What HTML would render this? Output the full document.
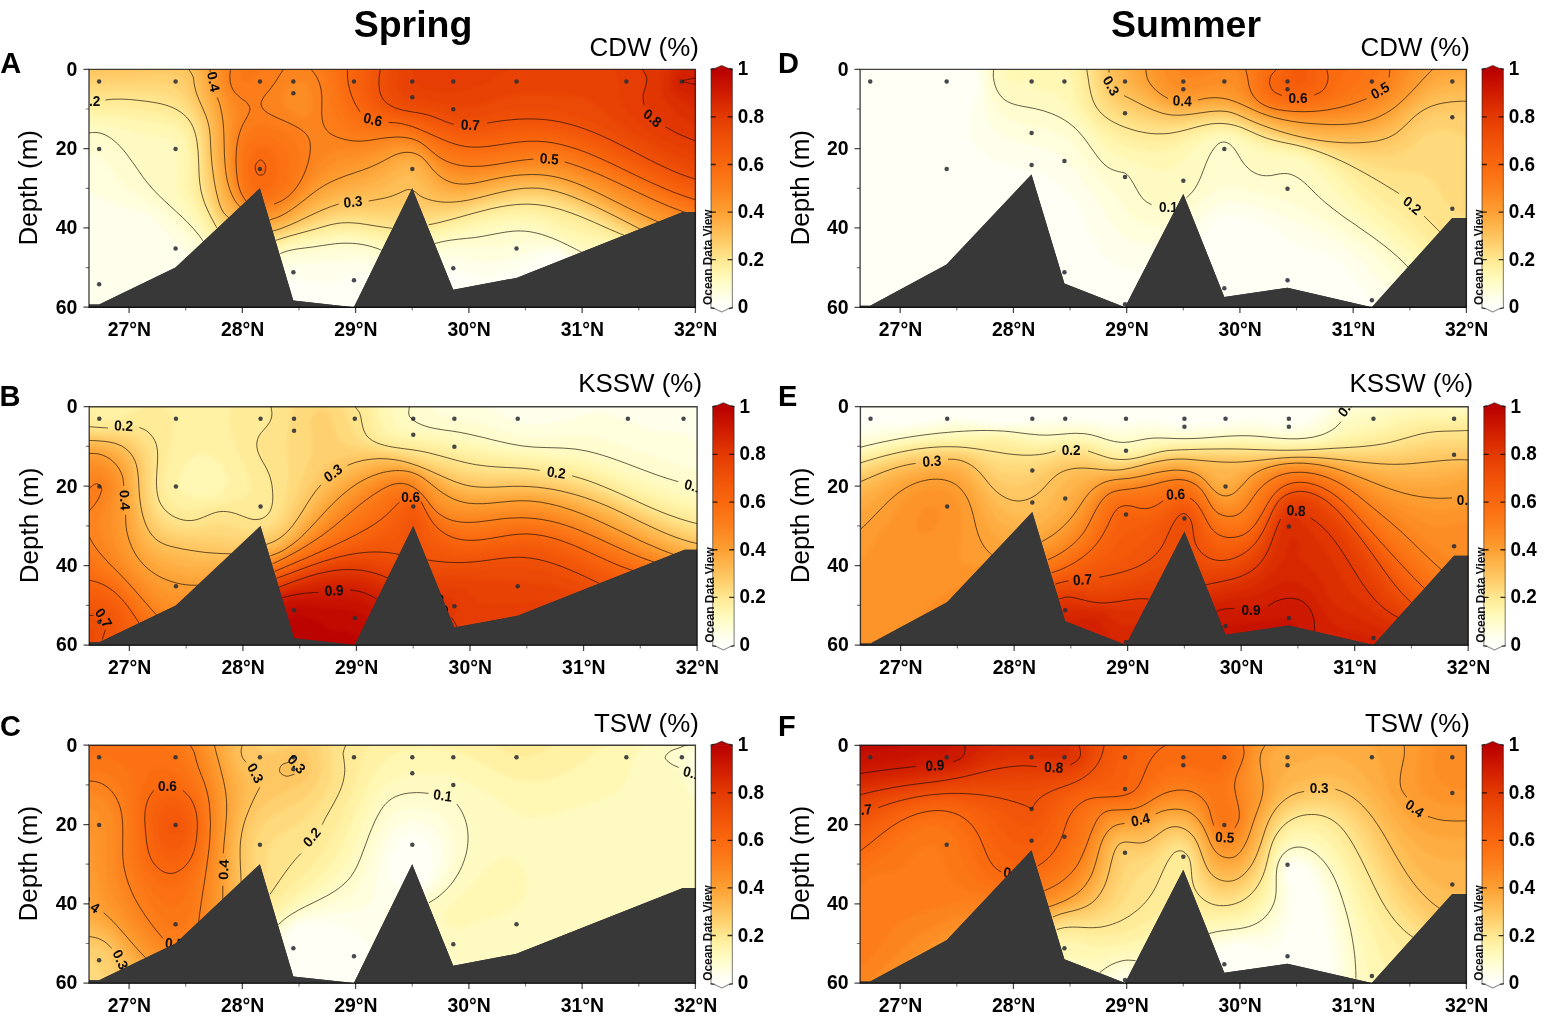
<!DOCTYPE html>
<html lang="en"><head><meta charset="utf-8"><title>Water mass sections</title>
<style>
html,body{margin:0;padding:0;background:#fff;}
body{width:1546px;height:1023px;overflow:hidden;font-family:'Liberation Sans', Arial, Helvetica, sans-serif;}
svg{display:block;font-family:'Liberation Sans', Arial, Helvetica, sans-serif;}
</style></head><body>
<svg width="1546" height="1023" viewBox="0 0 1546 1023">
<defs>
<linearGradient id="cb" x1="0" y1="0" x2="0" y2="1"><stop offset="0%" stop-color="#b80000"/><stop offset="10%" stop-color="#d01c00"/><stop offset="20%" stop-color="#e33a02"/><stop offset="30%" stop-color="#f05208"/><stop offset="40%" stop-color="#fa680e"/><stop offset="50%" stop-color="#fc801b"/><stop offset="60%" stop-color="#fda033"/><stop offset="65%" stop-color="#feb247"/><stop offset="70%" stop-color="#fec35d"/><stop offset="75%" stop-color="#ffd575"/><stop offset="80%" stop-color="#ffe892"/><stop offset="85%" stop-color="#fff5ac"/><stop offset="90%" stop-color="#fffcc8"/><stop offset="94%" stop-color="#fffede"/><stop offset="97%" stop-color="#fffff0"/><stop offset="100%" stop-color="#fffffb"/></linearGradient>
<filter id="bl" x="-5%" y="-5%" width="110%" height="110%" color-interpolation-filters="sRGB"><feGaussianBlur stdDeviation="2"/></filter>
</defs>
<rect width="1546" height="1023" fill="#fff"/>
<text x="413" y="37.3" text-anchor="middle" font-weight="700" font-size="37.5">Spring</text>
<text x="1186" y="37.3" text-anchor="middle" font-weight="700" font-size="37.5">Summer</text>

<g id="panelA">
<clipPath id="clipA"><rect x="89" y="69.4" width="606.4" height="237.8"/></clipPath>
<g clip-path="url(#clipA)"><g filter="url(#bl)"><rect x="60" y="40.4" width="664.4" height="295.8" fill="#fffff6"/><path fill="#ffffec" fill-rule="evenodd" d="M80 60.4L707 60.4L707 318.4L663.7 318.4L660.7 315.4L644 302.7L623 288.4L611 282.4L587 274.1L581 271.6L572 266.1L560 256L557 254.7L554 254.2L545.2 255.4L539 257.7L522.8 267.4L515 271L503 274.5L491 276.9L485 277.5L479 277.3L473 276.2L455 271.3L443 270.3L434 271.1L410 275.4L398 276.7L386 276.8L365 275.6L356 276.1L347 278.1L335 282.8L329 284.4L323 284.1L296 279.3L287 278.7L281 279.4L251 285.1L239 286L230 285.7L218 284.1L209 282L176 270.8L170 270.1L167 270.3L164 271.2L161 273L158 275.9L148.7 288.4L140.2 297.4L132.2 303.4L125 307.3L116 310.9L104 313.7L92 314.2L80 312.6Z"/><path fill="#fffedd" fill-rule="evenodd" d="M80 60.4L707 60.4L707 318.4L675.9 318.4L672.9 315.4L641.4 291.4L623 279L611 273.3L590 267.7L581 264.5L575 261L563 251.5L558.9 249.4L554 248.4L545 248.3L537 249.4L530 251.5L518 257.1L512 259.1L500.5 261.4L491 262.5L482 262.6L458 258.3L446 258L437 259.4L410 266.1L395 267.3L383 266.3L359 261.3L347 260.7L323 262.7L302 263.5L293 264.4L284 266.6L263 273.7L248 276.5L239 276.8L230 276L224 274.9L215 272L205.8 267.4L197 261.1L167 233.3L154.2 219.4L149 215L143 212.3L115.2 204.4L107 200.9L89 191.4L80 189Z"/><path fill="#fffdcf" fill-rule="evenodd" d="M80 60.4L707 60.4L707 318.4L687.7 318.4L684.6 315.4L635 277.8L626 271.7L617 266.9L608 263.8L590 260.7L584 259.2L578 256.6L566 248.6L560 245.5L551 243.1L542 241.7L533 241.3L524 241.8L497 246.4L485 247.7L458 247.5L446 248.3L437 250.2L416 256.7L401 259.2L389 258.9L383 257.8L362 251.8L353 250.7L344 250.6L332 251.4L293 255.8L284 258.3L263 266.3L251 268.9L242 269.4L236 269L227 267.2L221 265.1L212 260.4L205.7 255.4L188 235.8L158 208.6L152 204L133.5 192.4L125.7 186.4L116.9 177.4L104 160.8L98 155L95 153.2L89 151.4L80 151.7Z"/><path fill="#fffac1" fill-rule="evenodd" d="M80 60.4L707 60.4L707 318.4L699.5 318.4L696.3 315.4L671 296.9L635 269.4L626 263.1L620 259.6L614 257L608 255.4L584 252.6L554 238.6L539 233.7L527 231.5L518 231.1L509 231.7L479 237L449 240.6L436 243.4L416 249.7L404 251.9L395 252.3L389 251.8L383 250.5L370.2 246.4L362 244.6L353 243.5L341.4 243.4L332 244.3L293 249.9L283.9 252.4L266 259.4L254 262.4L245 263.1L239 262.8L230 261L224 258.9L217.6 255.4L210 249.4L191 226.1L153.5 189.4L145.8 180.4L126.3 153.4L121.1 147.4L114.8 141.4L105.7 135.4L98 133L92 132.8L80 134.4Z"/><path fill="#fff7b3" fill-rule="evenodd" d="M80 60.4L707 60.4L707 314.2L701 310.6L683 297.9L632 259.3L620 251.6L614 249L605 246.6L587 244.8L581 243.6L566 237.8L545 227.3L536 224.4L527 222.7L512 222.3L497 224.4L443 236L416 243.5L404 245.6L395 245.9L389 245.4L362 238.9L350 237.6L341 237.6L329 239.1L290 246.1L281 248.9L266 254.5L254 257.3L245 257.7L239 257.1L233 255.8L227 253.7L218 248.4L209.7 240.4L186.5 207.4L181 198.4L177.6 189.4L176.9 183.4L178.8 162.4L178.4 153.4L176 145.7L173 141.4L169 138.4L164 136.4L158 135.1L137 132.3L107 124L95 122.7L80 123.6Z"/><path fill="#fff2a5" fill-rule="evenodd" d="M80 60.4L707 60.4L707 306.3L701 302.8L677 286.1L656 270.7L629 250L620 244.4L608 239.9L575 231.6L546.9 219.4L539 217.2L530 215.7L515 215.3L497 217.5L487.8 219.4L422 236.3L404 239.6L392 239.8L359 233.2L350 232.4L341 232.5L329 234.1L293 241.6L284 244L266 250.4L257 252.4L248 253L242 252.5L236 251.3L230 249.2L221 244.2L216.5 240.4L212 235.3L198.8 213.4L192.5 201.4L189.5 192.4L188.4 186.4L187.9 177.4L188.1 156.4L187.1 147.4L185 139.8L180.8 132.4L177.8 129.4L173 126.3L167 124L161 122.7L113 115.6L95 114.6L80 114.9Z"/><path fill="#ffeb98" fill-rule="evenodd" d="M80 60.4L707 60.4L707 298.8L701 295.4L671 275L632 245.9L623 240L609.6 234.4L561.5 216.4L548 212.4L536 210.1L527 209.4L518 209.4L500 211.5L479 216.3L434 228.5L407 233.5L398 234.2L392 234L359 228.3L350 227.5L341 227.7L329 229.5L296 237.5L285.1 240.4L269 245.8L260 248L251 248.7L245 248.4L239 247.3L233 245.3L223.8 240.4L218 235.5L215 232L210.8 225.4L204.5 213.4L199 201.4L196.2 192.4L194.7 183.4L193.9 156.4L192.6 144.4L191 137.2L189.2 132.4L185 125.1L179 119.7L173 116.5L164 113.7L155 111.8L122 107.5L80 106.9Z"/><path fill="#ffe38b" fill-rule="evenodd" d="M80 60.4L707 60.4L707 291.6L701 288.3L671 268.5L631.8 240.4L623 235.1L586.9 219.4L571.7 213.4L552.2 207.4L536 204.7L527 204.2L518 204.6L500 207L484.7 210.4L440 222.3L428 224.8L416 226.4L401 228L392 228.1L359 223.4L350 222.8L341 223L326 226L263 244L254 244.9L248 244.6L242 243.6L236 241.7L227 237.2L221 232.5L218 229.2L210.5 216.4L205 204.4L201.2 192.4L199.7 183.4L197.8 150.4L196.2 138.4L193.7 129.4L191 123.5L188 119.1L182 113.2L176 109.3L167 105.5L155 102.6L140 100.6L125 99.3L101 99.9L80 99Z"/><path fill="#ffda7c" fill-rule="evenodd" d="M80 60.4L707 60.4L707 284.7L701 281.5L671 262.5L638.8 240.4L626 232.5L591.3 216.4L575 209.6L557 203.7L548 201.5L539 200.2L524 199.9L506 202L491 205.1L446 216.2L425 219.7L392 221.7L356 218.1L341 218.4L326 221.8L275 238L266 240.3L257 241.3L251 241.1L245 240.2L239 238.4L230 234.1L224 229.6L221 226.6L215 217.5L210.1 207.4L207 198.4L204.3 186.4L202.9 174.4L200.9 144.4L199 132.4L197.3 126.4L194.6 120.4L188 110.7L182 104.5L176 99.8L170 96.5L161 93.9L152 92.7L134 91.7L119 91.5L101 92.2L80 91.1Z"/><path fill="#ffd06f" fill-rule="evenodd" d="M80 60.4L707 60.4L707 278.1L701 275L671 256.8L636.1 234.4L625.2 228.4L594 213.4L572.4 204.4L554 198.5L539 195.9L527 195.7L512 197.2L497 200.1L458 209.4L446 211.6L434 213L389 214.5L353 212.9L341 213.8L326 217.6L287.5 231.4L269 236.9L260 238L254 237.9L248 237L242 235.3L233 231.1L225.4 225.4L220.2 219.4L215 210.4L210.7 198.4L208 186.4L206.2 171.4L203.7 138.4L201.4 126.4L197.8 117.4L194 110.5L185 97.4L179 90.2L173 86.1L167 84.3L161 83.4L149 83.1L101 84.3L80 82.9Z"/><path fill="#fec763" fill-rule="evenodd" d="M80 60.4L707 60.4L707 271.7L665 248L637.6 231.4L602 213.4L582.2 204.4L566 198.2L551 193.8L539 192L527 191.8L512 193.6L464 204.5L446 207L431 207L407 204.4L380 207.2L353 207.6L344 208.3L329 212.1L288.4 228.4L272 233.6L263 234.9L257 234.9L251 234.1L245 232.4L236 228.1L227 221.5L221 214.7L217.2 207.4L213.5 195.4L210.7 180.4L208.9 165.4L206.8 135.4L205.2 126.4L200.9 114.4L191.7 96.4L185.4 81.4L183.1 78.4L179 75.7L176 74.6L164 72.8L155 72.9L131 75.4L122 75.7L98 75.8L80 74.2Z"/><path fill="#febf57" fill-rule="evenodd" d="M80 60.4L707 60.4L707 265.5L665 243.1L644.7 231.4L593 205.5L578 199L563 193.4L551 190.1L539 188.3L527 188.2L515 189.5L503 191.7L467 200.2L458 201.6L449 202.2L440 201.7L431 200L422 196.7L413 191L410 190.1L407 190.1L393.5 195.4L382.9 198.4L368 201L347 202.5L335 205.2L320 210.9L288.7 225.4L272 231L266 231.9L260 232L254 231.3L248 229.7L239.2 225.4L230 218.7L224 212.5L219.9 204.4L215.9 189.4L213.2 174.4L211.6 159.4L210.1 135.4L208.2 123.4L205.3 114.4L196.5 93.4L192 75.4L188 69.2L185 66.8L179 64L173 62.4L167 61.6L155 62L128 66.2L104 66.7L92 66.1L80 64.4Z"/><path fill="#feb64c" fill-rule="evenodd" d="M189.7 60.4L707 60.4L707 259.6L599 204.7L578 195.3L560 188.9L551 186.6L542 185.1L533 184.6L524 184.9L506 187.5L467 196.4L458 197.4L449 197.3L440 195.7L432.1 192.4L425 186.8L416 177.3L413 175.4L410 174.5L407 174.6L401 176.9L386.7 186.4L377 190.7L365 193.9L344 197.1L329 201.9L317 207.4L290 221.7L278 226.6L272 228.3L266 229.1L257 228.6L251 227.1L242 222.7L234 216.4L227 209.2L223 201.4L219.5 189.4L216.6 174.4L214.9 159.4L213.3 132.4L211.3 120.4L208.5 111.4L201.8 93.4L197 72.7L194 66.4Z"/><path fill="#fead42" fill-rule="evenodd" d="M197.2 60.4L707 60.4L707 253.7L662 232.5L593 198.2L578 191.6L563 186.2L554 183.8L545 182.1L536 181.3L524 181.5L506 183.8L470 192L461 192.9L452 192.7L443 190.5L437 187.5L431 182.6L419 168.2L415.1 165.4L410 164.1L407 164.2L401 166.1L383 177.8L371 183.7L362 186.6L341 191.6L326 197.3L314 203.7L293.2 216.4L281 222.5L272 225.4L266 226.2L257 225.5L251 223.6L243.5 219.4L234.1 210.4L229.2 204.4L225.1 195.4L221.7 183.4L219.5 171.4L218.1 156.4L216.8 132.4L215.1 120.4L212 108.5L205.8 90.4L201.7 72.4Z"/><path fill="#fda438" fill-rule="evenodd" d="M202.9 60.4L707 60.4L707 248.1L683 236.9L659 226.7L587 191.7L575 186.7L563 182.5L554 180.2L545 178.7L536 178L524 178.1L505.2 180.4L470 187.9L461 188.5L455 188.1L446 185.8L440 182.6L433.9 177.4L421.2 162.4L416 158.9L410 157.5L404 158L399.3 159.4L393.3 162.4L380 170.5L371 175L362 178.4L338 186L329 189.6L317 196.2L291.7 213.4L280.4 219.4L272 222.3L266 223.2L260 222.9L254 221.4L249.6 219.4L245 216.3L236.4 207.4L231.8 201.4L228.8 195.4L226.6 189.4L224.3 180.4L222.3 168.4L220.3 132.4L218.4 117.4L215.5 105.4L209.4 87.4Z"/><path fill="#fd9c30" fill-rule="evenodd" d="M208.1 60.4L707 60.4L707 242.5L683 231.7L665 224.8L652.7 219.4L587 187.6L566 179.6L557 177.2L548 175.6L539 174.7L527 174.6L506 176.8L470 183.6L461 184L455 183.3L449 181.5L443 178.5L434 171L422 157.8L416 154.2L410 152.7L401 153.2L395 155.1L371 166.8L344 176.4L332 181.4L326 184.5L317 190.3L290.3 210.4L278 217L272 219.1L266 220.1L260 219.7L254 218.1L248 214.9L245 212.4L237.6 204.4L232 195.4L228.7 186.4L226.6 177.4L225 165.4L223.7 129.4L222.1 114.4L220 105.4L212.9 84.4Z"/><path fill="#fd942a" fill-rule="evenodd" d="M213.3 60.4L707 60.4L707 237.1L683 226.5L665 219.8L650.1 213.4L590 184.6L578 179.6L566 175.5L557 173.2L548 171.8L530 171L509 172.9L473 179.1L464 179.5L458 179L449 176.3L443 173.1L437 168.4L425 156.2L419 151.9L413 149.4L407 148.4L401 148.6L392 150.7L371 159.3L347 167.1L335 171.9L329 175.2L320 181.5L293 204.7L287 208.8L278 213.5L272 215.7L266 216.8L260 216.5L254 214.8L248 211.4L245 208.9L238.4 201.4L233.5 192.4L230.6 183.4L228.8 174.4L227.6 162.4L227.4 126.4L226.5 114.4L224.5 105.4L217 84.4L215.2 75.4Z"/><path fill="#fc8c24" fill-rule="evenodd" d="M218.6 60.4L707 60.4L707 231.8L683 221.4L653 209.5L591.2 180.4L578 175.1L566 171.1L551 168.2L533 167.2L515 168.6L476 174.7L467 175.1L458 174.2L449 171.4L443 168.2L437 163.7L425 152.6L419 148.4L413 145.8L404 144.5L398 144.8L389 146.5L365 154.1L343.1 159.4L335 162.4L329 165.8L323 170.4L299.1 195.4L293 200.7L287 205.1L278 209.9L269 213L266 213.5L260 213.3L254 211.6L248 208.2L241.1 201.4L236 192.4L233.1 183.4L231.1 171.4L230.2 156.4L230.4 144.4L231.7 123.4L231.5 114.4L229.4 105.4L223.1 90.4L221.2 84.4L219.6 75.4Z"/><path fill="#fc841e" fill-rule="evenodd" d="M224.6 60.4L707 60.4L707 226.6L683.2 216.4L656 205.6L595.3 177.4L580.3 171.4L566 166.7L551 164.1L533 163.3L518 164.6L479 170.3L470 170.7L461 170.1L452 167.9L443 163.7L437 159.5L425 149.1L419 145.1L413 142.5L404 140.9L398 140.8L389 141.8L365 147.2L356 148.6L338 150.1L332 151.5L329 152.7L323.8 156.4L320 160.6L306.7 180.4L299.8 189.4L294.1 195.4L287 201.3L278 206.2L269 209.4L263 210.2L260 210L254 208.5L248 205.2L245 202.6L241.7 198.4L237.4 189.4L235 180.4L233.3 165.4L233.2 150.4L234.3 138.4L237.7 117.4L237.5 111.4L235.7 105.4L227.8 90.4L225.7 84.4L224.4 75.4ZM299 81.1L296 81.5L293 82.8L290 85.1L287 88.7L284.4 93.4L283.4 96.4L283 99.4L283.4 102.4L284.7 105.4L287 108.4L290.5 111.4L299 116.2L302 117.2L305 117.4L308 116L310.8 111.4L311.8 105.4L311.7 96.4L310.2 90.4L308 86.3L305 83.2L302 81.6Z"/><path fill="#fc7d19" fill-rule="evenodd" d="M232.1 60.4L707 60.4L707 221.6L659 202.2L593 171.9L575.8 165.4L563 161.6L548 159.6L533 159.2L521 160.3L485 165.7L473 166.3L464 165.8L455 164.1L446 160.8L437 155.3L422 143.5L416 140.4L410 138.5L401 137.2L392 137.3L368 140.5L359 141.1L350 140.4L338 137.4L333.2 135.4L328.6 132.4L325.9 129.4L324.1 126.4L322.1 117.4L321.8 99.4L321 90.4L319.6 84.4L317 77.9L313.4 72.4L308 67.1L302 64.2L296 63.4L290 64.8L287 66.4L283.6 69.4L272 86.5L264.3 96.4L261.3 102.4L261.2 105.4L262.8 108.4L266 111.4L270.6 114.4L295.4 126.4L304.4 132.4L307.3 135.4L309.1 138.4L310 141.4L310.5 147.4L309.5 156.4L307.2 165.4L303.8 174.4L298.9 183.4L292 192.4L285 198.4L278 202.3L269 205.6L263 206.6L260 206.5L254 205.2L248 202L245 198.9L242.7 195.4L239 186.4L237.3 177.4L236.2 159.4L236.5 150.4L237.8 141.4L239 135.7L242 127L248.4 114.4L249.7 111.4L250.2 108.4L249.3 105.4L246.7 102.4L239 96.2L236 93.1L232.4 87.4L231.3 84.4L230.2 78.4L230.4 72.4Z"/><path fill="#fb7716" fill-rule="evenodd" d="M246.6 60.4L263.4 60.4L260 69.4L256.7 75.4L254 78.6L251 80.9L248 82L244.6 81.4L242.2 78.4L241.9 75.4L243.2 69.4ZM318.3 60.4L707 60.4L707 216.7L662 199.2L594.8 168.4L579.3 162.4L566 158.2L551 155.7L536 154.8L524 155.7L485 161.4L473 161.8L464 161.1L455 159.3L446 156.2L440 153L422 140.2L416 137.3L410 135.3L404 134.1L395 133.4L365 134.7L356 133.5L350 131.5L344 128.2L338.5 123.4L336.2 120.4L333.1 114.4L331.4 108.4L328.9 90.4L326.4 78.4L323.1 69.4ZM254.3 126.4L260 124.9L269 126.1L278.4 129.4L287 134.2L291.7 138.4L295.7 144.4L297.9 150.4L298.9 156.4L298.7 165.4L296.8 174.4L294.4 180.4L290 187.7L284 193.9L278 197.8L269.2 201.4L263 202.7L257 202.4L254 201.7L251 200.3L248 198L245 193.7L243.1 189.4L241.4 183.4L240.4 177.4L239.7 159.4L240.5 150.4L242 143.1L245 135.7L248 131.2L251 128.3Z"/><path fill="#fb7113" fill-rule="evenodd" d="M329.2 60.4L707 60.4L707 212L668 197.8L596 164.8L581 158.9L566 154.1L551 151.4L536 150.4L521 151.5L485 156.8L473 157.1L464 156.2L455 154.4L446 151.2L440 148.1L422 136.9L410 132.2L398 130L377 129.8L368 129.1L362 128L357.4 126.4L353 124.1L348.4 120.4L343.6 114.4L340.6 108.4L337.2 96.4L332.7 72.4ZM253.2 138.4L257 136.4L263 135.6L269 136.6L275 139.3L281 143.9L283.9 147.4L287.1 153.4L288.8 159.4L289.5 168.4L288.8 174.4L287 180.4L284 185.7L280.8 189.4L275 193.6L269 196.4L263 198L257 198L254 197.1L251 195.3L248 191.5L245 183L243.8 168.4L244.1 159.4L244.9 153.4L248 144.4L251 140.3Z"/><path fill="#fa6b10" fill-rule="evenodd" d="M338.2 60.4L707 60.4L707 207.4L689 201.7L671 195.1L650.8 186.4L596 160.7L578 153.7L563 149.3L548 146.6L533 145.9L521 146.8L485 151.8L476 152.2L467 151.7L458 150L449 147.2L440 143.1L422 133.6L410 129L398 126.5L383 125.8L374 124.8L365 122.5L359 119.5L353.3 114.4L349.4 108.4L347 103.3L344.5 96.4L342.3 87.4ZM258.9 147.4L263 146.9L266 147.6L270.5 150.4L273.2 153.4L275 156.4L277.1 162.4L278.2 171.4L277.5 177.4L276.5 180.4L274.9 183.4L272.4 186.4L266 190.4L260 191.7L257 191.2L254 189.5L251.9 186.4L250 180.4L249 168.4L249.4 162.4L251 155.8L254 150.6L257 148.1Z"/><path fill="#f9650d" fill-rule="evenodd" d="M346.6 60.4L707 60.4L707 202.7L691.4 198.4L671 191L653.1 183.4L593 155.1L578 149.4L563 144.9L548 142.1L533 141.2L518 142.2L485 146.6L476 147.1L467 146.6L458 144.9L449 142.1L422 130.2L410 125.8L398 123.1L380 121.2L371 118.7L365 115.8L360 111.4L356 105.4L353.1 99.4L350.9 93.4L348.6 84.4ZM258.2 162.4L260 161.1L263 162L265.3 165.4L265.7 168.4L265.1 171.4L263 174.8L260 175.7L257 173.2L255.5 168.4L256 165.4L257 163.4Z"/><path fill="#f6600c" fill-rule="evenodd" d="M354.8 60.4L707 60.4L707 197.9L689 193.2L670.3 186.4L649.8 177.4L596 151.7L581 145.8L563 140.3L545 137L530 136.3L515 137.3L482 141.6L473 141.9L464 141.2L458 140L449 137.3L422 126.6L410 122.5L401 120.4L386 118.1L377 115.5L371 112.4L366.2 108.4L362 102.4L359.2 96.4L357.2 90.4L355.5 81.4Z"/><path fill="#f45a0a" fill-rule="evenodd" d="M363.1 60.4L707 60.4L707 192.9L692 189.4L674.9 183.4L654.1 174.4L614 154.7L596 146.4L578 139.6L563 135.1L545 131.9L530 131.1L512 132.3L479 136.4L464 136.1L458 135.2L449 132.7L428 124.7L416 120.7L389 114.6L383 112.7L377 109.6L372 105.4L369.7 102.4L366.5 96.4L364.6 90.4L363.2 81.4Z"/><path fill="#f15509" fill-rule="evenodd" d="M371.9 60.4L707 60.4L707 187.5L692 184.1L673.5 177.4L653.5 168.4L602 143L584 135.7L566 130.1L548 126.6L530 125.5L509 126.7L476 130.9L461 130.7L452 129L422 118.3L398 112.8L389 110.1L383 107.1L377.6 102.4L375.5 99.4L372.8 93.4L371.5 87.4L371 81.4Z"/><path fill="#ee4f07" fill-rule="evenodd" d="M380.9 60.4L707 60.4L707 181.5L700.6 180.4L692 178L674.2 171.4L654.8 162.4L617 143L599 134.5L581 127.5L563 122.4L545 119.5L524 118.8L506 120.2L476 124.6L461 125.1L452 123.7L428 115L397.6 108.4L390.6 105.4L386.3 102.4L383.6 99.4L380.5 93.4L379.3 87.4L379 81.4Z"/><path fill="#eb4906" fill-rule="evenodd" d="M390.1 60.4L707 60.4L707 174.7L693.2 171.4L677 165.3L652 153.4L599 125L584 118.6L566 113.4L545 110.2L524 109.6L503 111.8L473.4 117.4L461 118.2L452 116.9L431 109.8L407 105.6L401 103.7L398 102.4L393.7 99.4L391 96.4L388.3 90.4L387.6 81.4Z"/><path fill="#e84304" fill-rule="evenodd" d="M400.5 60.4L707 60.4L707 166.6L698 164.5L683 159.2L668 152.6L652 144.4L636.5 135.4L622.6 126.4L610.4 117.4L593 103.1L587 99.6L581 97.6L569 95.8L539 93.3L524 93.1L515 94.8L479 105.7L470 107.6L461 108.5L452 107.5L434 103L410 98.4L405.3 96.4L401.6 93.4L399.6 90.4L398.4 87.4L397.9 84.4L397.9 78.4Z"/><path fill="#e53d03" fill-rule="evenodd" d="M414.7 60.4L536.1 60.4L527 62.5L515 66.5L506 71.1L489.3 81.4L476 87.2L458 91.2L446 92.2L437 91.5L428 90.1L419.8 87.4L416 84.5L414.1 81.4L412.9 75.4ZM605.2 60.4L707 60.4L707 157L698 154.5L686.9 150.4L666.6 141.4L650.8 132.4L642.1 126.4L634.7 120.4L629 114.4L623.4 105.4L621.4 99.4L619 84.4L616.4 75.4L613.2 69.4Z"/><path fill="#e13602" fill-rule="evenodd" d="M638.9 60.4L707 60.4L707 145.2L686 137.1L670.3 129.4L665 126.1L657.6 120.4L648.4 111.4L644.7 105.4L643.4 99.4L643.8 93.4L645.8 84.4L646.3 78.4L645.5 75.4L641 66.4Z"/><path fill="#dc2f01" fill-rule="evenodd" d="M662.4 60.4L707 60.4L707 131.4L695 125.9L683 118.3L674 110.3L664.5 99.4L661.9 93.4L661 87.4L662.4 72.4Z"/><path fill="#d72701" fill-rule="evenodd" d="M676.3 60.4L707 60.4L707 115.9L701 112.9L680 99.8L674 94.8L671 90.6L669.4 84.4L669.9 78.4L672.3 69.4Z"/><path fill="#d22000" fill-rule="evenodd" d="M699.4 60.4L707 60.4L707 100.2L695 95.3L683 92.5L679.7 90.4L677.1 87.4L675.9 84.4L675.7 81.4L676.2 78.4L677.4 75.4L680 72L683 70.1L692 68.7L695 67.1L698.1 63.4Z"/><path fill="#cd1900" fill-rule="evenodd" d="M694.9 81.4L698 80.2L701 80.4L703.6 81.4L698 82.7Z"/></g></g>
<polygon fill="#383838" points="89,304.4 99.1,304.4 175.5,267.6 259.9,188.3 293.3,300.5 353.9,307.2 412.2,188.3 453.2,289.8 516.4,277.9 682.9,212.1 695.4,212.1 695.4,307.7 89,307.7"/>
<g fill="#2b2f36" fill-opacity="0.88"><circle cx="99.13" cy="81.43" r="2.25"/><circle cx="175.58" cy="81.43" r="2.25"/><circle cx="259.96" cy="81.43" r="2.25"/><circle cx="293.37" cy="81.43" r="2.25"/><circle cx="353.97" cy="81.43" r="2.25"/><circle cx="412.3" cy="81.43" r="2.25"/><circle cx="453.3" cy="81.43" r="2.25"/><circle cx="516.5" cy="81.43" r="2.25"/><circle cx="626.36" cy="81.43" r="2.25"/><circle cx="681.86" cy="81.43" r="2.25"/><circle cx="293.37" cy="93.36" r="2.25"/><circle cx="412.3" cy="97.34" r="2.25"/><circle cx="453.3" cy="109.27" r="2.25"/><circle cx="99.13" cy="149.04" r="2.25"/><circle cx="175.58" cy="149.04" r="2.25"/><circle cx="259.96" cy="168.93" r="2.25"/><circle cx="412.3" cy="168.93" r="2.25"/><circle cx="175.58" cy="248.47" r="2.25"/><circle cx="516.5" cy="248.47" r="2.25"/><circle cx="99.13" cy="284.27" r="2.25"/><circle cx="293.37" cy="272.34" r="2.25"/><circle cx="353.97" cy="280.29" r="2.25"/><circle cx="453.3" cy="268.36" r="2.25"/></g>
<g clip-path="url(#clipA)"><path d="M88.7 132.9C90.2 132.8 94.5 132.2 97.2 132.5C99.9 132.8 102.4 133.7 104.8 134.7C107.2 135.8 109.4 137.2 111.6 138.7C113.7 140.3 115.7 142.1 117.7 143.9C119.6 145.8 121.4 147.8 123.2 149.8C124.9 151.8 126.6 154 128.2 156.2C129.9 158.4 131.5 160.6 133.1 162.9C134.6 165.1 136.2 167.4 137.8 169.7C139.4 172 140.9 174.3 142.6 176.5C144.2 178.7 145.8 180.9 147.6 183C149.3 185.1 151.1 187.2 152.9 189.2C154.7 191.2 156.6 193.1 158.6 195.1C160.5 197 162.4 198.8 164.4 200.7C166.4 202.6 168.4 204.4 170.4 206.2C172.4 208 174.4 209.8 176.3 211.7C178.3 213.5 180.3 215.3 182.3 217.2C184.2 219.1 186.2 221 188 222.9C189.9 224.8 191.8 226.8 193.6 228.8C195.4 230.9 197.1 232.9 198.8 235.1C200.5 237.2 202.8 240.7 203.6 241.8M105.5 100C106.8 99.8 111 99.3 113.7 99.2C116.4 99.1 119 99.1 121.7 99.1C124.3 99.2 126.9 99.3 129.6 99.5C132.2 99.7 134.8 100 137.5 100.3C140.2 100.5 142.9 100.9 145.6 101.2C148.3 101.6 151 101.9 153.7 102.4C156.4 102.8 159.2 103.4 161.8 104C164.5 104.7 167.1 105.4 169.6 106.4C172.2 107.3 174.6 108.4 177 109.8C179.3 111.1 181.5 112.6 183.5 114.3C185.6 116 187.4 117.9 189 120C190.6 122.1 191.9 124.4 192.9 126.8C194 129.3 194.8 131.9 195.5 134.5C196.2 137 196.7 139.7 197.1 142.3C197.5 145 197.8 147.7 198 150.4C198.2 153.1 198.3 155.8 198.5 158.5C198.6 161.3 198.6 164 198.8 166.7C198.9 169.5 198.9 172.2 199.1 174.9C199.3 177.6 199.5 180.3 199.8 183C200.1 185.6 200.5 188.3 201 190.9C201.6 193.5 202.3 196.1 203.1 198.6C203.9 201.2 204.8 203.7 205.9 206.2C206.9 208.6 208 211.1 209.2 213.5C210.4 215.9 211.6 218.3 212.9 220.7C214.2 223.1 216.2 226.6 216.8 227.8M188.6 69.2C189.3 70.4 192 73.7 192.9 76.3C193.9 78.8 193.8 81.8 194.3 84.5C194.9 87.3 195.4 90 196.3 92.6C197.1 95.2 198.1 97.7 199.2 100.2C200.2 102.8 201.4 105.2 202.5 107.8C203.6 110.3 204.7 112.8 205.7 115.4C206.6 118 207.6 120.6 208.2 123.2C208.9 125.9 209.4 128.6 209.7 131.3C210.1 134 210.2 136.8 210.4 139.6C210.6 142.4 210.7 145.2 210.8 148C211 150.7 211.1 153.5 211.3 156.3C211.5 159 211.8 161.7 212 164.5C212.3 167.2 212.6 169.9 213 172.7C213.3 175.4 213.7 178.1 214.2 180.8C214.7 183.5 215.2 186.3 215.7 189C216.3 191.7 216.9 194.4 217.6 197.1C218.3 199.8 218.9 202.6 219.9 205.2C220.9 207.7 221.9 210.3 223.5 212.5C225.1 214.7 228.3 217.3 229.3 218.3M217.3 97.5C217.8 98.8 219.3 102.7 220 105.3C220.7 108 221.3 110.6 221.8 113.3C222.3 116 222.7 118.6 223 121.3C223.3 124 223.5 126.7 223.7 129.5C223.8 132.2 223.9 134.9 224 137.6C224.1 140.4 224.1 143.1 224.2 145.9C224.3 148.6 224.3 151.4 224.4 154.2C224.5 156.9 224.7 159.7 224.9 162.5C225.1 165.3 225.3 168 225.7 170.8C226 173.5 226.4 176.3 227 179C227.5 181.7 228.2 184.3 229 186.9C229.8 189.5 230.7 192.1 231.8 194.5C232.9 197 234.2 199.4 235.7 201.6C237.2 203.9 240.2 206.8 241.1 207.8M209.8 69.2L210.3 72M230.6 69.2C230.4 70.6 229.8 74.5 229.9 77.2C229.9 79.8 230.2 82.8 231 85.3C231.8 87.8 233.1 90.1 234.7 92.2C236.3 94.3 238.5 96 240.6 97.8C242.6 99.6 245.5 101 247.1 102.9C248.6 104.8 249.9 106.8 249.9 109C249.9 111.3 248.4 114 247.3 116.5C246.2 119 244.5 121.3 243.3 123.8C242.1 126.3 241 128.8 240.2 131.3C239.3 133.8 238.6 136.4 238 139C237.4 141.6 237 144.3 236.7 146.9C236.4 149.5 236.2 152.2 236.1 154.9C236 157.6 236 160.2 236 162.9C236.1 165.6 236.2 168.3 236.4 171C236.6 173.6 236.9 176.3 237.3 179C237.7 181.6 238.2 184.2 238.9 186.7C239.6 189.3 240.5 191.8 241.7 194.2C242.9 196.5 245.3 199.9 246 201.1M283.5 69.2C282.7 70.4 280.4 74 278.9 76.3C277.4 78.6 276.1 80.8 274.6 83.1C273 85.3 271.3 87.5 269.6 89.8C267.8 92.1 265.3 94.5 263.9 96.8C262.5 99.2 261 101.7 261 103.9C261.1 106.2 262.6 108.5 264.4 110.4C266.2 112.3 269.2 113.8 271.7 115.2C274.3 116.6 276.9 117.6 279.5 118.8C282 119.9 284.5 120.9 287 122.1C289.5 123.2 291.9 124.4 294.4 125.7C296.9 127.1 299.6 128.5 301.8 130.2C304 131.9 306.2 133.8 307.6 136C309 138.2 309.8 140.8 310.2 143.5C310.6 146.1 310.3 149.1 310.1 151.9C309.8 154.7 309.3 157.5 308.7 160.2C308.1 162.9 307.3 165.6 306.3 168.2C305.4 170.9 304.3 173.5 303.1 176C301.9 178.5 300.6 181 299.1 183.4C297.7 185.7 296.1 188 294.3 190.1C292.5 192.2 290.6 194.2 288.6 196C286.5 197.7 284.2 199.3 281.8 200.7C279.4 202 275.3 203.5 274 204.1M260.7 159.9C262.4 159.9 264.9 163.2 265.5 165.6C266 167.9 265.2 172.6 263.9 174.1C262.5 175.5 258.8 175.5 257.4 174.1C256 172.7 254.8 167.9 255.4 165.6C255.9 163.2 259 159.9 260.7 159.9M311 69.2C311.8 70.3 314.6 73.4 315.9 75.6C317.3 77.9 318.4 80.3 319.3 82.8C320.2 85.3 320.8 87.9 321.2 90.6C321.6 93.2 321.8 96 321.9 98.7C322 101.5 321.8 104.3 321.8 107.1C321.8 109.8 321.6 112.6 321.8 115.3C322.1 118 322.3 120.7 323.1 123.2C323.9 125.6 324.9 128.1 326.5 130.1C328.1 132.1 330.2 133.6 332.5 135C334.8 136.3 337.5 137.3 340.1 138.1C342.8 139 345.6 139.7 348.3 140.2C351 140.7 353.7 141 356.4 141.1C359 141.2 361.7 141.1 364.3 140.9C367 140.7 369.6 140.3 372.2 139.9C374.8 139.5 377.4 139 380.1 138.6C382.8 138.2 385.5 137.8 388.2 137.6C390.9 137.3 393.6 137.1 396.4 137C399.1 137 401.8 137.1 404.5 137.4C407.1 137.7 409.7 138.2 412.2 138.9C414.8 139.7 417.2 140.7 419.5 141.9C421.8 143.2 423.9 144.8 426 146.4C428.2 148.1 430.2 150 432.3 151.8C434.5 153.5 436.6 155.4 438.9 156.9C441.1 158.4 443.6 159.8 446.1 161C448.5 162.1 451.1 163 453.7 163.8C456.3 164.6 458.8 165.1 461.5 165.5C464.1 165.9 466.7 166.2 469.3 166.3C472 166.5 474.6 166.4 477.3 166.3C480 166.3 482.6 166 485.3 165.8C488 165.5 490.7 165.1 493.4 164.8C496.1 164.4 498.8 163.9 501.5 163.5C504.2 163.1 506.9 162.6 509.6 162.1C512.2 161.7 514.9 161.2 517.6 160.8C520.3 160.4 522.9 160.1 525.6 159.8C528.2 159.5 532.2 159.2 533.5 159.1M564.7 161.9C566 162.3 569.9 163.4 572.5 164.3C575.1 165.1 577.7 166 580.2 166.9C582.8 167.8 585.3 168.8 587.8 169.8C590.4 170.7 592.9 171.8 595.4 172.8C597.9 173.8 600.4 174.9 602.9 176C605.4 177.1 607.9 178.2 610.3 179.4C612.8 180.5 615.3 181.6 617.7 182.8C620.2 183.9 622.7 185.1 625.1 186.3C627.6 187.4 630 188.6 632.5 189.8C635 191 637.4 192.1 639.9 193.3C642.4 194.5 644.8 195.6 647.3 196.8C649.8 197.9 652.2 199 654.7 200.2C657.2 201.3 659.7 202.4 662.2 203.4C664.7 204.5 667.2 205.6 669.7 206.6C672.3 207.6 674.8 208.6 677.3 209.5C679.9 210.5 683.8 211.8 685 212.3M347.5 69.2C347.5 70.7 347.4 75.2 347.7 78.2C347.9 81.2 348.4 84.2 349.1 87.1C349.7 90 350.6 93 351.6 95.8C352.7 98.6 353.9 101.4 355.3 104C356.7 106.7 359.2 110.4 359.9 111.7M388.7 122.4C390 122.5 394.2 122.6 396.8 122.9C399.5 123.2 402.1 123.7 404.7 124.4C407.3 125 409.9 125.8 412.5 126.6C415 127.5 417.5 128.5 420 129.5C422.5 130.5 425 131.6 427.5 132.7C430 133.8 432.5 135 435 136.1C437.4 137.2 439.9 138.3 442.4 139.4C444.9 140.4 447.4 141.5 449.9 142.4C452.5 143.3 455 144.1 457.5 144.8C460.1 145.5 462.7 146 465.3 146.4C467.8 146.8 470.5 147 473.1 147.1C475.7 147.2 478.4 147.1 481.1 147C483.7 146.8 486.4 146.5 489.1 146.2C491.8 145.9 494.5 145.5 497.2 145.1C499.9 144.7 502.6 144.3 505.3 143.9C508 143.5 510.7 143.1 513.4 142.7C516.1 142.4 518.7 142 521.4 141.8C524.1 141.5 526.8 141.3 529.5 141.2C532.2 141.1 534.8 141.1 537.5 141.2C540.2 141.3 542.9 141.5 545.5 141.8C548.2 142.1 550.8 142.5 553.5 142.9C556.1 143.4 558.8 144 561.4 144.6C564 145.2 566.6 145.9 569.2 146.7C571.8 147.4 574.4 148.2 577 149.1C579.5 150 582.1 150.9 584.6 151.8C587.1 152.8 589.6 153.8 592.1 154.8C594.6 155.9 597.1 156.9 599.5 158C602 159.1 604.4 160.2 606.9 161.4C609.3 162.5 611.8 163.7 614.2 164.8C616.6 166 619 167.2 621.5 168.4C623.9 169.5 626.3 170.7 628.7 171.9C631.2 173.1 633.6 174.3 636 175.4C638.4 176.6 640.9 177.8 643.3 178.9C645.7 180.1 648.2 181.2 650.6 182.3C653.1 183.4 655.5 184.6 658 185.6C660.4 186.7 662.9 187.8 665.4 188.8C667.9 189.9 670.3 190.9 672.8 191.9C675.3 192.9 677.9 193.8 680.4 194.7C682.9 195.7 685.5 196.6 688 197.4C690.6 198.2 694.5 199.4 695.8 199.8M380.4 69.2C380.2 70.6 379.4 74.4 379.2 77.2C379 80 378.8 83 379 85.8C379.2 88.7 379.7 91.6 380.5 94.1C381.4 96.6 382.7 98.9 384.4 100.8C386 102.7 388.2 104.3 390.5 105.6C392.8 107 395.5 108 398.1 108.8C400.7 109.7 403.6 110.3 406.3 110.9C409 111.4 411.8 111.8 414.5 112.3C417.2 112.7 420 113.1 422.6 113.7C425.3 114.3 427.9 114.9 430.5 115.8C433.1 116.6 435.6 117.6 438.2 118.6C440.7 119.6 443.2 120.7 445.8 121.7C448.3 122.7 452.3 124 453.6 124.4M487.3 123.2C488.6 122.9 492.6 122.2 495.3 121.7C498 121.3 500.8 120.9 503.5 120.6C506.2 120.2 508.9 119.9 511.7 119.7C514.4 119.4 517.1 119.2 519.9 119.1C522.6 119 525.4 118.9 528.1 118.9C530.8 118.9 533.6 118.9 536.3 119C539 119.1 541.7 119.3 544.4 119.6C547.1 119.8 549.8 120.1 552.5 120.5C555.2 120.9 557.9 121.4 560.5 122C563.2 122.5 565.8 123.1 568.4 123.8C571.1 124.5 573.7 125.3 576.3 126.1C578.9 126.9 581.4 127.8 584 128.7C586.6 129.6 589.1 130.6 591.6 131.6C594.2 132.6 596.7 133.6 599.2 134.7C601.7 135.8 604.2 136.9 606.7 138.1C609.1 139.2 611.6 140.4 614 141.6C616.5 142.8 618.9 144.1 621.4 145.3C623.8 146.5 626.2 147.8 628.7 149C631.1 150.3 633.5 151.6 636 152.8C638.4 154.1 640.8 155.4 643.2 156.6C645.7 157.9 648.1 159.1 650.5 160.4C653 161.6 655.4 162.8 657.9 164C660.3 165.2 662.8 166.4 665.3 167.5C667.8 168.7 670.2 169.8 672.8 170.9C675.3 171.9 677.8 173 680.3 174C682.8 175 685.4 175.9 688 176.8C690.6 177.7 694.5 178.9 695.8 179.4M642.1 69.2C642.9 70.6 646.2 74.6 646.7 77.5C647.3 80.4 646.2 83.4 645.6 86.5C645 89.5 643.4 92.7 643.2 95.8C642.9 98.8 643.9 103.4 644.1 104.9M665.8 126.9C667.7 128 673.1 131.2 677 133.2C681 135.1 686.4 137.3 689.5 138.7C692.7 140 694.7 140.7 695.8 141.1M695.8 78C694.5 78.2 690.7 78.9 688.4 79.4C686.1 79.9 682 80.6 682 81.2C682 81.8 686.1 82.5 688.4 83C690.7 83.6 694.5 84.2 695.8 84.5M269.8 219.8C271.1 219.4 275 218.3 277.5 217.3C280 216.3 282.4 215.1 284.7 213.8C287.1 212.5 289.3 211 291.6 209.5C293.8 208 296 206.4 298.1 204.8C300.3 203.2 302.4 201.5 304.5 199.8C306.7 198.1 308.8 196.4 310.9 194.7C313.1 193.1 315.2 191.4 317.4 189.9C319.6 188.4 321.9 186.9 324.2 185.5C326.5 184.2 328.8 182.9 331.2 181.8C333.6 180.6 336 179.6 338.5 178.6C341 177.6 343.5 176.7 346 175.7C348.5 174.8 351.1 174 353.6 173.1C356.2 172.2 358.8 171.4 361.3 170.5C363.8 169.6 366.4 168.7 368.9 167.7C371.4 166.7 373.9 165.6 376.3 164.5C378.8 163.3 381.2 162 383.6 160.8C385.9 159.5 388.3 158.1 390.7 156.9C393.1 155.8 395.5 154.6 398.1 153.8C400.6 153 403.3 152.4 406 152.3C408.7 152.2 411.6 152.5 414.1 153.2C416.6 153.9 419.1 155.1 421.2 156.6C423.3 158.1 424.9 160.1 426.7 162.1C428.5 164.1 429.9 166.4 431.8 168.5C433.6 170.5 435.7 172.7 437.8 174.5C439.9 176.4 442.2 178.1 444.5 179.4C446.9 180.8 449.3 181.8 451.8 182.5C454.2 183.3 456.7 183.7 459.3 183.9C461.8 184.2 464.4 184.1 467 184C469.6 183.8 472.3 183.4 475 183C477.6 182.6 480.3 182 483 181.4C485.7 180.9 488.4 180.2 491.1 179.6C493.9 179 496.6 178.4 499.3 177.9C502 177.4 504.7 176.9 507.4 176.5C510.1 176.1 512.7 175.7 515.4 175.4C518.1 175.1 520.8 174.9 523.4 174.8C526.1 174.6 528.7 174.5 531.4 174.5C534 174.5 536.7 174.6 539.3 174.7C541.9 174.9 544.6 175.1 547.2 175.5C549.8 175.8 552.4 176.3 555 176.8C557.6 177.3 560.2 178 562.7 178.7C565.3 179.4 567.8 180.2 570.4 181.1C572.9 181.9 575.5 182.9 578 183.9C580.5 184.9 583 186 585.5 187.1C588 188.2 590.5 189.3 593 190.5C595.5 191.6 598 192.9 600.4 194.1C602.9 195.3 605.3 196.5 607.7 197.7C610.2 198.9 612.6 200.2 615 201.4C617.4 202.6 619.8 203.8 622.2 205C624.5 206.2 626.9 207.3 629.3 208.5C631.7 209.6 634.1 210.8 636.4 211.9C638.8 213.1 641.2 214.2 643.6 215.3C646 216.4 648.4 217.6 650.9 218.7C653.3 219.8 655.8 220.9 658.3 222C660.8 223.1 664.6 224.7 665.8 225.3M272.8 231C274.2 230.6 278.5 229.4 281.3 228.4C284.1 227.4 286.9 226.3 289.6 225.1C292.4 224 295.1 222.7 297.8 221.5C300.5 220.2 303.2 218.9 305.8 217.6C308.5 216.4 311.2 215.1 313.9 213.8C316.6 212.5 319.3 211.3 322 210.1C324.7 209 327.5 207.8 330.3 206.8C333 205.8 337.3 204.5 338.7 204.1M368.7 201.1C370 200.8 374.1 200.1 376.8 199.6C379.4 199.1 382 198.7 384.6 198.1C387.2 197.5 389.8 196.8 392.4 195.9C395 195 397.6 193.7 400.2 192.7C402.7 191.6 405.4 189.8 407.8 189.6C410.1 189.3 412 190.1 414.1 191.2C416.3 192.3 418.2 194.8 420.6 196.2C423 197.6 425.8 198.6 428.4 199.4C431.1 200.3 433.8 200.9 436.5 201.3C439.2 201.8 441.8 202 444.5 202.2C447.1 202.3 449.8 202.3 452.5 202.1C455.1 202 457.8 201.7 460.4 201.4C463.1 201 465.7 200.6 468.4 200.1C471 199.5 473.7 198.9 476.3 198.3C479 197.7 481.6 197 484.3 196.4C486.9 195.7 489.6 195 492.2 194.3C494.9 193.7 497.6 193 500.2 192.4C502.9 191.8 505.6 191.2 508.2 190.6C510.9 190.1 513.6 189.6 516.3 189.3C518.9 188.9 521.6 188.5 524.3 188.3C527 188.1 529.6 188 532.3 188C535 188 537.7 188.1 540.3 188.3C543 188.6 545.7 189 548.3 189.5C551 190 553.6 190.6 556.2 191.3C558.9 192 561.5 192.9 564.1 193.7C566.7 194.6 569.3 195.5 571.8 196.5C574.4 197.5 576.9 198.5 579.4 199.5C581.9 200.5 584.4 201.6 586.9 202.7C589.4 203.8 591.9 204.9 594.3 206C596.8 207.2 599.2 208.3 601.6 209.5C604.1 210.7 606.5 211.9 608.9 213.1C611.3 214.3 613.7 215.5 616.1 216.7C618.5 218 620.9 219.2 623.3 220.4C625.7 221.7 628.1 222.9 630.5 224.1C633 225.4 635.4 226.6 637.8 227.9C640.2 229.1 643.9 230.9 645.1 231.5M276 240.3C277.4 239.8 281.4 238.5 284.1 237.7C286.8 236.8 289.5 236.1 292.2 235.3C294.9 234.5 297.6 233.8 300.4 233.1C303.1 232.3 305.8 231.6 308.5 230.9C311.3 230.1 314 229.3 316.7 228.6C319.5 227.8 322.2 226.9 324.9 226.2C327.7 225.5 330.4 224.7 333.1 224.2C335.9 223.6 338.7 223.2 341.4 222.9C344.2 222.7 347 222.7 349.8 222.7C352.6 222.8 355.4 223 358.2 223.3C361.1 223.6 363.9 224 366.7 224.5C369.5 224.9 372.3 225.4 375.2 225.9C378 226.3 380.8 226.8 383.6 227.2C386.4 227.6 390.5 228.1 391.9 228.3M428.6 224.8C429.9 224.5 433.8 223.8 436.4 223.2C439 222.6 441.6 221.9 444.2 221.3C446.8 220.6 449.4 219.9 452 219.2C454.7 218.5 457.3 217.7 460 217C462.6 216.3 465.3 215.5 467.9 214.8C470.6 214 473.2 213.3 475.9 212.6C478.6 211.8 481.3 211.1 483.9 210.5C486.6 209.8 489.3 209.1 492 208.5C494.6 207.9 497.3 207.4 500 206.9C502.7 206.4 505.4 205.9 508 205.5C510.7 205.2 513.4 204.8 516.1 204.6C518.7 204.4 521.4 204.2 524.1 204.2C526.7 204.1 529.4 204.1 532.1 204.3C534.7 204.4 537.4 204.7 540 205C542.7 205.3 545.3 205.8 547.9 206.3C550.6 206.8 553.2 207.5 555.8 208.2C558.4 208.8 561 209.6 563.6 210.4C566.2 211.3 568.8 212.2 571.4 213.1C574 214 576.6 215 579.1 216C581.7 217 584.2 218.1 586.8 219.2C589.3 220.2 591.9 221.3 594.4 222.4C596.9 223.5 599.4 224.7 601.9 225.8C604.4 226.9 606.9 228 609.4 229.1C611.9 230.1 614.3 231.2 616.8 232.3C619.2 233.3 622.9 234.8 624.1 235.3M280.3 253.5C281.6 253 285.7 251.5 288.5 250.7C291.3 250 294.1 249.5 296.9 249C299.7 248.6 302.6 248.2 305.4 247.9C308.3 247.5 311.1 247.2 314 246.8C316.8 246.4 319.7 245.9 322.5 245.5C325.4 245.1 328.2 244.6 331.1 244.3C333.9 243.9 336.8 243.5 339.7 243.4C342.5 243.2 345.4 243.1 348.3 243.2C351.1 243.2 354 243.4 356.8 243.7C359.7 244.1 362.5 244.5 365.4 245.1C368.2 245.7 371 246.4 373.7 247.3C376.5 248.1 380.6 249.8 381.9 250.3M434.9 243.5C436.2 243.2 440 242.1 442.7 241.6C445.3 241 447.9 240.6 450.5 240.2C453.1 239.8 455.8 239.5 458.4 239.2C461 238.9 463.7 238.7 466.3 238.4C469 238.2 471.6 237.9 474.3 237.6C476.9 237.2 479.6 236.9 482.2 236.4C484.9 236 487.5 235.4 490.2 234.9C492.8 234.4 495.5 233.9 498.1 233.4C500.8 232.9 503.4 232.4 506 232C508.7 231.6 511.3 231.3 514 231.1C516.6 230.9 519.2 230.9 521.8 231C524.5 231.1 527.1 231.3 529.7 231.7C532.3 232.1 534.9 232.7 537.4 233.3C540 233.9 542.6 234.7 545.1 235.5C547.7 236.4 550.2 237.3 552.7 238.3C555.2 239.3 557.7 240.4 560.2 241.5C562.6 242.6 565.1 243.8 567.5 245C569.9 246.1 572.3 247.4 574.7 248.6C577 249.8 580.5 251.6 581.7 252.3" fill="none" stroke="#160c04" stroke-opacity="0.78" stroke-width="0.85" stroke-linejoin="round"/><g font-weight="700" font-size="14.7" text-anchor="middle" fill="#0c0c0c"><text transform="translate(90.8,100.8) scale(0.925,1) rotate(0)" y="5.2">0.2</text><text transform="translate(213.6,81.7) scale(0.925,1) rotate(78)" y="5.2">0.4</text><text transform="translate(372.9,119.4) scale(0.925,1) rotate(12)" y="5.2">0.6</text><text transform="translate(470.3,124.6) scale(0.925,1) rotate(2)" y="5.2">0.7</text><text transform="translate(549.2,158.6) scale(0.925,1) rotate(5)" y="5.2">0.5</text><text transform="translate(353,201.6) scale(0.925,1) rotate(-5)" y="5.2">0.3</text><text transform="translate(652.6,117.9) scale(0.925,1) rotate(38)" y="5.2">0.8</text></g></g>
<polygon fill="#383838" points="89,304.4 99.1,304.4 175.5,267.6 259.9,188.3 293.3,300.5 353.9,307.2 412.2,188.3 453.2,289.8 516.4,277.9 682.9,212.1 695.4,212.1 695.4,307.7 89,307.7"/>
<path d="M89 69.4H695.4V307.2H89Z" fill="none" stroke="#000" stroke-opacity="0.74" stroke-width="1.35"/>
<path d="M83.4 69.4H89M83.4 148.67H89M83.4 227.93H89M83.4 307.2H89M129.09 307.2V313.1M242.36 307.2V313.1M355.62 307.2V313.1M468.88 307.2V313.1M582.14 307.2V313.1M695.4 307.2V313.1" fill="none" stroke="#000" stroke-opacity="0.72" stroke-width="1.25"/>
<path d="M85.7 109.03H89M85.7 188.3H89M85.7 267.57H89M185.72 307.2V310.6M298.99 307.2V310.6M412.25 307.2V310.6M525.51 307.2V310.6M638.77 307.2V310.6" fill="none" stroke="#000" stroke-opacity="0.5" stroke-width="1.15"/>
<g font-weight="700" font-size="21"><text transform="translate(77.4,75.7) scale(0.925,1)" text-anchor="end">0</text><text transform="translate(77.4,155) scale(0.925,1)" text-anchor="end">20</text><text transform="translate(77.4,234.2) scale(0.925,1)" text-anchor="end">40</text><text transform="translate(77.4,313.5) scale(0.925,1)" text-anchor="end">60</text><text transform="translate(129.4,335.8) scale(0.925,1)" text-anchor="middle">27°N</text><text transform="translate(242.7,335.8) scale(0.925,1)" text-anchor="middle">28°N</text><text transform="translate(355.9,335.8) scale(0.925,1)" text-anchor="middle">29°N</text><text transform="translate(469.2,335.8) scale(0.925,1)" text-anchor="middle">30°N</text><text transform="translate(582.4,335.8) scale(0.925,1)" text-anchor="middle">31°N</text><text transform="translate(695.7,335.8) scale(0.925,1)" text-anchor="middle">32°N</text></g>
<text transform="translate(37.4,187.8) rotate(-90)" text-anchor="middle" font-size="26">Depth (m)</text>
<text x="698.9" y="55.9" text-anchor="end" font-size="25.9">CDW (%)</text>
<text x="0.2" y="73.4" font-weight="700" font-size="29">A</text>
<rect x="711" y="69.4" width="21.4" height="237.8" fill="url(#cb)"/>
<path d="M711 70V69.3L714.6 68.5L721.7 65.5L728.8 68.5L732.4 69.3V70Z" fill="#b80000"/>
<path d="M711 306.9V307.8L714.6 308.5L721.7 312L728.8 308.5L732.4 307.8V306.9Z" fill="#fffffc"/>
<path d="M711 307.8V69.3M732.4 69.3V307.8" stroke="#222" stroke-opacity="0.5" stroke-width="1.2" fill="none"/>
<path d="M714.6 68.5L721.7 65.5L728.8 68.5M714.6 308.5L721.7 312L728.8 308.5" stroke="#222" stroke-opacity="0.5" stroke-width="1.1" fill="none" stroke-linejoin="round"/>
<path d="M710.6 69.3L714.6 68.5M732.8 69.3L728.8 68.5M710.6 307.8L714.6 308.5M732.8 307.8L728.8 308.5" stroke="#111" stroke-opacity="0.85" stroke-width="1.4" fill="none"/>
<path d="M711 259.64h4.8M732.4 259.64h-4.8M711 212.08h4.8M732.4 212.08h-4.8M711 164.52h4.8M732.4 164.52h-4.8M711 116.96h4.8M732.4 116.96h-4.8" stroke="#000" stroke-opacity="0.8" stroke-width="1.3" fill="none"/>
<g font-weight="700" font-size="20.2"><text transform="translate(737.8,313.2) scale(0.935,1)">0</text><text transform="translate(737.8,265.6) scale(0.935,1)">0.2</text><text transform="translate(737.8,218.1) scale(0.935,1)">0.4</text><text transform="translate(737.8,170.5) scale(0.935,1)">0.6</text><text transform="translate(737.8,123) scale(0.935,1)">0.8</text><text transform="translate(737.8,75.4) scale(0.935,1)">1</text></g>
<text transform="translate(712.4,304.9) rotate(-90)" font-weight="700" font-size="12.6" fill="#111" textLength="95.5" lengthAdjust="spacingAndGlyphs">Ocean Data View</text>
</g>
<g id="panelB">
<clipPath id="clipB"><rect x="89.2" y="406.7" width="608" height="238.4"/></clipPath>
<g clip-path="url(#clipB)"><g filter="url(#bl)"><rect x="60.2" y="377.7" width="666" height="296.4" fill="#fffff6"/><path fill="#ffffec" fill-rule="evenodd" d="M80.2 397.7L517.2 397.7L524.1 401.3L530.1 402.7L536.1 403.1L542.1 402.7L548.1 401.5L558.6 397.7L707.1 397.7L707.1 655.7L80.2 655.7Z"/><path fill="#fffedd" fill-rule="evenodd" d="M80.2 397.7L471.5 397.7L485.1 403.8L500.1 414L508.2 418.7L518.2 422.7L527.1 424.7L536.1 425.3L548.1 424.1L590.1 413.7L596.1 412.5L602.1 412.4L608.1 413.5L614.1 415.4L641.1 426.8L650.1 429.8L659.1 431L677.1 431.6L683.1 433.3L698.2 442.7L707.1 445.9L707.1 655.7L80.2 655.7Z"/><path fill="#fffdcf" fill-rule="evenodd" d="M80.2 397.7L426.5 397.7L428.4 403.7L431.8 409.7L437.1 414L443.1 416.5L476.1 422.2L506.1 433.1L524.1 437.3L533.1 438.2L542.1 438.3L578.1 436.8L590.1 437.5L599.1 439L614.1 443.2L646 454.7L681.9 466.7L695.1 470.7L707.1 473L707.1 655.7L80.2 655.7Z"/><path fill="#fffac1" fill-rule="evenodd" d="M80.2 397.7L407.4 397.7L409 406.7L409.1 412.7L410.1 416.1L412.1 418.7L416.1 421.7L422.1 424.7L428.1 426.7L437.1 428.7L464.1 433L505.4 442.7L521.1 445.6L536.1 447.1L569.1 448.4L587.1 451.1L608.1 456.9L659.1 475.7L689.1 485.3L698.1 487.8L707.1 489.1L707.1 655.7L80.2 655.7Z"/><path fill="#fff7b3" fill-rule="evenodd" d="M80.2 397.7L389.4 397.7L391.7 415.7L393.7 421.7L395.7 424.7L399.3 427.7L406.5 430.7L503.1 449.6L527.1 452.9L566.1 456.4L581.1 459.2L593.1 462.5L608.1 467.7L650.2 484.7L675.1 493.7L692.1 498.8L707.1 501.1L707.1 655.7L80.2 655.7Z"/><path fill="#fff2a5" fill-rule="evenodd" d="M80.2 397.7L92.9 397.7L104.2 401.8L110.2 402.8L113.2 402.6L119.2 400.8L123.8 397.7L376 397.7L380.8 421.7L383.1 427.7L385.4 430.7L389 433.7L395.1 436.4L404.1 438.3L431.1 442L488.1 453.8L557.1 462L575.1 465.1L587.1 468.4L602.1 473.6L649.5 493.7L673.1 502.7L692.1 508.3L707.1 510.5L707.1 655.7L80.2 655.7ZM194.2 456.6L188.2 460.7L185.2 464.2L182 469.7L180 475.7L179 481.7L179.7 487.7L181 490.7L185.2 494.9L188.5 496.7L194.2 498.1L206.2 498.4L212.2 497.8L215.9 496.7L220.7 493.7L223.8 490.7L226 487.7L227.3 484.7L227.9 478.7L227.2 475.2L224.7 469.7L221.1 464.7L218.2 461.6L215.2 459.2L209.2 456.1L206.2 455.3L200.2 455.1Z"/><path fill="#ffeb98" fill-rule="evenodd" d="M235.2 397.7L363.5 397.7L368.4 409.7L371.6 424.7L373.9 430.7L375.9 433.7L379.1 436.7L386.1 440.3L395.1 442.8L428.1 447.2L467.1 456.4L482.1 459.3L533.1 464.5L560.1 468.1L572.1 470.5L587.1 474.8L602.1 480.3L653.7 502.7L671.1 509.5L692.1 515.9L701.1 517.7L707.1 518.2L707.1 655.7L80.2 655.7L80.2 411.5L96.7 418.7L107.2 420.4L116.2 419L126.8 415.7L134.4 412.7L146.2 406.7L152.2 405.2L155.2 405.1L161.2 406.3L166.8 409.7L169.6 412.7L171.2 415.7L172.7 421.7L172.8 427.7L171 442.7L164.6 475.7L164.1 484.7L164.8 490.7L167.2 497.6L170.2 501.9L173.2 504.8L176.2 506.9L182.2 509.6L185.2 510.4L191.2 510.8L200.2 509.3L239.2 499.7L246.7 496.7L249.4 493.7L250.5 490.7L250.9 487.7L249.5 478.7L246.1 469.7L235.1 445.7L232 436.7L230 427.7L229.4 418.7L230 412.7L231.6 406.7Z"/><path fill="#ffe38b" fill-rule="evenodd" d="M271.7 400.7L272.3 397.7L350.4 397.7L353.3 403.7L359.1 412.8L362.9 427.7L365.5 433.7L367.8 436.7L371.1 439.5L377.1 442.7L389.1 446.2L425.1 452.1L461.1 461.5L476.1 464.7L491.1 466.5L530.1 469.1L557.1 472.8L572.2 475.9L587.1 480.3L602.2 485.9L653.8 508.7L671.1 515.7L692.1 522.3L698.5 523.7L707.1 524.7L707.1 655.7L80.2 655.7L80.2 422.6L89.2 425.9L104.2 427.4L110.2 427.4L125.2 425.8L134.2 426.1L143.2 428.8L149.2 432.8L152.2 436.2L154.4 439.7L155.7 442.7L157.2 448.7L157.7 457.7L156.7 484.7L158.2 496.7L160.4 502.7L164.2 508.7L167.2 511.8L173.2 516.1L182.2 519.6L191.2 520.4L200.2 518.5L215.1 513L224.2 511.7L233.2 513L251.2 518.8L257.1 519.1L263.1 517.4L266.8 514.7L269.2 511.7L270.7 508.7L272.3 502.7L272.5 490.7L270.5 478.7L267.1 469.7L259.3 454.7L257.5 448.7L257.1 445.7L257.8 439.7L258.9 436.7L260.7 433.7L267.7 424.7L270.7 418.7L271.3 415.7L271.1 406.7Z"/><path fill="#ffda7c" fill-rule="evenodd" d="M295.7 400.7L297.3 397.7L336.2 397.7L341.1 404.5L346 412.7L348.7 418.7L352.7 430.7L356.2 436.7L359.1 439.7L363.5 442.7L370.4 445.7L382.5 448.7L416.1 455L458.1 467.1L473.1 470.4L488.1 472.1L530.2 473.8L554.1 477.1L572.1 480.7L587.1 485.2L605.1 492L655.6 514.7L671.1 521L692.1 527.8L707.1 530.5L707.1 655.7L80.2 655.7L80.2 428.5L92.2 431L119.2 431.8L128.2 432.8L134.2 434.8L137.2 436.4L143.2 441.2L146.2 445.1L148.1 448.7L150.5 457.7L151.2 466.7L151.7 490.7L154 502.7L156.3 508.7L161.2 516.2L166 520.7L170.2 523.4L179.2 526.9L185.2 528L191.2 528.3L200.2 527.4L215.2 523.8L221.2 523.6L227.1 525L242 529.7L248.2 530.3L254.2 530.1L263.1 528.1L266.4 526.7L272.1 522.8L275.1 519.9L278.9 514.7L281.9 508.7L284 502.7L287.3 487.7L288.4 475.7L288.2 466.7L286.6 448.7L286.9 439.7L291.2 412.7L292.9 406.7Z"/><path fill="#ffd06f" fill-rule="evenodd" d="M320.7 409.7L323.1 409.6L326.1 410.4L329.5 412.7L332.5 418.7L334.6 430.7L336.8 436.7L339.1 439.7L342.8 442.7L350.1 446.2L362.2 449.3L392.1 453.5L407.1 456.5L425.1 461.9L455.1 472L470.1 475.8L485.1 477.5L515.1 477.7L530.1 478.4L554.1 481.5L572.1 485.3L587.1 489.8L605.1 496.5L656.1 519.8L674.1 527.1L692.1 532.9L707.1 535.8L707.1 655.7L80.2 655.7L80.2 432.8L89.2 434.2L113.2 435.7L122.2 436.9L131.2 440.3L137.9 445.7L142.1 451.7L145.1 460.7L146.2 469.7L147.4 493.7L148.9 502.7L150.6 508.7L153 514.7L156.5 520.7L161.2 525.9L164.2 528.3L173.2 532.6L185.2 535.1L194.1 535.7L212.2 535.6L218.2 536.2L233.2 539L245.2 538.8L260.1 536.1L269.2 532.7L274.1 529.7L278.1 526.3L283.2 520.7L287.2 514.7L290.3 508.7L295.4 496.7L307.2 466.7L311.1 454.7L312.6 445.7L312.3 439.7L310.2 427.7L310.2 421.7L310.8 418.7L312.2 415.7L314.5 412.7L317.1 410.9Z"/><path fill="#fec763" fill-rule="evenodd" d="M80.2 436.7L104.2 438.3L116.1 439.9L125.2 442.9L129.7 445.7L133 448.7L137.4 454.7L140.7 463.7L142 472.7L143.2 492.4L144.4 502.7L147.5 514.7L152.2 524.9L158.2 532.3L161.2 534.6L167.2 537.8L176.2 540.5L191.2 542.9L227.2 547L233.2 547.2L242.2 545.8L259.9 541.7L272.1 537.1L281.1 530.9L285.3 526.7L290.1 520.7L295.8 511.7L309 487.7L317.1 475.9L323.1 468.7L329.1 463.6L335.1 460.2L341.1 458.2L353.1 455.9L362.1 455.2L374.1 455.1L386.1 455.8L395.1 457L404.1 458.8L416.1 462.3L452.1 476L461.1 479L470.1 481.1L485.1 482.6L518.1 482.1L539.1 483.5L554.1 485.7L566.1 488.1L590.1 495.1L611.1 503.4L653.1 523.1L671.1 530.8L689.1 536.9L707.1 540.8L707.1 655.7L80.2 655.7Z"/><path fill="#febf57" fill-rule="evenodd" d="M80.2 442.7L80.2 440.1L98.2 440.9L110.2 442.3L116.1 443.9L120.8 445.7L125.2 448.3L128.2 450.8L133.4 457.7L135.9 463.7L137.8 472.7L139.6 496.7L142 511.7L146.2 525L149.1 530.9L152.2 535.1L158.2 540.7L167.2 545.2L182.2 549L203.1 552.2L221.2 553.5L233.1 553.2L265 544.7L275.1 540.6L284.1 534.4L291.6 526.7L298.2 517.7L314.1 493.1L323.1 482.2L329.1 476.2L338.1 469.7L347.1 465.4L356.1 462.1L368.1 459.5L377.1 458.8L386.1 458.9L395.1 459.8L407.1 462.3L425.1 468.5L455.1 481.6L464.1 484.6L470.1 485.9L485.1 487.2L518.2 486.2L539.1 487.4L551.1 489.1L563.1 491.5L587.1 498.4L611.1 507.9L653.1 527.8L668.1 534.3L686.1 540.7L707.1 545.8L707.1 655.7L80.2 655.7Z"/><path fill="#feb64c" fill-rule="evenodd" d="M80.2 445.7L80.2 443.5L95.2 443.7L107.2 445.2L117.4 448.7L122.2 451.7L125.2 454.4L129.8 460.7L133.2 469.7L134.6 478.7L136.5 502.7L139 517.7L142.7 529.7L147.5 538.7L152.2 544.1L155.2 546.7L164.2 551.8L179.2 556.4L197.2 560L212.2 560.3L233.1 558L267.7 547.7L278.1 543.4L285.2 538.7L293.1 531.2L299.3 523.7L320.1 495.3L329.1 485.6L335.1 480.2L344.1 474L356.1 468L365.1 464.8L374.1 462.9L383.1 462L392.1 462.2L401.1 463.4L410.1 465.5L425.1 471.2L455.2 485.9L464.1 489L470.1 490.3L485.1 491.5L518.1 490L536.1 490.8L557.1 494.1L581.1 500.6L595.2 505.7L608.1 511.1L653.1 532.5L668.1 539L686.2 545.3L707.1 550.8L707.1 655.7L80.2 655.7Z"/><path fill="#fead42" fill-rule="evenodd" d="M80.2 448.7L80.2 447L86.2 446.7L95.2 446.8L104.2 448L110.2 449.8L114.3 451.7L118.8 454.7L122 457.7L126.3 463.7L129.8 472.7L131.1 481.7L132.6 502.7L135.2 520.7L138.4 532.7L143.2 542.6L146.9 547.7L152.2 553L161.2 558.7L176.2 564.3L185.2 566.8L194.2 568.5L200.2 568.8L206.2 568.2L230.2 562.9L269.1 550.6L276.9 547.7L281.1 545.5L290.1 539L296.7 532.7L323.1 500L332 490.7L338.1 485.2L347.1 478.7L358 472.7L368.1 468.6L377.1 466.3L386.1 465.2L395.1 465.2L404.1 466.4L413.1 468.6L423 472.7L452.1 488.7L461.1 492.4L470.1 494.6L485.1 495.5L515.1 493.7L533.1 494.1L554.1 497.2L566.1 500.2L578.1 503.9L605.1 514.5L649.7 535.7L665.1 542.5L683.1 548.9L707.1 555.8L707.1 655.7L80.2 655.7Z"/><path fill="#fda438" fill-rule="evenodd" d="M80.2 451.7L80.2 450.8L89.2 450L101.2 450.9L107.2 452.8L111.1 454.7L115.5 457.7L119.1 461.3L123 466.7L126.4 475.7L127.5 484.7L128.6 502.7L131.5 526.7L134.9 538.7L140.2 549.2L143.4 553.7L149.1 559.7L158.2 566.1L164.2 569L173.1 572.4L182.2 575.1L191.2 576.9L197.2 577.3L206.2 575.4L254.1 558.2L272.1 552.4L282.8 547.7L291.5 541.7L298.2 535.7L329.1 500.7L336.3 493.7L344.1 487L353.1 480.8L362.4 475.7L374.1 471.1L383.1 468.9L392.1 468L398.1 468.1L407.1 469.2L413.1 470.9L423.8 475.7L449.1 491.7L458.1 495.8L467.1 498.4L473.1 499.2L482.1 499.6L515.1 497.3L530.1 497.4L548.1 499.7L560.1 502.5L571 505.7L584.1 510.4L599.1 516.5L662.1 545.8L680.1 552.3L707.1 560.7L707.1 655.7L80.2 655.7Z"/><path fill="#fd9c30" fill-rule="evenodd" d="M82 454.7L92.2 453.7L101.2 454.9L107.2 457.5L110.2 459.4L116.2 464.9L120.9 472.7L122.8 478.7L123.5 484.7L124.1 502.7L126.4 529.7L129.6 541.7L134.2 551.7L137.2 556.7L143.2 564.1L149.1 569.7L155.2 574L161.2 577.4L170.1 581.2L176.2 583L185.2 584.6L197.1 585L203.2 583.3L224.2 573.5L245.2 564.7L275.1 553.9L282.1 550.7L291.6 544.7L302.4 535.7L332.1 504.3L341.1 495.8L350.1 488.5L359.1 482.5L368.1 477.7L377.1 474.2L386.1 471.8L395.1 470.8L401.1 470.8L407.1 471.6L413.1 473.2L418.9 475.7L423.8 478.7L437.1 489.3L446.1 495.4L455.1 499.7L464.1 502.4L473.1 503.6L482.1 503.7L515.1 501L530.1 501.2L548.1 503.6L567.3 508.7L581.1 513.6L596.1 519.8L656.4 547.7L674.1 554.5L707.1 565.8L707.1 655.7L80.2 655.7L80.2 455Z"/><path fill="#fd942a" fill-rule="evenodd" d="M80.2 460.7L80.2 460.2L89.2 458.5L98.2 459L102.8 460.7L107.2 463.2L113.7 469.7L117.1 475.7L118.7 481.7L119.2 487.7L119 502.7L119.8 529.7L121.5 538.7L125.9 550.7L129.2 556.7L134.2 564L140.2 571.2L146.2 577.2L158.2 586.7L164.1 590.1L170.1 592.3L176.2 593.3L185.2 593.3L194.2 592.2L200.2 590.6L206.2 587.9L227.2 576.2L239.2 570.4L254.2 563.9L272.1 557.4L281.1 553.5L291.2 547.7L303.1 538.7L313.1 529.7L341.1 502.1L350.1 494.3L359.2 487.7L371.1 480.9L383.1 476.2L395.1 473.7L404.1 473.8L412.7 475.7L418.7 478.7L426.1 484.7L437.3 496.7L443.1 500.8L452.1 504.8L464.1 507.5L476.1 508.2L488.1 507.6L512.1 505.2L527.1 505L539.1 506.1L554.1 509.1L569.1 513.6L584.1 519.2L646.6 547.7L689.1 564.4L707.1 570.8L707.1 655.7L80.2 655.7Z"/><path fill="#fc8c24" fill-rule="evenodd" d="M82 466.7L92.2 464.5L98.2 465.3L104.2 468.2L107.2 470.6L110.2 474.2L113.2 480.6L114.2 487.7L111.3 514.7L111.2 529.7L113 538.7L116.2 547.7L119.3 553.7L125.1 562.7L132.1 571.7L140.2 580.7L155.2 595.2L161.2 599.6L167.2 602.2L173.2 603L182.2 601.9L191.2 599.6L200.2 596.3L209.2 591.5L230.2 578.5L243 571.7L254.2 566.6L275.1 558.4L284.1 554.1L295 547.7L307.3 538.7L321.4 526.7L347.3 502.7L356.1 495.5L365.1 489.2L377.1 482.5L386.1 478.9L395.1 476.9L404.1 476.7L412 478.7L417.4 481.7L422.1 485.8L431.1 497.1L437.1 503.2L443.1 507.3L449.1 509.8L461.1 512.4L473.1 512.9L485.1 512.2L509.1 509.6L524.1 509.1L539.1 510.4L554.1 513.4L569.1 517.9L584.1 523.6L641.1 549.5L707.1 576L707.1 655.7L80.2 655.7L80.2 467.2Z"/><path fill="#fc841e" fill-rule="evenodd" d="M85.8 475.7L92.2 473.4L95.2 473.1L98.2 473.6L101.2 474.9L104.2 477.4L107.2 482L108.3 487.7L108.2 490.7L106.7 496.7L101.4 511.7L100.1 517.7L99.7 523.7L100.2 529.7L101.6 535.7L105.2 544.7L108.5 550.7L119.5 565.7L146.2 595.6L158.2 607.3L164.2 610.6L170.2 611.5L176.2 610.9L185.2 608.4L194.2 604.8L206.1 598.5L227.8 583.7L243 574.7L254.2 569.2L275.1 560.5L287.1 554.6L303.5 544.7L316 535.7L327.1 526.7L354.6 502.7L371.1 490.7L381.9 484.7L389.1 481.8L398.1 479.9L404.1 480.1L410.1 481.6L416.1 485L422.1 490.5L431.1 501.6L437.1 508L443.1 512.2L449.1 514.8L458.1 517L470.1 517.7L482.1 516.9L509.1 513.9L524.1 513.5L542.1 515.3L557.1 518.5L569.1 522.2L584.1 527.9L634.4 550.7L659.1 560.2L695.1 576.5L707.1 581.3L707.1 655.7L80.2 655.7L80.2 477.9Z"/><path fill="#fc7d19" fill-rule="evenodd" d="M94.8 484.7L98.1 484.9L100.5 487.7L101 490.7L100.6 493.7L98.1 499.7L95.2 504.2L88.9 511.7L86.3 517.7L85.9 520.7L86.3 526.7L87.8 532.7L90.3 538.7L95.8 547.7L103.1 556.7L128.2 582.8L152.2 610L158.2 615.6L164.2 618L170.2 618.5L179.2 617.1L188.2 613.7L197.2 609.1L209.2 601.6L229.1 586.7L243 577.7L257.1 570.3L284.1 558.4L298.3 550.7L312.9 541.7L329.7 529.7L362.5 502.7L379.9 490.7L386.1 487.3L392.1 484.9L401.1 483.6L404.1 483.8L410.1 485.5L416.1 488.9L422.1 494L431.1 505.3L437.1 511.9L443.1 516.3L452.1 520.2L461.1 521.9L470.1 522.3L482.1 521.4L509.1 518.2L524.1 517.8L539.1 519L557.1 522.7L569.1 526.4L581.1 531L631.9 553.7L659.1 564L695.1 581.6L707.1 586.8L707.1 655.7L80.2 655.7L80.2 490.1L88.6 487.7Z"/><path fill="#fb7716" fill-rule="evenodd" d="M398.8 487.7L404.1 487.7L407.1 488.2L416.1 492L422.1 496.7L431.1 508.7L437.2 515.5L443.1 520L452.1 524.3L461.1 526.3L473.2 526.7L509.1 522.4L524.1 521.9L539.1 523.1L557.1 526.8L578.1 534L626.1 555.4L656.1 566.9L695.2 587L707.1 592.5L707.1 655.7L80.2 655.7L80.2 544.8L92.1 556.7L113.2 574.1L122.2 582.6L134.1 595.7L151.5 616.7L155.2 620.2L158.2 622.1L164.2 624.2L170.2 624.8L176.2 624.1L182.2 622.3L188.2 619.8L200.1 612.9L212.2 604.3L234.3 586.7L247.9 577.7L259.3 571.7L275.1 564.9L291.9 556.7L318.9 541.7L336.9 529.7L379.8 496.7L389.5 490.7L395.1 488.4Z"/><path fill="#fb7113" fill-rule="evenodd" d="M394.4 493.7L398.1 492.3L404.1 491.5L410.1 492.3L416.1 494.7L419.1 496.5L422.7 499.7L431.1 512.2L437.1 519.1L446.1 525.6L455.1 529.3L464.1 531L473.1 531.2L482.1 530.5L509.1 526.6L521.1 525.8L533.1 526.3L548.1 528.6L560.1 531.7L575.1 537L623.1 558.3L650.2 568.7L659.1 572.8L692.2 591.1L707.1 598.5L707.1 655.7L80.2 655.7L80.2 558.4L104.2 573.5L116.2 582.5L128.2 594.6L149.2 621.1L155.2 626.5L158.2 628.2L164.1 630.1L170.2 630.6L176.2 630L182.2 628.3L188.2 625.7L200.2 618.5L212.2 609.3L235.1 589.7L243.2 583.7L252.5 577.7L263.1 572.2L284.5 562.7L309.1 550.7L335.9 535.7L353.4 523.7L389.1 496.8Z"/><path fill="#fa6b10" fill-rule="evenodd" d="M399.5 496.7L404.1 495.3L410.1 495.4L416.1 497.1L419.1 498.8L423 502.7L431.1 515.9L437.1 523L440.1 525.7L446.1 529.7L455.1 533.6L464.1 535.4L476.1 535.6L509.1 530.9L524.1 529.8L536.1 530.5L548.1 532.6L560.1 535.9L575.1 541.4L617.1 560.2L641.1 569.3L656.2 576.1L692.2 597L707.1 604.7L707.1 655.7L80.2 655.7L80.2 568.6L104.2 579.4L110.2 583.3L116.2 588L128.2 600.5L146.2 624.9L152.2 630.9L158.2 634.4L164.2 636.1L170.2 636.5L176.2 635.8L182.2 634.1L188.2 631.5L200.2 624.1L212.2 614.4L235.9 592.7L252 580.7L266.1 573L321.8 547.7L344.3 535.7L359 526.7L371.1 518.4L380.1 511.7L394.5 499.7Z"/><path fill="#f9650d" fill-rule="evenodd" d="M403.5 499.7L407.1 498.7L413.1 498.7L416.1 499.5L419.1 501.3L422.1 504.8L431.1 520.4L437.2 527.7L446.1 534.4L455.1 538.2L464.1 540L473.1 540.3L485.1 539.3L518.1 534.3L530.1 534.2L542.5 535.7L554.8 538.7L571.8 544.7L614.1 563.6L638.1 572.6L649.3 577.7L660.2 583.7L695.1 604.9L707.1 611.3L707.1 655.7L80.2 655.7L80.2 577.4L101.1 583.8L107.2 587L114.9 592.7L122.2 599.8L128.2 607.1L144.8 631.7L151.5 637.7L158.2 640.9L164.2 642.2L170.2 642.4L176.2 641.6L182.2 639.9L188.2 637.3L200.2 629.8L212.2 619.7L240.2 592.7L247.5 586.7L256.1 580.7L269.1 573.7L322.5 550.7L359.9 532.7L370.4 526.7L380.1 520L386.1 515.1L398.8 502.7Z"/><path fill="#f6600c" fill-rule="evenodd" d="M407.1 502.7L413.1 501.8L416.1 502.4L419.1 504.6L428.1 521.6L434.1 530.4L437.1 533.6L443.1 538.3L452.1 542.5L461.1 544.6L473.1 545.1L485.1 544L509.1 540.1L521.1 538.8L530.1 538.8L542.1 540.4L554.1 543.4L566.4 547.7L611.1 567.6L635.1 576.4L644.6 580.7L656.1 587.1L695.2 611.6L707.1 618.2L707.1 655.7L80.2 655.7L80.2 585.4L95.2 588.5L101.2 590.4L107.2 593.4L113.2 597.8L119.2 603.6L124.8 610.7L140.2 636.4L144.2 640.7L148.3 643.7L155.2 646.9L161.2 648.3L167.2 648.7L176.1 647.6L182.1 645.8L188.2 643.2L194.2 639.8L203.2 633.3L215.2 622.3L240.9 595.7L251.5 586.7L260.2 580.7L272.1 574.4L359.4 538.7L374.1 532.1L380.1 528.5L386.1 523.8L401.1 507L404.1 504.4Z"/><path fill="#f45a0a" fill-rule="evenodd" d="M406.7 508.7L410.1 506.6L413.1 506L416.1 507L419.1 510.8L426.1 526.7L431.5 535.7L434.1 538.8L440.1 543.7L449.1 547.7L458.1 549.7L470.1 550.3L482.1 549.4L518.1 544.2L530.1 544.2L539.1 545.3L549.5 547.7L563.1 552.3L605.1 571.1L638.5 583.7L653.1 591.7L689.1 615L704.1 624.2L707.1 625.5L707.1 655.7L170.4 655.7L176.2 654.3L188.2 649.3L194.2 645.9L203.2 639.3L215.2 628L236.1 604.7L244.8 595.7L255.3 586.7L264.1 580.7L275.1 575.1L320.1 557.4L344.1 548.7L375.9 538.7L382.7 535.7L387.4 532.7L392.1 528.2L403.8 511.7ZM80.2 595.7L80.2 593.5L95.1 596.1L104.2 599.4L110.2 603.3L114.8 607.7L119.5 613.7L124.4 622.7L129.5 634.7L133 640.7L135.5 643.7L140.2 647.8L146.2 651.4L152.2 654.1L158 655.7L80.2 655.7Z"/><path fill="#f15509" fill-rule="evenodd" d="M409.8 517.7L413.1 516.4L416.1 520.1L421.3 535.7L424.5 541.7L426.9 544.7L430.3 547.7L434.1 550.1L440.1 552.6L452.1 555.3L464.1 556.1L479.1 555.2L515.1 550.4L527.1 550.3L539.1 551.8L551.1 554.9L563.1 559.1L602.1 576.7L635.1 588.8L653.1 598.7L692.1 624.4L707.1 633.2L707.1 655.7L189.4 655.7L200.2 648L209.2 640.2L218.2 630.8L245.6 598.7L255.2 589.7L266.1 581.9L278.1 575.8L314.1 562.1L332.1 555.9L353.1 550L383.1 544.4L392.3 541.7L397.1 538.7L399.8 535.7L407.1 521.4ZM80.2 604.7L80.2 602.6L95.2 605.1L101.2 607.1L107.2 611L112.1 616.7L115.2 622.7L116.8 628.7L118.3 637.7L121 643.7L126.5 649.7L133.6 655.7L80.2 655.7Z"/><path fill="#ee4f07" fill-rule="evenodd" d="M354.7 553.7L371.1 552L386.1 552.4L410.1 555.1L431.1 560.4L452.1 562.5L473.1 562.1L503.1 558.3L518.1 557.4L533.1 558.7L548.1 562.1L566.8 568.7L600.4 583.7L629.1 593.5L645.4 601.7L692.1 632.5L707.1 641.4L707.1 655.7L199.6 655.7L212.2 643.7L218.2 637.1L241.4 607.7L249.3 598.7L258.9 589.7L267.1 583.7L278.1 577.9L317.1 563.5L338.1 557.2ZM80.2 613.7L80.2 613.1L95.2 616.3L98.2 617.7L101.2 620.1L104.2 624.8L105 628.7L103.3 637.7L103.3 640.7L104.1 643.7L107.2 648.5L113.7 655.7L80.2 655.7Z"/><path fill="#eb4906" fill-rule="evenodd" d="M341 559.7L359.1 557.3L374.1 557.5L383.1 558.8L422.1 567.9L437.1 569.5L467.1 569.9L500.1 567.1L512.1 566.7L530.1 568.2L546.7 571.7L566.1 578L599.1 591.6L623.2 599.4L638.1 606.1L653.1 615L695.1 643L707.1 650L707.1 655.7L207.8 655.7L221.1 640.3L242.9 610.7L250.2 601.7L259 592.7L266.5 586.7L276.8 580.7L300.6 571.7L323.1 564.2ZM80.2 625.7L80.2 624.2L85.3 625.7L89.2 627.6L92.2 630.4L94 634.7L95.6 646.7L99.5 655.7L80.2 655.7Z"/><path fill="#e84304" fill-rule="evenodd" d="M343 562.7L359.1 561.5L374.1 562.8L383.1 564.8L413.1 573.8L428.1 576.7L473.1 579.2L503.1 579.7L542.1 583.7L557.1 586.7L617.1 606.2L632.1 612.4L641.1 617.1L653.1 624.4L696 652.7L699.6 655.7L215 655.7L227.1 639.6L249 607.7L256.5 598.7L266.2 589.7L272.1 585.6L278.1 582.5L305.1 572.5L326.1 566ZM80.2 640.7L80.2 640L83.2 643.3L88.1 655.7L80.2 655.7Z"/><path fill="#e53d03" fill-rule="evenodd" d="M349.7 565.7L359.1 565.8L371.1 567.3L380.1 569.5L404.1 578.3L419.1 582.8L428.1 584.5L449.1 586.5L458.1 588.2L462.9 589.7L469.2 592.7L473.6 595.7L482.1 603.8L485.1 604.8L515.1 603.2L536.1 600.7L548.1 600.2L563.1 601.8L587.1 607.5L614.1 615.3L632.1 622.6L653.1 634.5L680.9 652.7L684.4 655.7L221.7 655.7L252.7 607.7L260.1 598.6L270.1 589.7L275.1 586.6L281.1 583.8L314.1 572.1L332.1 567.7Z"/><path fill="#e13602" fill-rule="evenodd" d="M328.1 571.7L338.1 570.2L350.1 569.6L359.1 570.2L368.1 571.6L380.1 575L407.1 586.4L419.1 590.9L431.1 594.1L446.1 596.6L452.1 598.6L455.9 601.7L457.3 604.7L457.5 607.7L456.7 610.7L453.5 616.7L453.4 619.7L454.7 622.7L458.5 628.7L461.6 631.7L467.1 635L473.1 636.9L482.1 637.5L491.1 636.1L500.1 633.1L524.1 623.5L542.1 618.4L554.1 616.8L569.1 617.1L581.1 618.6L596.1 621.6L608.1 624.7L620.3 628.7L632.1 633.8L644.1 640.2L664.6 652.7L668.1 655.7L228 655.7L254.3 610.7L261 601.7L269.1 593.5L278.1 587.8L288.4 583.7L308.1 576.8Z"/><path fill="#dc2f01" fill-rule="evenodd" d="M331.8 574.7L344.1 573.8L353.1 574.1L362.1 575.2L371.1 577.4L380.1 580.7L386.7 583.7L421.6 601.7L431.2 607.7L434.1 610.7L435.9 613.7L439 622.7L441.7 628.7L445.6 634.7L449.1 638.8L458.1 645.9L464.1 648.9L470.1 650.9L476.1 652.1L482.1 652.6L494.1 651.7L509.1 647.9L536.1 638.4L548.1 635L560.2 632.9L575.1 632.3L584.1 632.9L596.1 634.6L614.1 639L626.1 643.4L635.1 647.5L645 652.7L649.1 655.7L234.2 655.7L256.3 613.7L262.3 604.7L270.5 595.7L278.1 590.6L296.1 583.8L316.6 577.7Z"/><path fill="#d72701" fill-rule="evenodd" d="M321.2 580.7L338.1 578.4L347.1 578.3L356.1 579.2L363.9 580.7L371.1 582.9L380.1 586.7L386.1 589.9L404.8 601.7L412.7 607.7L419 613.7L423.6 619.7L436.2 640.7L441.1 646.7L450.5 655.7L240.3 655.7L258.6 616.7L264 607.7L271.3 598.7L278.1 593.5L284.1 590.9L305.1 584.5ZM558 649.7L575.1 647.7L590.1 648L599.1 649.1L608.1 651L614.4 652.7L621.3 655.7L537.8 655.7L545.5 652.7Z"/><path fill="#d22000" fill-rule="evenodd" d="M334.1 583.7L341.1 583.3L350.1 583.7L365.1 586.7L377.1 591.7L388.3 598.7L399.2 607.7L407.9 616.7L414.4 625.7L425.3 643.7L434 655.7L246.6 655.7L257.5 628.7L262.9 616.7L269.1 606.2L275.8 598.7L281.1 595.2L296.1 590.6L308.1 588Z"/><path fill="#cd1900" fill-rule="evenodd" d="M335.5 589.7L347.8 589.7L362.1 592.4L371.1 596L380.3 601.7L390.1 610.7L397.8 619.7L403.9 628.7L420 655.7L253.2 655.7L266.1 619.7L272.1 608.4L278.1 601.2L281.1 598.9L284.1 597.6L293.1 595.3Z"/><path fill="#c71200" fill-rule="evenodd" d="M322.4 598.7L338.1 597.3L350.1 597.9L356.1 599.1L362.1 601L371.1 605.8L380 613.7L387.2 622.7L394.7 634.7L406.3 655.7L260.4 655.7L267.3 631.7L271.5 619.7L276 610.7L280.8 604.7L285.6 601.7L293.1 599.9L302.1 598.9Z"/><path fill="#c10a00" fill-rule="evenodd" d="M287.6 607.7L296.1 605.7L305.1 605.8L323.1 607.7L344.1 608.8L353.1 610.5L359.1 612.9L365.1 616.7L368.1 619.3L374.1 626.1L380.1 635.1L391.4 655.7L268.7 655.7L275 628.7L278 619.7L281.1 613.7L284.1 610.1Z"/><path fill="#bb0300" fill-rule="evenodd" d="M294.6 616.7L299.1 616.1L302.1 616.3L311.1 619L318.2 622.7L329.1 630.3L332.1 631.3L347.1 632.6L353.1 634.5L358 637.7L362.1 641.6L368.1 649.1L372.2 655.7L279.7 655.7L283.4 634.7L286 625.7L287.4 622.7L289.7 619.7Z"/></g></g>
<polygon fill="#383838" points="89.2,642.3 99.3,642.3 175.9,605.4 260.5,525.9 294,638.3 354.7,645.1 413.2,525.9 454.3,627.6 517.7,615.7 684.6,549.7 697.1,549.7 697.1,645.6 89.2,645.6"/>
<g fill="#2b2f36" fill-opacity="0.88"><circle cx="99.31" cy="418.76" r="2.25"/><circle cx="175.95" cy="418.76" r="2.25"/><circle cx="260.55" cy="418.76" r="2.25"/><circle cx="294.05" cy="418.76" r="2.25"/><circle cx="354.79" cy="418.76" r="2.25"/><circle cx="413.27" cy="418.76" r="2.25"/><circle cx="454.38" cy="418.76" r="2.25"/><circle cx="517.74" cy="418.76" r="2.25"/><circle cx="627.88" cy="418.76" r="2.25"/><circle cx="683.52" cy="418.76" r="2.25"/><circle cx="294.05" cy="430.72" r="2.25"/><circle cx="413.27" cy="434.71" r="2.25"/><circle cx="454.38" cy="446.67" r="2.25"/><circle cx="99.31" cy="486.54" r="2.25"/><circle cx="175.95" cy="486.54" r="2.25"/><circle cx="260.55" cy="506.48" r="2.25"/><circle cx="413.27" cy="506.48" r="2.25"/><circle cx="175.95" cy="586.23" r="2.25"/><circle cx="517.74" cy="586.23" r="2.25"/><circle cx="99.31" cy="622.11" r="2.25"/><circle cx="294.05" cy="610.15" r="2.25"/><circle cx="354.79" cy="618.12" r="2.25"/><circle cx="454.38" cy="606.16" r="2.25"/></g>
<g clip-path="url(#clipB)"><path d="M89.2 426.7C91 426.8 96.9 427.3 100 427.5C103.1 427.7 106.6 427.9 108 428M139.4 427.5C140.7 428 144.6 429.4 146.8 431C149 432.6 151.1 434.9 152.7 437.1C154.3 439.3 155.4 441.7 156.2 444.2C157 446.6 157.3 449.1 157.5 451.7C157.7 454.3 157.6 457 157.6 459.8C157.5 462.5 157.3 465.4 157.1 468.2C156.9 471.1 156.7 474 156.6 476.8C156.5 479.7 156.4 482.6 156.5 485.3C156.6 488.1 156.8 490.9 157.3 493.5C157.7 496.1 158.4 498.7 159.3 501.1C160.3 503.5 161.6 505.7 163.2 507.8C164.8 509.9 166.8 511.8 168.9 513.4C171 515.1 173.4 516.5 175.9 517.6C178.4 518.7 181.1 519.6 183.7 520.1C186.4 520.6 189.2 520.7 191.9 520.5C194.6 520.3 197.3 519.5 199.9 518.6C202.5 517.8 205.1 516.4 207.7 515.4C210.3 514.4 212.8 513.2 215.4 512.5C218 511.8 220.7 511.4 223.3 511.4C226 511.4 228.7 511.8 231.3 512.4C234 512.9 236.7 513.9 239.3 514.9C241.9 515.8 244.6 517.1 247.2 517.9C249.8 518.7 252.4 519.6 255 519.6C257.7 519.6 260.5 519.2 262.9 518.1C265.2 517 267.4 515 268.9 512.9C270.5 510.8 271.4 508.1 272 505.4C272.7 502.8 272.8 499.9 272.8 497.1C272.9 494.3 272.6 491.5 272.4 488.8C272.1 486 271.7 483.4 271.1 480.8C270.5 478.2 269.7 475.7 268.7 473.2C267.7 470.7 266.4 468.3 265.1 465.8C263.7 463.4 262.1 461 260.9 458.5C259.7 456.1 258.4 453.5 257.7 451C257 448.4 256.6 445.6 256.8 443.1C257.1 440.5 257.9 438 259.2 435.7C260.4 433.3 262.6 431.3 264.4 429.1C266.1 427 268.2 424.9 269.5 422.5C270.8 420.2 271.7 417.6 271.9 415C272.2 412.4 271.2 408.1 271 406.7M89.2 440.4C90.6 440.5 94.5 440.6 97.2 440.8C99.9 441 102.9 441.2 105.7 441.5C108.5 441.9 111.4 442.4 114.1 443.1C116.8 443.9 119.4 444.8 121.8 446.1C124.1 447.4 126.4 449 128.2 450.8C130.1 452.7 131.8 454.8 133.1 457.1C134.5 459.4 135.5 462 136.3 464.6C137 467.2 137.5 469.9 137.8 472.7C138.2 475.5 138.4 478.4 138.6 481.2C138.8 484 138.8 486.8 139 489.5C139.2 492.3 139.4 495 139.7 497.7C140 500.4 140.3 503 140.7 505.7C141.2 508.4 141.7 511.1 142.4 513.8C143.1 516.5 143.8 519.3 144.8 521.9C145.8 524.5 146.9 527.2 148.2 529.5C149.6 531.9 151.1 534.2 152.8 536.2C154.6 538.1 156.6 539.9 158.8 541.3C161 542.8 163.5 543.9 166.1 544.9C168.7 545.8 171.5 546.6 174.2 547.2C177 547.9 179.8 548.4 182.6 549C185.3 549.5 188 550 190.8 550.4C193.5 550.9 196.2 551.3 198.9 551.6C201.6 552 204.2 552.3 206.9 552.6C209.6 552.8 212.3 553 215 553.2C217.7 553.4 220.5 553.5 223.2 553.6C226 553.7 230.2 553.8 231.6 553.8M89.2 453.4C90.8 453.5 95.4 453.4 98.3 453.9C101.2 454.5 104 455.6 106.6 456.9C109.1 458.3 111.5 460.1 113.6 462C115.7 464 117.6 466.3 119.1 468.8C120.6 471.3 121.9 474.1 122.6 476.9C123.4 479.7 123.5 484.4 123.7 485.9M125.7 514.9C125.7 516.2 125.6 520.4 125.8 523.1C125.9 525.8 126.3 528.6 126.8 531.2C127.3 533.9 128 536.6 128.8 539.2C129.6 541.8 130.6 544.3 131.7 546.8C132.8 549.3 134.1 551.7 135.4 554C136.8 556.3 138.4 558.5 140.1 560.6C141.7 562.7 143.5 564.7 145.5 566.5C147.4 568.4 149.5 570.1 151.6 571.6C153.8 573.2 156.1 574.7 158.4 576C160.8 577.3 163.3 578.5 165.8 579.5C168.3 580.5 170.9 581.5 173.5 582.2C176.1 583 178.8 583.6 181.5 584.1C184.2 584.6 186.9 584.9 189.6 585.1C192.4 585.3 196.5 585.2 197.9 585.3M89.2 510.9C90.2 509.8 93.2 506.7 94.8 504.4C96.5 502.1 98.1 499.9 99.2 497.2C100.3 494.5 102 490.6 101.6 488.3C101.1 486 98.4 483.6 96.4 483.6C94.3 483.6 90.4 487.6 89.2 488.4M89.2 536.6C89.9 537.9 91.9 541.8 93.4 544.2C94.9 546.6 96.6 548.9 98.4 551.2C100.1 553.4 102 555.6 103.9 557.7C105.8 559.8 107.8 561.9 109.8 564C111.8 566 113.9 568.1 115.9 570.1C118 572.2 120 574.2 122 576.3C124 578.4 125.9 580.5 127.9 582.6C129.8 584.8 131.8 586.9 133.7 589.1C135.6 591.2 137.5 593.4 139.4 595.6C141.3 597.7 143.1 599.9 145 602.1C146.9 604.3 148.8 606.4 150.7 608.6C152.6 610.7 155.5 613.9 156.5 615M89.2 580.3C90.6 580.6 94.9 581.4 97.6 582.3C100.3 583.2 102.9 584.4 105.3 585.7C107.8 587.1 110.1 588.7 112.3 590.4C114.6 592.1 116.7 594 118.8 596C120.8 598 122.7 600.2 124.6 602.4C126.5 604.6 128.2 607 129.9 609.3C131.6 611.6 133.3 614 134.8 616.4C136.4 618.8 138.6 622.3 139.3 623.5M89.2 615.3L93.5 615.5M105.4 629.8C105.2 630.5 104.5 632.4 104 634C103.5 635.6 102.6 638.6 102.3 639.5M266.1 544.5C267.4 544 271.7 542.6 274.2 541.4C276.7 540.2 279 538.7 281.1 537.1C283.3 535.5 285.3 533.7 287.2 531.8C289.1 529.9 290.9 527.8 292.6 525.7C294.3 523.5 295.9 521.3 297.4 519C299 516.7 300.5 514.3 302 512C303.5 509.6 304.9 507.2 306.4 504.8C307.9 502.5 309.4 500.1 310.9 497.8C312.5 495.5 314.1 493.2 315.7 491C317.4 488.9 320.1 485.8 321 484.8M347.5 465.4C348.7 464.9 352.5 463.4 355.1 462.5C357.6 461.7 360.3 461 362.9 460.4C365.6 459.9 368.3 459.5 371 459.2C373.7 458.9 376.4 458.7 379.2 458.6C381.9 458.6 384.6 458.7 387.3 458.9C390 459.1 392.7 459.4 395.4 459.8C398 460.2 400.6 460.8 403.3 461.4C405.9 462 408.5 462.8 411 463.6C413.6 464.4 416.2 465.3 418.7 466.2C421.2 467.2 423.8 468.2 426.3 469.2C428.8 470.3 431.3 471.4 433.8 472.5C436.3 473.6 438.8 474.8 441.3 475.9C443.8 477 446.2 478.2 448.8 479.2C451.3 480.2 453.8 481.3 456.3 482.2C458.8 483.1 461.4 483.9 463.9 484.6C466.5 485.3 469.1 485.9 471.7 486.3C474.4 486.7 477 486.9 479.7 487.1C482.4 487.3 485.1 487.3 487.8 487.3C490.5 487.3 493.3 487.2 496 487.1C498.7 487 501.5 486.8 504.2 486.7C507 486.5 509.7 486.4 512.5 486.3C515.2 486.3 517.9 486.2 520.7 486.3C523.4 486.3 526.1 486.4 528.8 486.6C531.5 486.7 534.2 486.9 536.9 487.2C539.6 487.5 542.3 487.8 545 488.2C547.6 488.5 550.3 489 553 489.4C555.6 489.9 558.3 490.4 560.9 491C563.5 491.6 566.1 492.2 568.8 492.9C571.4 493.5 574 494.2 576.6 495C579.1 495.8 581.7 496.6 584.3 497.4C586.9 498.2 589.4 499.1 591.9 500C594.5 501 597 501.9 599.5 502.9C602.1 503.9 604.6 505 607 506C609.5 507.1 612 508.2 614.5 509.3C617 510.4 619.4 511.6 621.9 512.8C624.3 513.9 626.8 515.1 629.2 516.3C631.7 517.5 634.1 518.7 636.6 519.9C639 521.1 641.5 522.3 643.9 523.4C646.4 524.6 648.8 525.8 651.3 526.9C653.7 528.1 656.2 529.2 658.7 530.3C661.2 531.4 663.7 532.5 666.2 533.5C668.7 534.5 671.2 535.5 673.7 536.5C676.2 537.4 678.8 538.3 681.4 539.2C683.9 540 686.5 540.8 689.1 541.6C691.7 542.3 695.7 543.2 697 543.6M270.4 555.8C271.7 555.3 275.7 554 278.2 552.9C280.7 551.8 283.1 550.5 285.4 549.1C287.7 547.7 289.9 546.2 292.1 544.6C294.2 543 296.3 541.3 298.3 539.6C300.4 537.8 302.3 535.9 304.2 534.1C306.2 532.2 308.1 530.2 309.9 528.2C311.8 526.3 313.6 524.2 315.5 522.2C317.3 520.2 319.1 518.2 321 516.2C322.8 514.2 324.7 512.2 326.5 510.2C328.4 508.2 330.3 506.3 332.2 504.4C334.1 502.5 336 500.6 338 498.7C339.9 496.9 341.9 495.1 344 493.4C346 491.7 348.1 490 350.3 488.4C352.5 486.8 354.7 485.3 356.9 483.8C359.2 482.4 361.6 481 364 479.8C366.4 478.5 368.9 477.3 371.5 476.3C374 475.2 376.6 474.3 379.3 473.5C381.9 472.7 384.6 472.1 387.3 471.6C390 471.1 392.8 470.8 395.5 470.6C398.2 470.5 400.9 470.6 403.6 470.8C406.2 471.1 408.9 471.6 411.4 472.3C413.9 473.1 416.4 474.1 418.7 475.3C421.1 476.5 423.2 478 425.4 479.6C427.6 481.2 429.7 483 431.9 484.7C434 486.4 436.2 488.2 438.4 489.9C440.6 491.5 442.9 493.1 445.2 494.5C447.5 495.9 449.9 497.3 452.3 498.4C454.7 499.5 457.2 500.5 459.7 501.3C462.2 502.1 464.8 502.6 467.4 503C470 503.4 472.6 503.6 475.3 503.7C477.9 503.8 480.6 503.8 483.3 503.7C486 503.6 488.7 503.4 491.5 503.1C494.2 502.9 496.9 502.6 499.7 502.3C502.4 502 505.2 501.7 508 501.5C510.7 501.3 513.5 501 516.2 500.9C519 500.8 521.7 500.7 524.4 500.8C527.1 500.8 529.8 501 532.5 501.2C535.2 501.5 537.9 501.8 540.6 502.2C543.2 502.6 545.9 503.1 548.5 503.6C551.2 504.2 553.8 504.8 556.4 505.5C559 506.1 561.6 506.9 564.2 507.7C566.8 508.5 569.4 509.3 571.9 510.2C574.5 511.1 577 512 579.6 513C582.1 513.9 584.6 515 587.1 516C589.6 517 592.1 518.1 594.6 519.2C597.1 520.2 599.5 521.4 602 522.5C604.5 523.6 606.9 524.7 609.4 525.9C611.8 527.1 614.3 528.2 616.7 529.4C619.2 530.6 621.6 531.7 624.1 532.9C626.5 534.1 628.9 535.3 631.4 536.4C633.8 537.6 636.3 538.7 638.7 539.9C641.2 541 643.7 542.2 646.1 543.3C648.6 544.4 651.1 545.5 653.6 546.5C656.1 547.6 658.6 548.7 661.1 549.7C663.6 550.7 666.1 551.7 668.6 552.6C671.2 553.5 675 554.9 676.3 555.3M272.6 563.9C273.8 563.3 277.4 561.6 279.9 560.4C282.3 559.2 284.7 558 287.1 556.7C289.5 555.5 291.9 554.2 294.3 552.9C296.6 551.6 299 550.2 301.4 548.8C303.7 547.4 306.1 546 308.4 544.6C310.7 543.1 313 541.6 315.2 540.1C317.5 538.6 319.8 537 322 535.5C324.2 533.9 326.4 532.3 328.5 530.6C330.7 529 332.8 527.3 334.9 525.6C337 523.9 339 522.2 341.1 520.4C343.2 518.7 345.2 517 347.3 515.2C349.3 513.5 351.4 511.7 353.4 510C355.5 508.3 357.6 506.5 359.7 504.9C361.8 503.2 364 501.5 366.1 499.9C368.3 498.2 370.5 496.6 372.8 495.1C375.1 493.5 377.5 492 379.9 490.6C382.3 489.2 384.7 487.7 387.2 486.6C389.7 485.5 392.3 484.5 394.8 484C397.4 483.4 400 483.2 402.5 483.4C405.1 483.7 407.6 484.5 410.1 485.5C412.5 486.5 414.9 488 417 489.7C419.2 491.3 421.1 493.3 423 495.4C424.9 497.4 426.4 499.8 428.2 501.9C429.9 504.1 431.5 506.5 433.3 508.5C435.2 510.5 437.2 512.4 439.3 514C441.5 515.7 443.9 517 446.3 518.2C448.7 519.3 451.2 520.1 453.7 520.8C456.2 521.4 458.8 521.8 461.4 522.1C464 522.4 466.6 522.4 469.3 522.4C472 522.4 474.7 522.2 477.4 522C480.1 521.7 482.9 521.4 485.6 521C488.4 520.7 491.2 520.3 493.9 519.9C496.7 519.5 499.5 519.1 502.3 518.8C505 518.5 507.8 518.2 510.5 518.1C513.3 517.9 516 517.8 518.8 517.8C521.5 517.7 524.2 517.8 526.9 517.9C529.6 518.1 532.3 518.3 535 518.6C537.6 518.9 540.3 519.2 542.9 519.7C545.6 520.1 548.2 520.6 550.8 521.2C553.4 521.8 556 522.4 558.6 523.1C561.2 523.8 563.8 524.6 566.3 525.5C568.9 526.3 571.4 527.2 573.9 528.1C576.5 529.1 579 530.1 581.5 531.1C584 532.1 586.5 533.2 589 534.3C591.5 535.4 594 536.5 596.5 537.6C599 538.7 601.5 539.9 604 541C606.4 542.2 608.9 543.3 611.4 544.5C613.9 545.6 616.4 546.8 618.9 547.9C621.3 549.1 623.8 550.2 626.3 551.3C628.8 552.4 631.3 553.5 633.8 554.5C636.3 555.6 638.8 556.6 641.3 557.6C643.9 558.5 646.4 559.5 648.9 560.3C651.5 561.2 655.3 562.4 656.6 562.8M274.7 571.4C275.9 570.9 279.6 569.3 282 568.3C284.5 567.2 286.9 566.2 289.4 565.2C291.9 564.1 294.3 563.1 296.8 562C299.2 561 301.7 559.9 304.1 558.9C306.6 557.8 309 556.8 311.5 555.7C313.9 554.6 316.4 553.6 318.8 552.5C321.2 551.4 323.7 550.3 326.1 549.2C328.5 548.1 331 547 333.4 545.8C335.8 544.7 338.2 543.6 340.6 542.4C343 541.3 345.4 540.1 347.8 538.9C350.2 537.7 352.6 536.5 355 535.3C357.3 534.1 359.7 532.8 362 531.5C364.4 530.3 366.7 529 369 527.6C371.2 526.2 373.5 524.8 375.7 523.3C377.8 521.8 380 520.2 382.1 518.6C384.2 516.9 386.2 515.2 388.1 513.4C390.1 511.6 391.9 509.6 393.8 507.7C395.7 505.8 398.6 502.9 399.5 502M421.1 501.6C421.7 502.8 423.5 506.5 424.7 508.9C426 511.4 427.3 513.9 428.7 516.3C430.2 518.7 431.7 521.2 433.4 523.3C435.1 525.5 437 527.6 439.1 529.3C441.1 531.1 443.4 532.7 445.7 534.1C448.1 535.4 450.6 536.6 453.1 537.5C455.6 538.4 458.2 539.1 460.9 539.5C463.5 540 466.2 540.2 468.9 540.3C471.5 540.4 474.3 540.3 477 540.1C479.7 540 482.5 539.6 485.3 539.2C488.1 538.9 490.8 538.4 493.6 537.9C496.4 537.4 499.2 536.9 502 536.4C504.8 536 507.6 535.5 510.4 535.1C513.2 534.7 515.9 534.4 518.7 534.2C521.5 534 524.2 533.9 526.9 533.9C529.6 534 532.3 534.2 535 534.5C537.7 534.8 540.4 535.2 543 535.7C545.7 536.2 548.3 536.8 550.9 537.5C553.6 538.2 556.2 539 558.8 539.8C561.4 540.7 564 541.6 566.5 542.6C569.1 543.5 571.7 544.6 574.2 545.6C576.8 546.7 579.4 547.8 581.9 548.9C584.5 550.1 587 551.2 589.5 552.4C592.1 553.6 594.6 554.8 597.2 555.9C599.7 557.1 602.2 558.3 604.8 559.4C607.3 560.6 609.8 561.7 612.4 562.8C614.9 563.9 617.5 564.9 620 566C622.5 567 625.1 567.9 627.7 568.8C630.2 569.7 634.1 570.9 635.3 571.3M276.3 578.4C277.6 577.9 281.5 576.5 284.2 575.5C286.8 574.5 289.5 573.6 292.1 572.6C294.8 571.6 297.4 570.6 300.1 569.6C302.8 568.6 305.4 567.6 308.1 566.6C310.8 565.7 313.5 564.7 316.2 563.8C318.9 562.9 321.6 562 324.3 561.1C327 560.3 329.8 559.4 332.5 558.7C335.2 557.9 338 557.2 340.7 556.5C343.4 555.8 346.2 555.2 349 554.7C351.7 554.2 354.5 553.7 357.3 553.3C360 552.9 362.8 552.6 365.6 552.4C368.4 552.1 371.2 552 374 552C376.8 551.9 379.6 552 382.5 552.2C385.3 552.3 388.1 552.6 391 553C393.8 553.4 398.1 554.3 399.5 554.6M426.4 559.8C427.7 560 431.7 560.6 434.4 561C437.1 561.3 439.8 561.6 442.5 561.9C445.1 562.1 447.8 562.3 450.5 562.4C453.2 562.5 455.9 562.6 458.5 562.6C461.2 562.6 463.9 562.6 466.6 562.4C469.3 562.3 472 562.1 474.7 561.9C477.4 561.6 480.1 561.3 482.8 560.9C485.5 560.6 488.2 560.2 490.9 559.8C493.6 559.4 496.3 559 499 558.7C501.7 558.3 504.4 558 507.1 557.8C509.8 557.6 512.5 557.4 515.2 557.3C517.9 557.2 520.5 557.3 523.2 557.4C525.8 557.6 528.5 557.9 531.1 558.2C533.7 558.6 536.4 559.1 539 559.6C541.6 560.2 544.2 560.9 546.8 561.6C549.3 562.3 551.9 563.1 554.5 564C557 564.8 559.6 565.8 562.1 566.7C564.6 567.7 567.1 568.7 569.7 569.8C572.2 570.8 574.7 571.9 577.1 573C579.6 574.2 582.1 575.3 584.6 576.4C587 577.6 589.5 578.7 591.9 579.9C594.3 581 597.9 582.7 599.1 583.3M278.5 587.5C279.7 587 283.5 585.5 286 584.5C288.5 583.6 291 582.6 293.6 581.6C296.2 580.7 298.7 579.8 301.3 578.9C303.9 578 306.5 577.1 309.1 576.3C311.7 575.5 314.4 574.7 317 574C319.7 573.4 322.3 572.7 325 572.2C327.6 571.6 330.3 571.1 333 570.7C335.6 570.3 338.3 570 341 569.8C343.7 569.6 346.4 569.5 349.1 569.5C351.7 569.6 354.4 569.7 357.1 569.9C359.8 570.1 362.4 570.5 365.1 570.9C367.7 571.4 370.4 572 373 572.7C375.6 573.4 378.2 574.2 380.8 575.2C383.4 576.2 387.2 577.9 388.5 578.5M451.8 617.7C452.3 618.6 453.9 621.1 454.8 622.7C455.7 624.4 456.9 626.9 457.3 627.7M282.3 597.8C283.9 597.3 288.5 596 292.2 595.3C296 594.5 300.4 593.8 304.7 593.3C309.1 592.8 316.2 592.4 318.5 592.3M350 589.8C352 590.2 358.7 591.1 362.4 592.3C366.2 593.4 369.8 595.3 372.4 596.5C375 597.8 377 599.2 377.9 599.7M355 406.7C355.7 407.8 358.6 410.7 359.7 413.1C360.8 415.5 360.9 418.3 361.5 421C362.1 423.7 362.4 426.5 363.3 429C364.2 431.5 365.3 433.9 366.8 435.9C368.4 437.8 370.5 439.4 372.7 440.8C375 442.2 377.6 443.2 380.3 444.1C382.9 445 385.8 445.7 388.5 446.3C391.2 446.9 394 447.3 396.7 447.7C399.3 448.1 402 448.4 404.7 448.8C407.3 449.1 409.9 449.4 412.6 449.8C415.2 450.2 417.8 450.6 420.4 451.1C423 451.6 425.6 452.1 428.2 452.7C430.8 453.3 433.4 454 436 454.7C438.7 455.4 441.3 456.1 443.9 456.8C446.5 457.5 449.1 458.3 451.7 459C454.3 459.7 456.9 460.4 459.5 461.1C462.2 461.8 464.8 462.4 467.4 463C470.1 463.6 472.7 464.1 475.3 464.6C478 465 480.7 465.4 483.3 465.7C486 466.1 488.7 466.3 491.4 466.5C494 466.7 496.7 466.9 499.4 467.1C502.1 467.2 504.8 467.3 507.5 467.5C510.2 467.6 512.9 467.7 515.6 467.9C518.3 468 521 468.2 523.7 468.4C526.3 468.7 529 468.9 531.7 469.2C534.4 469.6 538.4 470.2 539.7 470.4M572.2 475.9C573.5 476.3 577.6 477.4 580.3 478.2C582.9 479 585.6 479.8 588.2 480.7C590.8 481.6 593.5 482.6 596.1 483.6C598.7 484.6 601.3 485.6 603.8 486.7C606.4 487.7 609 488.8 611.5 489.9C614.1 491 616.7 492.1 619.2 493.3C621.8 494.4 624.3 495.6 626.8 496.7C629.4 497.9 631.9 499 634.5 500.2C637 501.3 639.5 502.5 642.1 503.7C644.6 504.8 647.2 505.9 649.7 507.1C652.3 508.2 654.8 509.3 657.4 510.4C660 511.4 662.6 512.5 665.1 513.5C667.7 514.5 670.3 515.5 673 516.4C675.6 517.4 678.2 518.3 680.9 519.1C683.5 520 686.2 520.8 688.9 521.5C691.6 522.3 695.7 523.3 697 523.6M409.4 406.7C409.3 408.1 408.2 412.7 409 415C409.7 417.3 411.9 418.9 413.9 420.5C415.8 422.1 418.3 423.3 420.6 424.3C423 425.4 425.5 426.2 428 426.9C430.5 427.7 433.2 428.2 435.8 428.7C438.5 429.2 441.2 429.6 443.9 430C446.6 430.4 449.3 430.7 452.1 431.1C454.8 431.5 457.5 431.9 460.2 432.4C462.8 432.9 465.5 433.4 468.1 434C470.8 434.5 473.4 435.1 476 435.8C478.6 436.4 481.2 437 483.8 437.6C486.4 438.3 489 438.9 491.6 439.6C494.2 440.2 496.8 440.8 499.3 441.4C501.9 442 504.5 442.6 507.1 443.2C509.7 443.7 512.3 444.2 514.9 444.7C517.5 445.2 520.1 445.6 522.8 446C525.4 446.3 528 446.6 530.7 446.8C533.4 447.1 536 447.2 538.7 447.3C541.4 447.5 544.1 447.5 546.8 447.6C549.5 447.7 552.3 447.7 555 447.8C557.7 447.9 560.4 447.9 563.1 448.1C565.8 448.2 568.5 448.4 571.1 448.7C573.8 448.9 576.5 449.2 579.1 449.7C581.7 450.1 584.4 450.6 587 451.1C589.6 451.7 592.2 452.3 594.7 453C597.3 453.7 599.9 454.4 602.4 455.2C605 456 607.5 456.8 610.1 457.7C612.6 458.5 615.1 459.4 617.6 460.3C620.2 461.2 622.7 462.1 625.2 463.1C627.7 464 630.2 465 632.7 465.9C635.2 466.9 637.7 467.8 640.2 468.8C642.8 469.7 645.3 470.7 647.8 471.6C650.3 472.6 652.8 473.5 655.3 474.4C657.9 475.3 660.4 476.2 662.9 477C665.5 477.8 668 478.7 670.6 479.4C673.1 480.2 677 481.3 678.3 481.6" fill="none" stroke="#160c04" stroke-opacity="0.78" stroke-width="0.85" stroke-linejoin="round"/><g font-weight="700" font-size="14.7" text-anchor="middle" fill="#0c0c0c"><text transform="translate(123.7,425.5) scale(0.925,1) rotate(3)" y="5.2">0.2</text><text transform="translate(125,500) scale(0.925,1) rotate(86)" y="5.2">0.4</text><text transform="translate(103.8,618) scale(0.925,1) rotate(57)" y="5.2">0.7</text><text transform="translate(333,473) scale(0.925,1) rotate(-35)" y="5.2">0.3</text><text transform="translate(410.6,496.6) scale(0.925,1) rotate(0)" y="5.2">0.6</text><text transform="translate(334.2,590.3) scale(0.925,1) rotate(-3)" y="5.2">0.9</text><text transform="translate(556.4,472.4) scale(0.925,1) rotate(8)" y="5.2">0.2</text><text transform="translate(693.9,486.1) scale(0.925,1) rotate(15)" y="5.2">0.1</text><text transform="translate(441.2,604.2) scale(0.925,1) rotate(66)" y="5.2">0.8</text></g></g>
<polygon fill="#383838" points="89.2,642.3 99.3,642.3 175.9,605.4 260.5,525.9 294,638.3 354.7,645.1 413.2,525.9 454.3,627.6 517.7,615.7 684.6,549.7 697.1,549.7 697.1,645.6 89.2,645.6"/>
<path d="M89.2 406.7H697.1V645.1H89.2Z" fill="none" stroke="#000" stroke-opacity="0.74" stroke-width="1.35"/>
<path d="M83.6 406.7H89.2M83.6 486.17H89.2M83.6 565.63H89.2M83.6 645.1H89.2M129.35 645.1V651M242.9 645.1V651M356.45 645.1V651M470 645.1V651M583.55 645.1V651M697.1 645.1V651" fill="none" stroke="#000" stroke-opacity="0.72" stroke-width="1.25"/>
<path d="M85.9 446.43H89.2M85.9 525.9H89.2M85.9 605.37H89.2M186.12 645.1V648.5M299.67 645.1V648.5M413.22 645.1V648.5M526.77 645.1V648.5M640.32 645.1V648.5" fill="none" stroke="#000" stroke-opacity="0.5" stroke-width="1.15"/>
<g font-weight="700" font-size="21"><text transform="translate(77.6,413) scale(0.925,1)" text-anchor="end">0</text><text transform="translate(77.6,492.5) scale(0.925,1)" text-anchor="end">20</text><text transform="translate(77.6,571.9) scale(0.925,1)" text-anchor="end">40</text><text transform="translate(77.6,651.4) scale(0.925,1)" text-anchor="end">60</text><text transform="translate(129.6,673.7) scale(0.925,1)" text-anchor="middle">27°N</text><text transform="translate(243.2,673.7) scale(0.925,1)" text-anchor="middle">28°N</text><text transform="translate(356.7,673.7) scale(0.925,1)" text-anchor="middle">29°N</text><text transform="translate(470.3,673.7) scale(0.925,1)" text-anchor="middle">30°N</text><text transform="translate(583.8,673.7) scale(0.925,1)" text-anchor="middle">31°N</text><text transform="translate(697.4,673.7) scale(0.925,1)" text-anchor="middle">32°N</text></g>
<text transform="translate(37.6,525.4) rotate(-90)" text-anchor="middle" font-size="26">Depth (m)</text>
<text x="702" y="392.2" text-anchor="end" font-size="25.9">KSSW (%)</text>
<text x="-0.6" y="406" font-weight="700" font-size="29">B</text>
<rect x="712.7" y="406.7" width="21.4" height="238.4" fill="url(#cb)"/>
<path d="M712.7 407.3V406.6L716.3 405.8L723.4 402.8L730.5 405.8L734.1 406.6V407.3Z" fill="#b80000"/>
<path d="M712.7 644.8V645.7L716.3 646.4L723.4 649.9L730.5 646.4L734.1 645.7V644.8Z" fill="#fffffc"/>
<path d="M712.7 645.7V406.6M734.1 406.6V645.7" stroke="#222" stroke-opacity="0.5" stroke-width="1.2" fill="none"/>
<path d="M716.3 405.8L723.4 402.8L730.5 405.8M716.3 646.4L723.4 649.9L730.5 646.4" stroke="#222" stroke-opacity="0.5" stroke-width="1.1" fill="none" stroke-linejoin="round"/>
<path d="M712.3 406.6L716.3 405.8M734.5 406.6L730.5 405.8M712.3 645.7L716.3 646.4M734.5 645.7L730.5 646.4" stroke="#111" stroke-opacity="0.85" stroke-width="1.4" fill="none"/>
<path d="M712.7 597.42h4.8M734.1 597.42h-4.8M712.7 549.74h4.8M734.1 549.74h-4.8M712.7 502.06h4.8M734.1 502.06h-4.8M712.7 454.38h4.8M734.1 454.38h-4.8" stroke="#000" stroke-opacity="0.8" stroke-width="1.3" fill="none"/>
<g font-weight="700" font-size="20.2"><text transform="translate(739.5,651.1) scale(0.935,1)">0</text><text transform="translate(739.5,603.4) scale(0.935,1)">0.2</text><text transform="translate(739.5,555.7) scale(0.935,1)">0.4</text><text transform="translate(739.5,508.1) scale(0.935,1)">0.6</text><text transform="translate(739.5,460.4) scale(0.935,1)">0.8</text><text transform="translate(739.5,412.7) scale(0.935,1)">1</text></g>
<text transform="translate(714.1,642.8) rotate(-90)" font-weight="700" font-size="12.6" fill="#111" textLength="95.5" lengthAdjust="spacingAndGlyphs">Ocean Data View</text>
</g>
<g id="panelC">
<clipPath id="clipC"><rect x="89" y="745.2" width="606.4" height="237.9"/></clipPath>
<g clip-path="url(#clipC)"><g filter="url(#bl)"><rect x="60" y="716.2" width="664.4" height="295.9" fill="#fffff6"/><path fill="#ffffec" fill-rule="evenodd" d="M80 736.2L707 736.2L707 994.2L393.6 994.2L385.2 979.2L371 951.1L365.9 943.2L360.5 937.2L353 932.1L343.1 928.2L323 923.4L311 922.4L302 923.8L296 926.9L293 929.8L290 934.1L287.9 940.2L287.1 946.2L287.5 955.2L292.9 982.2L294.7 994.2L80 994.2ZM410 834.4L404 837L398 842.7L395 847.2L392.2 853.2L389.7 862.2L389.1 871.2L390.2 877.2L391.4 880.2L395 884.3L398 886L401 886.9L407 887.1L413 886.3L419 884.5L425 881.3L428 878.3L430.4 874.2L433 865.2L433.5 859.2L432.9 853.2L431.2 847.2L428 841.5L424.9 838.2L419 834.8L416 834.1Z"/><path fill="#fffedd" fill-rule="evenodd" d="M80 736.2L707 736.2L707 748.5L697 754.2L694.4 757.2L694 760.2L694.9 763.2L698 767.7L704 774.2L707 776.4L707 993.7L706.3 994.2L422.6 994.2L407 976.2L397.4 961.2L392.9 952.2L388 940.2L385.3 931.2L383.7 922.2L383.7 916.2L384.4 913.2L386.3 910.2L389.7 907.2L395 904.2L422 891L429.7 886.2L432.9 883.2L437 877.7L441.2 868.2L443.1 859.2L443.3 850.2L441.5 841.2L439 835.2L434 828.5L428 824L422 821.5L413 820.5L407 821.6L404 822.6L398 826.3L392 832.5L386.6 841.2L382.7 850.2L379.9 859.2L376.8 874.2L374 896.2L372.4 901.2L370 904.2L365 907.3L353 910.8L341 912.7L317 915.4L305 917.8L299 920L293 923.6L288 928.2L285.7 931.2L283.9 934.2L281.7 940.2L280.2 949.2L280.2 961.2L282.2 994.2L80 994.2Z"/><path fill="#fffdcf" fill-rule="evenodd" d="M80 736.2L706.1 736.2L689 751.4L686.6 754.2L685.4 757.2L685.3 760.2L687.3 766.2L692 775.4L701 788.2L707 794.9L707 945L689 961.2L672.1 973.2L653 983.5L627.4 994.2L471.9 994.2L452 985.9L443 981.2L434 975.2L428 970.4L421.6 964.2L416 957.4L410.7 949.2L407 941L405.1 934.2L404.4 928.2L404.8 922.2L405.6 919.2L408.2 913.2L412.6 907.2L415.5 904.2L422.9 898.2L435.9 889.2L440 885.1L443.8 880.2L447.4 874.2L451.1 865.2L453.3 856.2L453.9 850.2L453.6 841.2L451.6 832.2L447.5 823.2L443 817.4L437 812.7L431 809.9L422 807.7L413 807.3L404 808.7L398 811.2L392 815.6L386 822.8L382.1 829.2L377 840L363.8 877.2L359 885.8L353.3 892.2L347 896.8L338.3 901.2L308 911.4L299 915.1L290 920.5L281.9 928.2L279.8 931.2L277 937.2L274.3 949.2L273.5 961.2L272.5 994.2L80 994.2Z"/><path fill="#fffac1" fill-rule="evenodd" d="M80 736.2L693.2 736.2L689 742.1L686 744.5L671.4 751.2L667.7 754.2L666.4 757.2L668 760.9L670.6 763.2L677 767.4L678.4 769.2L680 772.2L684.3 784.2L692.3 799.2L696.2 808.2L700.9 823.2L706.8 847.2L706.9 865.2L703.1 877.2L698 888L689 900.6L680 910L665.4 922.2L650 932.9L635 941.6L618.1 949.2L602 954.6L587 958.2L569 961.2L545 963.6L521 964.6L491 964.2L473 963.2L458 960.7L449 957.7L443 954.9L437 951.1L431 945.9L426.3 940.2L423 934.2L421 928.2L420.5 922.2L421.3 916.2L422.2 913.2L425.4 907.2L428 904.2L443 893L449.6 886.2L456.2 877.2L462.5 865.2L466.4 853.2L468.1 841.2L467.6 829.2L465.5 820.2L461.6 811.2L457.7 805.2L452 800.2L446 797.2L437 794.6L422 792.7L413 792.7L404 793.9L398 795.6L391.2 799.2L386 803.6L380.3 811.2L372.7 826.2L357.4 865.2L352.5 874.2L347 881L341 886.5L332 892.8L322.3 898.2L302 908.1L290 915.1L281 922.2L275.9 928.2L271.8 937.2L269 948.8L264 994.2L80 994.2Z"/><path fill="#fff7b3" fill-rule="evenodd" d="M80 736.2L654.7 736.2L644 744.1L637.9 751.2L633.1 760.2L625.8 781.2L621.9 787.2L617 791.5L608 796.6L593.7 802.2L569 809.4L542 816.3L536 817.1L530 817.2L524 816.2L521 815.1L515 811.7L502.7 802.2L498 799.2L471.2 784.2L461 779.1L449 775.1L434 772.8L425 772.4L416 772.9L404 775.1L398 777.3L392 780.4L386 784.7L380.5 790.2L377 794.7L372.3 802.2L365.2 817.2L350 855.7L344.7 865.2L340.3 871.2L332 879.7L324.1 886.2L284 912.9L276.8 919.2L272 925.2L267.8 934.2L265.1 943.2L256.3 994.2L80 994.2ZM499.2 859.2L503 857.7L506 857.2L512 858.1L515 859.8L518 862.4L522.3 868.2L526.1 877.2L527.1 886.2L526.1 892.2L525 895.2L521.4 901.2L515.3 907.2L510.8 910.2L505 913.2L497 916.2L479 921.4L467 925.9L461 927.3L455 927.3L448.8 925.2L445.4 922.2L443.9 919.2L443.6 916.2L444.4 913.2L446.2 910.2L468 889.2L488 867.6L494 862.4Z"/><path fill="#fff2a5" fill-rule="evenodd" d="M80 736.2L613.1 736.2L610.4 739.2L590 756.1L580.8 763.2L572 769.1L563 774L554 777.7L545 780.2L539 781.2L530 781.6L524 781.1L518 780L509 777.4L496.9 772.2L473 759L464 754.6L455 751.5L443 748.7L428 747.3L413 748.3L401 751.5L395 754.1L389 757.7L380 765.9L375.2 772.2L371 779.1L358.5 805.2L342.5 844.2L338 853.2L332.1 862.2L324.5 871.2L315.1 880.2L278 909.9L272 916.4L268.1 922.2L263.9 931.2L261 940.2L253.5 976.2L248.9 994.2L80 994.2Z"/><path fill="#ffeb98" fill-rule="evenodd" d="M80 736.2L375.5 736.2L368 745.5L362.9 754.2L360.8 760.2L356.6 778.2L352.6 790.2L334.1 832.2L326.2 847.2L320 856.3L309.9 868.2L275 902.4L269 910.3L263.9 919.2L258 934.2L248.4 973.2L241.7 994.2L80 994.2ZM482.3 736.2L566.4 736.2L563.3 739.2L557 743.6L542 752.1L530 756.2L521 757.2L515 756.1L509 753.6L499.7 748.2L486 739.2Z"/><path fill="#ffe38b" fill-rule="evenodd" d="M80 736.2L348.8 736.2L343.9 751.2L343.7 757.2L344.8 769.2L343.9 778.2L342.4 784.2L338.9 793.2L322.8 823.2L317 832.7L305 848.3L287 869.8L272 891.3L266 901.7L260 914.9L256.2 925.2L243.7 970.2L239.4 982.2L234.3 994.2L80 994.2Z"/><path fill="#ffda7c" fill-rule="evenodd" d="M80 736.2L331.4 736.2L331.6 751.2L332.7 769.2L331.7 778.2L329.9 784.2L327.2 790.2L323 797.2L317 805.4L311 812.4L305 818.3L299 823L284 832.2L278 836.5L275 839.4L271.6 844.2L268.4 853.2L265.5 874.2L263.6 883.2L242.1 958.2L235.7 976.2L226.8 994.2L93 994.2L86 986.7L80 981.6Z"/><path fill="#ffd06f" fill-rule="evenodd" d="M80 736.2L314.6 736.2L319.4 748.2L321.3 757.2L321.9 763.2L321.8 769.2L319.7 778.2L315 787.2L308 795L302 799.9L296 803.7L278 813.1L271.3 817.2L266 821.6L263 824.9L258.5 832.2L256.2 838.2L254.5 847.2L254.2 856.2L254.5 877.2L253.8 889.2L252.2 901.2L249 916.2L241 946.2L235 964.2L228.1 979.2L218.6 994.2L113.9 994.2L104.2 979.2L98 965.2L95.4 961.2L90.8 958.2L80 955.8Z"/><path fill="#fec763" fill-rule="evenodd" d="M80 736.2L258 736.2L257.5 742.2L258.6 748.2L260.8 751.2L263 752.7L266 753.8L272 753.9L290 747.8L296 747.3L302 749L305 751.1L308 754.6L310.2 760.2L310.9 766.2L309.8 772.2L306.6 778.2L304 781.2L299 785.1L278 795.1L272 798.7L266 803.4L260 809.6L257 813.6L251 824.7L248 833.9L246.5 844.2L246.1 853.2L247 880.2L247 895.2L245.3 910.2L241.4 928.2L235.4 949.2L228.2 967.2L221 979.8L209.4 994.2L129.2 994.2L122.2 985.2L118.3 979.2L108.8 958.2L104.8 952.2L101 948.9L95 946.2L80 943.5Z"/><path fill="#febf57" fill-rule="evenodd" d="M80 736.2L243.6 736.2L241.8 748.2L242 754.6L245 760.6L257.5 775.2L259.3 778.2L260.3 781.2L260.3 784.2L258.3 790.2L248 812.4L244.3 823.2L241.6 835.2L240.3 853.2L241.5 898.2L239.5 916.2L236.2 931.2L232.8 943.2L228.3 955.2L224 964.3L218 974.1L212 981.6L206 987.5L197.8 994.2L144.3 994.2L134.2 985.2L128 977.6L123.4 970.2L114 952.2L109.4 946.2L106 943.2L101 940L95 937.8L80 933.7ZM285.8 763.2L290 762.1L293 762.1L296 763.4L297.9 766.2L298 769.2L296.5 772.2L293 774.7L290 775.7L287 776L283.7 775.2L281 773.1L280.2 772.2L279.8 769.2L281.3 766.2Z"/><path fill="#feb64c" fill-rule="evenodd" d="M80 736.2L233.9 736.2L233.4 748.2L234 754.2L236 761.4L243.5 778.2L245 784.2L245.4 790.2L243.8 802.2L237.7 829.2L236 842L235.4 859.2L236.6 898.2L235 916.2L231.8 931.2L228.1 943.2L224 953.4L218.1 964.2L212 972.6L206 978.9L200 983.8L191 988.9L179 992.9L170 993.5L161 991.7L155 989.5L149 986.4L140 979.6L134.2 973.2L128 964.5L118.6 949.2L113.9 943.2L110 939.4L101 933.2L80 923.9Z"/><path fill="#fead42" fill-rule="evenodd" d="M80 736.2L226.2 736.2L226.5 745.2L227.7 754.2L230 762.9L235.9 781.2L237.5 793.2L237 805.2L232.9 832.2L231.5 847.2L231.1 865.2L231.9 898.2L230.4 916.2L228.1 928.2L224.5 940.2L220.8 949.2L215.9 958.2L209.2 967.2L203.3 973.2L197 977.9L191 981.2L182 984.2L176 985.1L170 985.1L161 983.3L152 979.3L146 975.1L140 969.5L134 962.3L120 943.2L113 935.6L104 928.5L92 921.2L80 912.8Z"/><path fill="#fda438" fill-rule="evenodd" d="M80 736.2L219.4 736.2L220.3 745.2L222.1 754.2L229.9 784.2L231.7 799.2L231.3 811.2L227.2 853.2L226.9 868.2L227.4 898.2L226.3 913.2L224.3 925.2L221.8 934.2L218.4 943.2L215 949.9L209.5 958.2L204.3 964.2L197 970.3L191 973.8L182 977L176 977.8L170 977.7L161 975.6L152 971L146 966.4L140 960.3L123.5 940.2L116 931.9L110 926.2L93.8 913.2L80 897.7Z"/><path fill="#fd9c30" fill-rule="evenodd" d="M80 736.2L213.1 736.2L215.2 748.2L224.3 784.2L225.8 793.2L226.6 802.2L226.3 817.2L223 859.2L222.8 898.2L222.1 910.2L220.3 922.2L218 931.2L215 939.3L212 945.3L207.4 952.2L203 957.4L197 962.8L191 966.5L182 969.9L176 970.7L170 970.5L161 968.2L152 963.1L146 958L140 951.9L116 924.5L101.5 910.2L94.9 901.2L90 892.2L80 866.6Z"/><path fill="#fd942a" fill-rule="evenodd" d="M80 736.2L207 736.2L218.5 781.2L220.8 793.2L221.8 802.2L221.9 820.2L219 862.2L217.5 907.2L214.8 925.2L212 934.1L209 940.4L205.3 946.2L200 952.4L194 957.4L188 960.8L179 963.5L170 963.5L161 960.9L152 955.4L143 946.9L131.8 934.2L109.6 907.2L104 898.2L100.2 889.2L96.8 877.2L94.6 865.2L92 844.6L90.6 838.2L89 833.7L86.6 829.2L83 825L80 823.1Z"/><path fill="#fc8c24" fill-rule="evenodd" d="M80 736.2L200.7 736.2L212.8 778.2L216.2 793.2L217.8 811.2L217.3 832.2L212.7 904.2L211.4 916.2L209.7 925.2L206 934.9L200.5 943.2L194 949.6L188 953.4L179 956.4L170 956.5L161 953.7L155 949.9L146 941.3L135 928.2L121.7 910.2L114.6 898.2L109.9 886.2L107.1 874.2L105.8 862.2L104.7 832.2L103.8 826.2L101.9 820.2L98 813.7L92 808.4L86 805.4L80 803.8Z"/><path fill="#fc841e" fill-rule="evenodd" d="M80 736.2L193.7 736.2L199.7 751.2L211.1 790.2L213.6 808.2L213.8 829.2L211.8 856.2L206.8 907.2L204.9 922.2L203 928.3L200 933.9L197.6 937.2L191 943.5L185 947L177.7 949.2L170 949.3L164 947.5L158 943.8L151.5 937.2L139.6 922.2L131.5 910.2L124.8 898.2L119.9 886.2L116.3 871.2L114.9 856.2L114.8 826.2L113.5 817.2L111.6 811.2L107 803.1L104 799.7L99.6 796.2L92 792.7L80 790.6Z"/><path fill="#fc7d19" fill-rule="evenodd" d="M80 736.2L185.1 736.2L191.8 748.2L194.5 754.2L197.9 766.2L204.8 784.2L207.4 793.2L210 811.2L210.3 829.2L209.4 844.2L207.7 859.2L198.2 922.2L197 925.6L194 930.4L190.4 934.2L185 938L179 940.4L173 941.1L167.7 940.2L164 938.4L158 932.3L149 920.8L141.7 910.2L134.8 898.2L128.2 883.2L124.2 868.2L122.7 853.2L122.2 820.2L120.9 811.2L119.3 805.2L116 797.7L113 793.1L110 789.6L104 785L101 783.4L95 781.7L80 779.8Z"/><path fill="#fb7716" fill-rule="evenodd" d="M80 736.2L173.1 736.2L186 754.2L200 785L203.8 796.2L206.5 811.2L207.1 829.2L205.7 847.2L203.4 862.2L191 913.3L188 921.2L185 924.8L182 926.9L179 928.2L173 928.6L170 927.6L164 923.1L158 916.4L152 908.6L146 899.7L140 889.3L134 875.5L130.5 862.2L129.3 850.2L128 814.2L125.6 799.2L122.7 790.2L119.4 784.2L117.1 781.2L113 777.4L110 775.5L104 773.3L89 771.2L80 768.8Z"/><path fill="#fb7113" fill-rule="evenodd" d="M80 736.2L150 736.2L152.5 739.2L170 752.4L176 757.9L182 765.4L194 784.6L197 790.2L200 797.7L203.1 811.2L203.8 820.2L203.9 829.2L202.3 847.2L200.7 856.2L198.2 865.2L191 884.3L185 896.7L182 901.6L179 905L176 906.8L173 907.4L170 906.9L167 905.5L164 903.5L158 898.1L152 891.1L146 882.3L143 876.8L139.3 868.2L136.8 859.2L135.5 850.2L132.1 787.2L130.3 778.2L126.6 769.2L122 763.6L116 760L110 758.1L92 755.7L80 751.4Z"/><path fill="#fa6b10" fill-rule="evenodd" d="M153.7 769.2L158 767.8L161 767.6L167 768.7L173 771.7L179 776.3L188 786.1L194 795L197.2 802.2L199.5 811.2L200.7 823.2L200.3 835.2L198.7 847.2L195.5 859.2L191 869.1L185 878.1L179 884.2L176 886.1L173 887.2L170 887.4L164 885.8L158 881.7L153.7 877.2L149 870.9L145.9 865.2L143 856.9L141.6 850.2L139.3 817.2L139.4 808.2L140.3 799.2L143 786.4L146 777.9L149 773Z"/><path fill="#f9650d" fill-rule="evenodd" d="M161.9 784.2L167 783.3L173 784.4L179 787.6L185 792.5L188.4 796.2L192.3 802.2L194.7 808.2L196.7 817.2L197.2 826.2L196.3 838.2L194 849.8L191.6 856.2L188 862.4L182 868.7L176 872.2L173 873.1L170 873.3L164 871.9L158.4 868.2L155 864.7L151.4 859.2L149 853.3L146.6 841.2L144.9 820.2L145.3 811.2L146.4 805.2L149 797.8L152 792.7L156.9 787.2Z"/><path fill="#f6600c" fill-rule="evenodd" d="M163.5 796.2L167 794.9L173 794.8L179 797.1L182 799L185.5 802.2L189.4 808.2L191.7 814.2L192.8 820.2L193.1 826.2L192.4 835.2L191 842.7L188.2 850.2L185 855.2L182 858.1L179 860.1L173 861.9L167 861.1L164 859.7L161 857.4L158 853.8L154.8 847.2L152 835.2L151.1 820.2L152.3 811.2L154.7 805.2L156.6 802.2L161 797.7Z"/><path fill="#f45a0a" fill-rule="evenodd" d="M170.2 805.2L173 805L176 805.6L179 806.9L182 809.3L185.4 814.2L187.8 823.2L187.5 832.2L184.9 841.2L182 845.9L179 848.5L176 850L173 850.4L170 849.9L167 848.4L163.1 844.2L161 840.4L159.3 835.2L158.1 826.2L158.4 820.2L161 812.3L164.3 808.2L167 806.3Z"/><path fill="#f15509" fill-rule="evenodd" d="M172 820.2L173 819.6L176 820.1L178.2 823.2L179 825.7L178.8 829.2L176 833.5L173 834L170.5 832.2L169.1 829.2L168.8 826.2L169.4 823.2Z"/></g></g>
<polygon fill="#383838" points="89,980.3 99.1,980.3 175.5,943.5 259.9,864.2 293.3,976.4 353.9,983.1 412.2,864.2 453.2,965.7 516.4,953.8 682.9,887.9 695.4,887.9 695.4,983.6 89,983.6"/>
<g fill="#2b2f36" fill-opacity="0.88"><circle cx="99.13" cy="757.24" r="2.25"/><circle cx="175.58" cy="757.24" r="2.25"/><circle cx="259.96" cy="757.24" r="2.25"/><circle cx="293.37" cy="757.24" r="2.25"/><circle cx="353.97" cy="757.24" r="2.25"/><circle cx="412.3" cy="757.24" r="2.25"/><circle cx="453.3" cy="757.24" r="2.25"/><circle cx="516.5" cy="757.24" r="2.25"/><circle cx="626.36" cy="757.24" r="2.25"/><circle cx="681.86" cy="757.24" r="2.25"/><circle cx="293.37" cy="769.17" r="2.25"/><circle cx="412.3" cy="773.15" r="2.25"/><circle cx="453.3" cy="785.09" r="2.25"/><circle cx="99.13" cy="824.88" r="2.25"/><circle cx="175.58" cy="824.88" r="2.25"/><circle cx="259.96" cy="844.77" r="2.25"/><circle cx="412.3" cy="844.77" r="2.25"/><circle cx="175.58" cy="924.35" r="2.25"/><circle cx="516.5" cy="924.35" r="2.25"/><circle cx="99.13" cy="960.16" r="2.25"/><circle cx="293.37" cy="948.22" r="2.25"/><circle cx="353.97" cy="956.18" r="2.25"/><circle cx="453.3" cy="944.24" r="2.25"/></g>
<g clip-path="url(#clipC)"><path d="M182.9 790.4C183.9 791.4 187.1 794.2 188.8 796.3C190.5 798.4 191.9 800.7 193 803.1C194.1 805.5 195 808 195.7 810.6C196.3 813.2 196.8 815.9 197 818.6C197.3 821.3 197.4 824 197.4 826.8C197.3 829.6 197.1 832.4 196.8 835.2C196.6 837.9 196.2 840.7 195.7 843.4C195.2 846.1 194.6 848.7 193.8 851.3C192.9 853.8 191.9 856.3 190.6 858.7C189.3 861 187.7 863.4 185.8 865.4C183.9 867.4 181.6 869.4 179.2 870.7C176.9 872.1 174.3 873.2 171.8 873.4C169.3 873.6 166.6 873.1 164.2 872.1C161.8 871.1 159.4 869.3 157.4 867.4C155.3 865.6 153.6 863.2 152.2 860.9C150.8 858.6 149.8 856.1 149 853.5C148.1 851 147.6 848.3 147.2 845.6C146.7 842.9 146.4 840.2 146.1 837.4C145.8 834.6 145.5 831.8 145.3 829.1C145.1 826.3 144.9 823.5 144.8 820.8C144.8 818 144.8 815.3 145 812.7C145.3 810 145.7 807.4 146.3 804.8C147 802.3 147.8 799.8 149.1 797.4C150.3 795 152.9 791.6 153.7 790.4M89.2 780.9C90.7 781.1 95.1 781.3 97.7 782.1C100.4 782.8 102.8 784 105 785.4C107.2 786.8 109.2 788.6 111 790.5C112.7 792.4 114.3 794.6 115.7 796.9C117 799.2 118.1 801.6 119.1 804.1C120 806.6 120.7 809.1 121.2 811.7C121.7 814.3 122.1 816.9 122.3 819.6C122.6 822.3 122.7 825 122.8 827.7C122.9 830.4 122.8 833.2 122.8 836C122.8 838.7 122.7 841.5 122.7 844.2C122.7 847 122.6 849.8 122.7 852.5C122.8 855.2 122.9 858 123.2 860.6C123.4 863.3 123.8 866 124.3 868.6C124.8 871.2 125.4 873.8 126.1 876.4C126.8 878.9 127.6 881.5 128.5 884C129.4 886.5 130.4 888.9 131.5 891.4C132.5 893.8 133.7 896.2 134.9 898.6C136.2 901 137.5 903.3 138.9 905.6C140.2 907.9 141.7 910.2 143.2 912.5C144.6 914.8 146.2 917 147.8 919.2C149.3 921.4 151 923.6 152.6 925.7C154.3 927.8 156 930 157.7 932.1C159.4 934.1 162 937.2 162.9 938.2M189.9 744.7C190.5 745.9 192.9 749.4 194 751.9C195 754.5 195.4 757.2 196.1 759.9C196.9 762.5 197.6 765.2 198.5 767.8C199.4 770.4 200.5 772.9 201.5 775.5C202.5 778.1 203.6 780.6 204.5 783.2C205.4 785.8 206.2 788.5 206.9 791.1C207.6 793.8 208.1 796.5 208.6 799.2C209 801.9 209.4 804.6 209.6 807.4C209.9 810.1 210.1 812.9 210.2 815.6C210.3 818.4 210.4 821.1 210.4 823.9C210.3 826.6 210.3 829.4 210.2 832.2C210.1 834.9 209.9 837.7 209.7 840.4C209.5 843.2 209.2 845.9 209 848.6C208.7 851.4 208.4 854.1 208 856.9C207.7 859.6 207.3 862.4 206.9 865.1C206.5 867.8 206.1 870.6 205.7 873.3C205.3 876.1 204.9 878.8 204.5 881.5C204 884.3 203.6 887 203.2 889.7C202.7 892.5 202.3 895.2 201.9 897.9C201.5 900.7 201.1 903.4 200.7 906.1C200.3 908.9 199.9 911.6 199.6 914.3C199.2 917.1 198.8 921.2 198.6 922.5M214.3 744.7C214.7 746.1 215.6 750.2 216.3 753C217 755.7 217.8 758.4 218.5 761.2C219.2 763.9 220 766.7 220.7 769.4C221.4 772.1 222.2 774.9 222.8 777.6C223.5 780.4 224.1 783.1 224.6 785.9C225.1 788.7 225.6 791.4 225.9 794.2C226.2 797 226.5 799.8 226.6 802.6C226.7 805.4 226.7 808.2 226.6 811C226.6 813.8 226.4 816.7 226.2 819.5C226 822.3 225.7 825.1 225.5 828C225.2 830.8 224.9 833.6 224.7 836.4C224.4 839.3 224.1 842.1 223.9 844.9C223.7 847.7 223.4 851.9 223.3 853.4M222.8 885.8L222.8 899.5M103.7 912.8C104.8 913.8 108.2 916.7 110.4 918.8C112.5 920.9 114.6 923.1 116.6 925.3C118.7 927.5 120.6 929.7 122.6 932C124.6 934.2 126.5 936.5 128.5 938.8C130.4 941.1 132.4 943.4 134.3 945.6C136.3 947.9 138.3 950.1 140.4 952.3C142.4 954.5 145.6 957.7 146.7 958.7M242.3 744.7C242.1 745.8 241.1 748.9 241.1 751C241.1 753.1 241.5 755.4 242.3 757.2C243.1 759.1 245.4 761.4 246 762.2M259.8 787.2C259.2 788.4 257.2 792.1 256 794.5C254.8 797 253.6 799.4 252.4 801.9C251.2 804.4 250.1 806.9 249.1 809.5C248 812 247 814.6 246.1 817.1C245.2 819.7 244.3 822.3 243.6 824.9C242.9 827.5 242.3 830.2 241.8 832.8C241.3 835.5 240.9 838.2 240.6 840.9C240.3 843.6 240.2 846.4 240.1 849.1C240.1 851.8 240.1 854.6 240.1 857.4C240.2 860.1 240.3 862.9 240.4 865.6C240.5 868.4 240.7 871.2 240.8 873.9C240.9 876.6 241 880.7 241.1 882.1M294.5 774.1C293.2 774.4 288.9 776.5 286.4 776.2C284 775.8 280.6 773.8 279.8 771.9C279 770.1 280 766.7 281.6 765.1C283.2 763.4 288.2 762.6 289.5 762.1M89.2 936.5C90.6 936.8 94.9 937.3 97.5 938.2C100.1 939.2 102.6 940.3 105 942C107.3 943.7 110.6 947.2 111.7 948.2M345.9 744.7C345.5 746.1 343.5 750.1 343.2 752.8C342.9 755.6 343.9 758.4 344.1 761.2C344.4 764.1 344.8 766.9 344.8 769.7C344.8 772.6 344.5 775.4 343.9 778.2C343.4 780.9 342.6 783.7 341.7 786.4C340.8 789 339.6 791.7 338.4 794.3C337.2 796.9 335.8 799.4 334.5 802C333.1 804.5 331.6 807 330.2 809.6C328.8 812.1 327.3 814.6 326 817.1C324.6 819.6 322.8 823.4 322.2 824.6M301 853.4C300 854.4 297 857.5 295.1 859.7C293.3 861.9 291.5 864.1 289.7 866.4C287.9 868.7 286.3 871 284.6 873.3C282.9 875.7 281.3 878 279.6 880.4C278 882.7 276.4 885.1 274.7 887.5C273.1 889.9 270.6 893.4 269.8 894.6M278.5 924.5C279.5 923.6 282.6 920.7 284.7 919C286.9 917.3 289.1 915.8 291.4 914.3C293.7 912.8 296.1 911.4 298.5 910.1C300.9 908.8 303.4 907.6 305.8 906.3C308.3 905.1 310.8 903.9 313.3 902.7C315.7 901.5 318.2 900.3 320.7 899C323.2 897.8 325.6 896.5 328 895.2C330.4 893.8 332.8 892.4 335.1 890.9C337.4 889.3 339.6 887.7 341.7 885.9C343.9 884.2 345.9 882.3 347.7 880.3C349.6 878.3 351.2 876.2 352.7 873.9C354.2 871.7 355.5 869.2 356.7 866.8C357.9 864.3 359 861.8 360.1 859.3C361.1 856.7 362.1 854.1 363 851.5C364 849 364.9 846.3 365.9 843.8C366.8 841.2 367.7 838.6 368.7 836C369.7 833.4 370.7 830.9 371.8 828.3C372.8 825.8 373.9 823.2 375.1 820.8C376.3 818.3 377.5 815.8 378.9 813.4C380.3 811 381.8 808.6 383.4 806.5C385.1 804.4 386.9 802.3 389 800.7C391 799 393.4 797.6 395.8 796.5C398.3 795.4 401 794.6 403.7 793.9C406.4 793.3 409.3 793 412.1 792.8C414.9 792.5 417.9 792.6 420.6 792.7C423.3 792.8 427.3 793.3 428.6 793.4M456.8 803.9C457.6 805.1 460.1 808.6 461.5 811.1C462.8 813.5 463.9 816 464.8 818.6C465.8 821.2 466.5 823.8 467 826.5C467.5 829.1 467.8 831.8 468 834.5C468.1 837.2 468.1 839.9 467.9 842.6C467.7 845.4 467.3 848.1 466.8 850.8C466.3 853.5 465.6 856.1 464.7 858.8C463.9 861.4 462.9 864 461.8 866.6C460.7 869.1 459.4 871.6 458 874C456.6 876.4 455.1 878.8 453.5 881.1C451.8 883.3 450.1 885.5 448.2 887.5C446.3 889.6 444.4 891.6 442.3 893.4C440.2 895.2 438.1 897 435.8 898.5C433.6 900.1 430 902.1 428.9 902.8M687 744.7C685.7 745.3 681.7 746.8 679 747.9C676.2 749 672.7 749.7 670.4 751.3C668.1 752.9 665.1 755.5 665.1 757.6C665.2 759.6 668.4 761.9 670.6 763.5C672.9 765.2 677.4 766.8 678.8 767.5" fill="none" stroke="#160c04" stroke-opacity="0.78" stroke-width="0.85" stroke-linejoin="round"/><g font-weight="700" font-size="14.7" text-anchor="middle" fill="#0c0c0c"><text transform="translate(167.4,785.9) scale(0.925,1) rotate(0)" y="5.2">0.6</text><text transform="translate(255.5,773) scale(0.925,1) rotate(62)" y="5.2">0.3</text><text transform="translate(296.7,764) scale(0.925,1) rotate(48)" y="5.2">0.3</text><text transform="translate(223.6,869.6) scale(0.925,1) rotate(-88)" y="5.2">0.4</text><text transform="translate(311.7,837.1) scale(0.925,1) rotate(-48)" y="5.2">0.2</text><text transform="translate(442.8,795.2) scale(0.925,1) rotate(8)" y="5.2">0.1</text><text transform="translate(692.5,773) scale(0.925,1) rotate(15)" y="5.2">0.1</text><text transform="translate(90.5,904) scale(0.925,1) rotate(35)" y="5.2">0.4</text><text transform="translate(120.5,959.5) scale(0.925,1) rotate(65)" y="5.2">0.3</text><text transform="translate(174.5,943.5) scale(0.925,1) rotate(5)" y="5.2">0.5</text></g></g>
<polygon fill="#383838" points="89,980.3 99.1,980.3 175.5,943.5 259.9,864.2 293.3,976.4 353.9,983.1 412.2,864.2 453.2,965.7 516.4,953.8 682.9,887.9 695.4,887.9 695.4,983.6 89,983.6"/>
<path d="M89 745.2H695.4V983.1H89Z" fill="none" stroke="#000" stroke-opacity="0.74" stroke-width="1.35"/>
<path d="M83.4 745.2H89M83.4 824.5H89M83.4 903.8H89M83.4 983.1H89M129.09 983.1V989M242.36 983.1V989M355.62 983.1V989M468.88 983.1V989M582.14 983.1V989M695.4 983.1V989" fill="none" stroke="#000" stroke-opacity="0.72" stroke-width="1.25"/>
<path d="M85.7 784.85H89M85.7 864.15H89M85.7 943.45H89M185.72 983.1V986.5M298.99 983.1V986.5M412.25 983.1V986.5M525.51 983.1V986.5M638.77 983.1V986.5" fill="none" stroke="#000" stroke-opacity="0.5" stroke-width="1.15"/>
<g font-weight="700" font-size="21"><text transform="translate(77.4,751.5) scale(0.925,1)" text-anchor="end">0</text><text transform="translate(77.4,830.8) scale(0.925,1)" text-anchor="end">20</text><text transform="translate(77.4,910.1) scale(0.925,1)" text-anchor="end">40</text><text transform="translate(77.4,989.4) scale(0.925,1)" text-anchor="end">60</text><text transform="translate(129.4,1011.7) scale(0.925,1)" text-anchor="middle">27°N</text><text transform="translate(242.7,1011.7) scale(0.925,1)" text-anchor="middle">28°N</text><text transform="translate(355.9,1011.7) scale(0.925,1)" text-anchor="middle">29°N</text><text transform="translate(469.2,1011.7) scale(0.925,1)" text-anchor="middle">30°N</text><text transform="translate(582.4,1011.7) scale(0.925,1)" text-anchor="middle">31°N</text><text transform="translate(695.7,1011.7) scale(0.925,1)" text-anchor="middle">32°N</text></g>
<text transform="translate(37.4,863.7) rotate(-90)" text-anchor="middle" font-size="26">Depth (m)</text>
<text x="698.9" y="731.7" text-anchor="end" font-size="25.9">TSW (%)</text>
<text x="-0.1" y="735.8" font-weight="700" font-size="29">C</text>
<rect x="711" y="745.2" width="21.4" height="237.9" fill="url(#cb)"/>
<path d="M711 745.8V745.1L714.6 744.3L721.7 741.3L728.8 744.3L732.4 745.1V745.8Z" fill="#b80000"/>
<path d="M711 982.8V983.7L714.6 984.4L721.7 987.9L728.8 984.4L732.4 983.7V982.8Z" fill="#fffffc"/>
<path d="M711 983.7V745.1M732.4 745.1V983.7" stroke="#222" stroke-opacity="0.5" stroke-width="1.2" fill="none"/>
<path d="M714.6 744.3L721.7 741.3L728.8 744.3M714.6 984.4L721.7 987.9L728.8 984.4" stroke="#222" stroke-opacity="0.5" stroke-width="1.1" fill="none" stroke-linejoin="round"/>
<path d="M710.6 745.1L714.6 744.3M732.8 745.1L728.8 744.3M710.6 983.7L714.6 984.4M732.8 983.7L728.8 984.4" stroke="#111" stroke-opacity="0.85" stroke-width="1.4" fill="none"/>
<path d="M711 935.52h4.8M732.4 935.52h-4.8M711 887.94h4.8M732.4 887.94h-4.8M711 840.36h4.8M732.4 840.36h-4.8M711 792.78h4.8M732.4 792.78h-4.8" stroke="#000" stroke-opacity="0.8" stroke-width="1.3" fill="none"/>
<g font-weight="700" font-size="20.2"><text transform="translate(737.8,989.1) scale(0.935,1)">0</text><text transform="translate(737.8,941.5) scale(0.935,1)">0.2</text><text transform="translate(737.8,893.9) scale(0.935,1)">0.4</text><text transform="translate(737.8,846.4) scale(0.935,1)">0.6</text><text transform="translate(737.8,798.8) scale(0.935,1)">0.8</text><text transform="translate(737.8,751.2) scale(0.935,1)">1</text></g>
<text transform="translate(712.4,980.8) rotate(-90)" font-weight="700" font-size="12.6" fill="#111" textLength="95.5" lengthAdjust="spacingAndGlyphs">Ocean Data View</text>
</g>
<g id="panelD">
<clipPath id="clipD"><rect x="860.1" y="69.3" width="606.3" height="237.9"/></clipPath>
<g clip-path="url(#clipD)"><g filter="url(#bl)"><rect x="831.1" y="40.3" width="664.3" height="295.9" fill="#fffff6"/><path fill="#ffffec" fill-rule="evenodd" d="M970.2 60.3L1478.1 60.3L1478.1 318.4L1381.7 318.4L1379.1 313.4L1370.6 300.4L1357.5 282.4L1344.7 267.4L1334.6 258.4L1328.1 255L1310.1 250.3L1301.1 247L1292.1 242.2L1270.5 228.3L1259.1 222.7L1247.1 218.3L1235.1 215.6L1226.1 215.6L1222.5 216.3L1217.1 218.8L1211.1 223.8L1193.1 243.4L1184.1 251.7L1172.1 260.3L1163.1 264.9L1151.1 269L1139.1 270.6L1127.1 269.8L1121.1 268.2L1115.1 265.6L1106.1 259.3L1102.2 255.4L1097.5 249.3L1090.9 237.3L1081.3 213.4L1076.9 204.3L1070.1 195.7L1061.1 187.3L1051.9 180.3L1040.1 174.2L1031.1 171.2L1004.1 164.4L992.1 159.8L981.7 153.3L977.1 149.1L974.1 145.5L971.5 141.3L969.2 135.3L968.3 126.4L969.5 117.3L977.1 89.2L978.1 81.3L976.9 75.3Z"/><path fill="#fffedd" fill-rule="evenodd" d="M979.3 60.3L1478.1 60.3L1478.1 318.4L1407.4 318.4L1405.9 315.4L1393.8 297.4L1380.1 279.4L1365.9 264.4L1355.8 255.3L1348.1 249.3L1334.1 240.7L1282.8 216.3L1265.1 209.3L1244.1 203L1235.1 201.5L1229.1 201.5L1223.1 202.6L1217.1 204.9L1208.1 210.8L1190.1 226.6L1181.1 233.5L1172.1 238.9L1163.1 242.6L1154.1 244.7L1145.1 245.1L1136.1 243.5L1130.1 241.1L1121.1 235L1115.1 228.7L1110.5 222.3L1098.1 201.3L1091.8 192.3L1070.1 166.3L1061.1 157.3L1055.1 153.1L1046.1 149L1037.1 146.4L1019.1 142.3L1007.1 138.2L998.1 132.9L992.1 127.1L987.9 120.3L985 111.3L983.9 102.3L983.6 78.3Z"/><path fill="#fffdcf" fill-rule="evenodd" d="M986.7 60.3L1478.1 60.3L1478.1 318.4L1430.1 318.4L1428.3 315.4L1398.3 276.4L1386.9 264.4L1373.1 252.3L1361.3 243.3L1349.1 235L1310.1 211.8L1295.1 203.7L1280.1 198.1L1259.1 192.9L1235.1 185.9L1229.1 185.2L1226.1 185.5L1220.1 187.3L1214.1 190.9L1190.1 211.3L1181.1 217.2L1172.1 221.7L1163.1 224.5L1154.1 225.4L1145.1 224.1L1139.1 221.6L1133.1 217.5L1127.1 211.5L1113.6 192.3L1094.1 172.7L1088.3 165.3L1076.1 147.7L1070.4 141.3L1067.1 138.5L1061.1 134.6L1052.1 130.8L1040.1 127.4L1022.1 123.4L1013.1 120.7L1004.1 116L999 111.3L994.8 105.3L991.2 96.3L989.1 84.2Z"/><path fill="#fffac1" fill-rule="evenodd" d="M994.8 60.3L1478.1 60.3L1478.1 318.4L1453.5 318.4L1430.1 292.7L1409.1 268.4L1397.1 256.4L1377.3 240.3L1331.2 207.4L1320.6 198.3L1307.1 185.1L1301.1 179.9L1295.1 176L1289.1 173.9L1283.1 173.5L1271.1 175.1L1265.1 175.2L1259.4 174.3L1256.1 173.1L1252.7 171.3L1247.1 166.9L1243.2 162.3L1235.2 150.3L1232.6 147.3L1229.1 144.5L1226.1 143.4L1223.1 143.1L1218.8 144.3L1215.2 147.3L1212.9 150.3L1207.9 159.3L1197.7 183.3L1193.1 190.5L1187.1 196.7L1179.6 201.3L1169.1 204.9L1160.1 205.9L1154.1 205.2L1151.1 204.2L1146.3 201.4L1142.1 197.4L1131.5 180.3L1127.1 175.3L1124.1 173.4L1112.1 169.4L1106.1 165.7L1103.1 163.1L1097.1 156.1L1086.4 141.3L1079.1 132.4L1073.1 126.5L1067.1 121.9L1058.1 116.5L1049.1 112.7L1037.1 109.1L1016.1 104.8L1010.1 102.8L1004.1 99.1L1001.1 96.2L998.1 91.8L995.1 84.3L993.8 75.3Z"/><path fill="#fff7b3" fill-rule="evenodd" d="M1009.6 63.3L1010.5 60.3L1478.1 60.3L1478.1 314.9L1475.1 313.1L1466.1 305.8L1448.1 290.3L1412.4 255.3L1400.1 244.1L1385.1 232L1360.4 213.4L1349.6 204.3L1337.6 192.3L1319.7 171.3L1312.5 165.4L1307.7 162.3L1301.1 159.3L1292.1 156.7L1271.1 154L1262.1 152L1253.1 148.2L1235.1 138.4L1229.1 136.5L1223.1 135.7L1214.1 137.4L1205.6 141.3L1196.9 147.3L1178.1 163.7L1172.1 167.7L1166.1 169.9L1163.1 170.2L1157.1 169.8L1151.1 168L1136.9 162.3L1118.1 155.9L1112.1 152.9L1106.1 148.5L1097.1 139.7L1074.5 114.3L1061.1 97.3L1058.1 94.1L1055.1 92.1L1046.1 91.2L1040.1 89.6L1036.3 87.3L1033.1 84.3L1031.1 81.2L1028.1 78.1L1019.1 82.1L1013.1 82.5L1010.1 81.5L1007.1 78.4L1006.4 75.3L1007.1 69.3Z"/><path fill="#fff2a5" fill-rule="evenodd" d="M1062.3 60.3L1478.1 60.3L1478.1 292.7L1475.1 291.2L1460.1 280.8L1439.1 264.5L1400.1 229.6L1361.7 198.4L1339.8 177.3L1329.5 168.3L1320.9 162.3L1309.4 156.3L1301.2 153.3L1295.1 151.8L1274.1 148.2L1265.1 146L1256.1 142.5L1241.1 135.2L1232.6 132.3L1226.1 131.3L1217.1 131.3L1208.1 133.3L1195.3 138.3L1175.1 147.9L1166.1 150.8L1160.1 151.8L1151.1 152L1139.1 150.1L1124.1 146L1115.1 142L1106.1 136.1L1097.1 128.3L1089.6 120.3L1082.7 111.3L1079.2 105.3L1076.7 99.4L1074.9 93.3L1071.9 78.3L1070.1 73L1067.1 67.4Z"/><path fill="#ffeb98" fill-rule="evenodd" d="M1075.4 60.4L1478.1 60.3L1478.1 272.2L1472.1 269.4L1457.1 260.7L1439.1 248.7L1430.1 241.2L1409.1 221.5L1397.1 211L1346 171.3L1332 162.3L1320.2 156.3L1313 153.3L1298.1 148.8L1268.1 142.4L1259.1 139.1L1238.1 130L1226.1 127.4L1217.1 127.2L1208.1 128.5L1172.1 139.7L1166.1 140.9L1157.1 141.7L1148.1 141.4L1136.1 139.5L1124.1 135.9L1115.1 131.8L1106.1 126.2L1100.1 121.4L1094.1 115.2L1089.3 108.3L1086.4 102.3L1084.4 96.3L1079.9 72.3Z"/><path fill="#ffe38b" fill-rule="evenodd" d="M1083.9 60.3L1478.1 60.3L1478.1 251.3L1457.1 242.3L1443.3 234.3L1436.5 228.3L1412.1 203.5L1406 198.3L1397.3 192.3L1377.5 180.3L1356 168.3L1337.5 159.3L1322.9 153.3L1304.3 147.3L1271.1 139.8L1262.1 136.7L1238.1 126.6L1226.1 123.9L1220.1 123.5L1211.1 124.1L1199.7 126.3L1175.1 132.5L1160.1 134L1151.1 133.5L1139.1 131.5L1127.1 128.1L1118.1 124.4L1109.1 119.4L1103.1 114.8L1099.7 111.3L1095.4 105.3L1092.7 99.3L1090.8 93.3L1086.5 69.3Z"/><path fill="#ffda7c" fill-rule="evenodd" d="M1090.6 60.3L1478.1 60.3L1478.1 224.2L1472.7 222.3L1466.1 219.1L1460.1 215.4L1454.1 210.6L1446.1 201.4L1436.1 186.1L1431.6 180.3L1427.1 176.5L1421.1 173.8L1415.1 172.6L1391.1 170.1L1376.1 166.7L1314.1 147.3L1271.1 136.8L1262.1 133.6L1241.1 124.6L1229.1 121.1L1220.1 120.2L1211.1 120.7L1178.1 127L1163.1 127.8L1154.1 127L1142.1 124.6L1130.1 121L1121.1 117.5L1115.1 114.6L1109.1 110.6L1103.8 105.3L1100.1 99.6L1097.5 93.4L1095.8 87.3Z"/><path fill="#ffd06f" fill-rule="evenodd" d="M1096.4 60.3L1478.1 60.3L1478.1 149.3L1470 141.4L1462.3 135.3L1454.1 131.3L1445.1 129.2L1436.1 129.8L1430.1 131.9L1424.1 135.7L1409.1 148.1L1400.1 153.1L1391.1 155.7L1379.1 156.6L1364.1 155.3L1346.1 152.1L1283.1 137.4L1265.1 131.9L1235.1 119.6L1226.1 117.5L1220.1 117.1L1211.1 117.5L1184.1 122.1L1175.1 123L1166.1 122.9L1154.1 121L1139.1 116.6L1124.1 110.9L1115.1 106.1L1110.6 102.3L1106 96.3L1101.9 87.3L1098.8 75.3Z"/><path fill="#fec763" fill-rule="evenodd" d="M1102.1 60.3L1478.1 60.3L1478.1 118.1L1469.1 115.2L1460.1 113.5L1448.1 113.1L1439.1 113.9L1430.1 116.4L1424.1 119.4L1418.1 123.9L1402.7 138.3L1397.1 142.1L1388.1 146L1379.1 147.9L1367.1 148.6L1352.1 147.9L1334.1 145.8L1310.1 141.3L1280.1 134L1262.1 127.9L1235.1 116.7L1226.1 114.5L1220.1 114L1212.8 114.3L1187.1 118.1L1175.1 119L1163.1 117.8L1148.1 113.4L1124.1 103.2L1118.1 99.7L1114.4 96.3L1110 90.3L1105.9 81.3L1103.6 72.3Z"/><path fill="#febf57" fill-rule="evenodd" d="M1108.2 60.3L1478.1 60.3L1478.1 102.8L1466.1 101.4L1454.1 101.7L1442.1 103.3L1433.1 105.8L1427 108.4L1418.1 113.9L1400.1 130.3L1394.1 134.6L1388.1 137.6L1379.1 140.5L1367.1 142.3L1355.1 142.9L1343.1 142.6L1328.1 141.4L1308.9 138.3L1283.9 132.3L1262.1 125.1L1235.1 113.8L1226.1 111.6L1214.1 111.2L1187.1 114.7L1178.1 115.2L1169.1 114.6L1157.1 111.6L1145.1 106.4L1125.7 96.3L1121.3 93.3L1118.4 90.3L1114.2 84.3L1110.3 75.3L1108.9 69.3Z"/><path fill="#feb64c" fill-rule="evenodd" d="M1115.1 60.3L1478.1 60.3L1478.1 91.6L1463.1 91.6L1451.1 92.7L1442.1 94.6L1433.1 97.8L1424.1 102.6L1418.1 106.7L1394.1 126.8L1388.1 130.3L1379.1 134L1367.1 136.6L1355.1 137.8L1340.1 138.2L1325.1 137.3L1307.1 134.9L1284 129.3L1262.1 122.1L1235.1 110.9L1226.1 108.7L1214.1 108.2L1190.1 111.1L1178.1 111.7L1169.1 110.8L1160.4 108.3L1153.6 105.3L1142.8 99.3L1130.1 91L1125.8 87.3L1121.1 81.5L1117.9 75.3L1116.1 69.3Z"/><path fill="#fead42" fill-rule="evenodd" d="M1123.5 60.3L1478.1 60.3L1478.1 81.3L1451.1 83.7L1442.1 85.8L1436.1 88.3L1430.1 91.6L1421.1 97.7L1400.1 115.3L1391.1 122L1385.1 125.4L1376.1 129L1367.1 131.3L1355.1 132.9L1340.1 133.6L1325.1 133.2L1304.1 130.7L1283.1 125.8L1262.1 119.1L1235.1 108L1226.1 105.7L1214.1 105L1193.1 107.5L1181.1 108.1L1172.1 107.6L1163.5 105.3L1157 102.3L1147.3 96.3L1139.6 90.3L1133.4 84.3L1129 78.3L1126.2 72.3L1124.4 66.3Z"/><path fill="#fda438" fill-rule="evenodd" d="M1133.4 60.3L1478.1 60.3L1478.1 70L1463.1 72.6L1448.1 74.3L1439.1 77.2L1433.1 80.7L1427.1 85.2L1403.1 106.5L1394.1 113.7L1388.1 117.7L1379.1 122.2L1370.1 125.3L1358.1 127.8L1346.1 128.9L1331.1 129L1307.1 127.2L1295.1 125.3L1280.1 121.9L1262.1 116.3L1238.1 106.1L1226.1 102.5L1214.1 101.6L1193.1 104L1181.1 104.4L1172.1 103.7L1166.7 102.3L1160.5 99.3L1151.6 93.3L1142.6 84.3L1137.5 75.3L1134.6 66.3Z"/><path fill="#fd9c30" fill-rule="evenodd" d="M1143.6 60.3L1455.3 60.3L1442.1 64.4L1436.1 67.2L1433.1 69.3L1400.6 102.3L1391.1 109.8L1382.1 115.2L1373.1 119.1L1361.1 122.4L1349.1 124.1L1334.1 124.7L1319.1 124.3L1304.1 123.1L1292.1 121.5L1280.1 119.1L1262.1 113.7L1235.1 101.4L1223.1 98.1L1211.1 97.7L1196.1 99.9L1187.1 100.4L1175.1 99.9L1169.1 98.6L1160 93.3L1156.4 90.3L1150.9 84.3L1148.9 81.3L1146.6 75.3Z"/><path fill="#fd942a" fill-rule="evenodd" d="M1153 60.3L1427.7 60.3L1409.9 84.3L1402.5 93.3L1394.1 101.3L1384 108.3L1371.5 114.3L1358.1 118.1L1343.1 120.1L1325.1 120.7L1298.1 119.4L1286.1 117.8L1274.1 115.2L1259.1 109.9L1232.1 95.3L1223.1 92.8L1217.1 92.4L1211.1 92.7L1196.1 95.1L1190.1 95.5L1178.1 95.1L1172.1 93.8L1166.1 90.5L1163.1 88L1157.8 81.3L1155.3 75.3Z"/><path fill="#fc8c24" fill-rule="evenodd" d="M1162.8 60.3L1415.2 60.3L1405.6 78.3L1399.9 87.3L1391.1 96.7L1385.1 101.4L1379.1 105.2L1367.1 110.5L1352.5 114.3L1337.1 116.4L1316.1 117.3L1301.1 116.9L1286.1 115.4L1274.1 113L1265.1 110.1L1259.1 107.4L1250.8 102.3L1243.2 96.3L1232.1 85.5L1229.1 84L1226.1 83.5L1220.1 83.8L1193.1 88.9L1184.1 88.9L1176.8 87.3L1171.5 84.3L1168.5 81.3L1166.5 78.3L1164.3 72.3Z"/><path fill="#fc841e" fill-rule="evenodd" d="M1175.9 60.3L1403.7 60.3L1397.3 78.3L1394.1 84.3L1391.1 88.2L1385.9 93.3L1379.1 98.5L1373.1 102.1L1361.1 106.9L1343.2 111.3L1325.1 113.7L1307.1 114.4L1292.1 113.7L1280.1 112.1L1268.1 109L1260.1 105.3L1255.5 102.3L1249.1 96.3L1244.9 90.3L1240.2 78.3L1238.1 74.4L1235.1 71.2L1232.1 69.3L1229.1 68.3L1223.1 68.1L1217.1 69.7L1205.1 75L1199.1 76.9L1193.1 78L1187.1 77.6L1182.1 75.3L1179.2 72.3L1176.7 66.3Z"/><path fill="#fc7d19" fill-rule="evenodd" d="M1241.6 60.3L1392 60.3L1389.1 75.3L1386.8 81.3L1384.7 84.3L1379.1 90L1370.1 96.6L1356.9 102.3L1337.1 108L1319.1 110.8L1304.1 111.6L1289.1 110.9L1274.1 108.5L1265.3 105.4L1259.1 101.5L1253.9 96.3L1250.5 90.3L1248.6 84.3L1245.4 69.3Z"/><path fill="#fb7716" fill-rule="evenodd" d="M1252 60.3L1380.2 60.3L1378.4 72.3L1376.3 78.3L1372 84.3L1364.1 91L1354 96.3L1347.1 99.3L1331.1 104.8L1316.1 107.7L1301.1 108.7L1286.1 108L1274.1 105.8L1265.4 102.3L1261.3 99.3L1256.6 93.4L1254.4 87.3L1253.4 81.3Z"/><path fill="#fb7113" fill-rule="evenodd" d="M1260.7 60.3L1366.2 60.3L1364.1 71.1L1360.6 78.3L1355.4 84.3L1347.8 90.3L1338 96.3L1331.8 99.3L1325.1 101.8L1313.1 104.4L1298.1 105.6L1286.1 104.9L1274.1 102.6L1268.1 99.9L1263.7 96.3L1260.1 90.3L1258.6 84.3L1258.6 75.3Z"/><path fill="#fa6b10" fill-rule="evenodd" d="M1270.1 60.3L1346.5 60.3L1345.1 69.3L1342.2 78.3L1338.8 84.3L1333.6 90.3L1330 93.3L1325.1 96.3L1319.1 98.7L1310.1 100.8L1298.1 102L1289.1 101.6L1277.3 99.3L1271.1 96.6L1267.4 93.3L1265.5 90.3L1264.4 87.3L1263.9 84.3L1263.9 78.3L1265.1 73Z"/><path fill="#f9650d" fill-rule="evenodd" d="M1279.5 60.3L1327.1 60.3L1327 66.3L1328 78.3L1326.6 84.3L1324.9 87.4L1322.3 90.3L1317.6 93.3L1310.1 96L1304.1 97.2L1295.1 97.7L1289.1 97.1L1283.1 95.7L1277.1 93.2L1273.3 90.3L1271.2 87.3L1270.1 81.3L1270.5 78.3L1271.7 75.3L1277.1 67.5Z"/><path fill="#f6600c" fill-rule="evenodd" d="M1288.3 60.3L1314.7 60.3L1317.1 69.3L1317.9 78.3L1317.3 81.3L1315.9 84.3L1313.2 87.3L1307.1 90.7L1298.1 92.3L1289.1 91.1L1286.1 89.8L1282.4 87.3L1280.1 84.3L1279.4 81.3L1279.8 78.3Z"/><path fill="#f45a0a" fill-rule="evenodd" d="M1297 66.3L1301.1 65.9L1304.1 67.6L1307 72.3L1307.4 75.3L1306.8 78.3L1304.8 81.3L1301.1 83.6L1298.1 84.1L1295.1 83.7L1292.1 82.1L1290.1 78.3L1290.1 75.3L1292.1 70.3L1295.1 67.2Z"/></g></g>
<polygon fill="#383838" points="860.1,305.7 870.2,305.7 946.6,264.4 1031.5,174.4 1064.4,283.5 1125,307.2 1183.3,193.9 1224.3,296.9 1287.5,287.8 1371.8,307.2 1452.2,218 1466.4,218 1466.4,307.8 860.1,307.8"/>
<g fill="#2b2f36" fill-opacity="0.88"><circle cx="870.23" cy="81.39" r="2.25"/><circle cx="946.67" cy="81.39" r="2.25"/><circle cx="1031.6" cy="81.39" r="2.25"/><circle cx="1064.44" cy="81.39" r="2.25"/><circle cx="1125.02" cy="81.39" r="2.25"/><circle cx="1183.34" cy="81.39" r="2.25"/><circle cx="1224.34" cy="81.39" r="2.25"/><circle cx="1287.53" cy="81.39" r="2.25"/><circle cx="1371.89" cy="81.39" r="2.25"/><circle cx="1452.29" cy="81.39" r="2.25"/><circle cx="1183.34" cy="89.34" r="2.25"/><circle cx="1287.53" cy="89.34" r="2.25"/><circle cx="1125.02" cy="113.22" r="2.25"/><circle cx="1452.29" cy="117.2" r="2.25"/><circle cx="1031.6" cy="133.11" r="2.25"/><circle cx="1224.34" cy="149.03" r="2.25"/><circle cx="1064.44" cy="160.96" r="2.25"/><circle cx="1031.6" cy="164.94" r="2.25"/><circle cx="946.67" cy="168.92" r="2.25"/><circle cx="1125.02" cy="176.88" r="2.25"/><circle cx="1183.34" cy="180.86" r="2.25"/><circle cx="1287.53" cy="188.82" r="2.25"/><circle cx="1452.29" cy="208.71" r="2.25"/><circle cx="1064.44" cy="272.37" r="2.25"/><circle cx="1125.02" cy="304.2" r="2.25"/><circle cx="1224.34" cy="288.29" r="2.25"/><circle cx="1287.53" cy="280.33" r="2.25"/><circle cx="1371.89" cy="300.22" r="2.25"/></g>
<g clip-path="url(#clipD)"><path d="M993.6 69.2C993.6 70.6 993.1 74.5 993.4 77.3C993.7 80 994.3 83 995.2 85.7C996.1 88.4 997.3 91.2 998.8 93.4C1000.3 95.7 1002.1 97.8 1004.1 99.4C1006.1 101 1008.4 102.2 1010.9 103.2C1013.3 104.2 1016 104.9 1018.7 105.5C1021.3 106.1 1024.2 106.5 1027 107.1C1029.8 107.6 1032.6 108.1 1035.3 108.7C1038.1 109.3 1040.8 110 1043.5 110.8C1046.2 111.6 1048.8 112.5 1051.3 113.5C1053.9 114.5 1056.4 115.6 1058.8 116.9C1061.2 118.1 1063.6 119.4 1065.8 120.9C1068.1 122.4 1070.3 123.9 1072.3 125.7C1074.4 127.4 1076.4 129.2 1078.2 131.2C1080.1 133.2 1081.9 135.3 1083.6 137.5C1085.4 139.7 1087 142 1088.6 144.3C1090.3 146.5 1091.9 148.9 1093.5 151.2C1095.1 153.4 1096.7 155.7 1098.4 157.9C1100.2 160 1101.9 162.1 1103.8 163.9C1105.8 165.7 1107.8 167.4 1110.1 168.6C1112.4 169.9 1115.1 170.5 1117.7 171.4C1120.4 172.2 1123.6 172.2 1125.8 173.6C1128 175 1129.5 177.4 1131.1 179.7C1132.7 181.9 1133.9 184.5 1135.3 186.9C1136.7 189.3 1138 191.9 1139.5 194.1C1141 196.4 1142.6 198.7 1144.6 200.4C1146.6 202.2 1150.5 204.1 1151.6 204.8M1186.4 197.8C1187.4 196.8 1190.7 194 1192.4 191.8C1194.2 189.7 1195.6 187.5 1196.9 185.1C1198.2 182.8 1199.3 180.4 1200.4 177.9C1201.5 175.4 1202.4 172.9 1203.3 170.4C1204.3 167.8 1205.2 165.2 1206.3 162.7C1207.4 160.2 1208.5 157.6 1209.8 155.1C1211.2 152.7 1212.6 150 1214.4 147.9C1216.1 145.8 1218.1 143.5 1220.3 142.7C1222.4 141.8 1225.1 141.8 1227.4 142.8C1229.7 143.7 1232 146.1 1233.8 148.2C1235.7 150.3 1237 153 1238.5 155.3C1240 157.6 1241.2 160 1242.8 162.2C1244.5 164.3 1246.3 166.6 1248.3 168.4C1250.4 170.3 1252.6 171.9 1255 173.1C1257.3 174.3 1259.9 175.1 1262.5 175.5C1265.1 175.9 1267.9 175.8 1270.7 175.6C1273.5 175.3 1276.5 174.2 1279.3 173.9C1282.1 173.6 1284.8 173.3 1287.4 173.6C1289.9 173.9 1292.3 174.8 1294.6 175.9C1297 177 1299.1 178.5 1301.3 180.1C1303.4 181.7 1305.4 183.6 1307.5 185.5C1309.5 187.4 1311.5 189.5 1313.5 191.5C1315.5 193.5 1317.5 195.5 1319.5 197.4C1321.6 199.3 1323.6 201.1 1325.7 202.9C1327.8 204.7 1329.9 206.4 1332 208C1334.2 209.7 1336.3 211.3 1338.5 212.9C1340.7 214.5 1342.8 216.1 1345 217.7C1347.2 219.2 1349.4 220.7 1351.7 222.3C1353.9 223.8 1356.1 225.4 1358.4 226.9C1360.6 228.5 1362.9 230 1365.1 231.6C1367.3 233.2 1369.6 234.7 1371.8 236.3C1374 237.9 1376.2 239.6 1378.4 241.2C1380.6 242.8 1382.8 244.5 1385 246.2C1387.1 247.9 1389.3 249.6 1391.4 251.4C1393.4 253.1 1395.5 254.9 1397.5 256.7C1399.5 258.6 1401.5 260.4 1403.5 262.4C1405.4 264.3 1408.2 267.3 1409.1 268.2M1086.7 69.2C1086.9 70.5 1087.6 74.4 1088 77.1C1088.4 79.7 1088.8 82.6 1089.2 85.3C1089.7 88 1090.2 90.8 1090.9 93.5C1091.6 96.1 1092.3 98.8 1093.3 101.2C1094.4 103.7 1095.6 106 1097.1 108.2C1098.5 110.3 1100.3 112.3 1102.2 114.1C1104.1 115.9 1106.2 117.6 1108.4 119.1C1110.7 120.6 1113.1 122 1115.5 123.2C1118 124.5 1120.6 125.6 1123.2 126.6C1125.8 127.6 1128.4 128.5 1131 129.3C1133.7 130.2 1136.3 130.9 1139 131.5C1141.6 132.1 1144.3 132.6 1147 133C1149.6 133.4 1152.3 133.6 1155 133.8C1157.7 133.9 1160.4 133.9 1163 133.8C1165.7 133.7 1168.4 133.5 1171.1 133.1C1173.8 132.7 1176.4 132.2 1179.1 131.6C1181.8 131 1184.5 130.3 1187.1 129.6C1189.8 128.9 1192.5 128.1 1195.1 127.4C1197.8 126.7 1200.4 126 1203.1 125.4C1205.8 124.8 1208.4 124.3 1211.1 123.9C1213.7 123.6 1216.4 123.4 1219 123.4C1221.7 123.4 1224.4 123.5 1227 123.9C1229.6 124.2 1232.2 124.7 1234.8 125.4C1237.4 126.1 1240 127 1242.5 127.9C1245.1 128.9 1247.5 130.1 1250 131.2C1252.5 132.3 1255 133.5 1257.5 134.6C1260 135.7 1262.5 136.7 1265 137.6C1267.6 138.5 1270.2 139.3 1272.8 140C1275.4 140.7 1278 141.3 1280.6 141.9C1283.3 142.5 1286 143 1288.6 143.5C1291.3 144.1 1293.9 144.6 1296.6 145.2C1299.2 145.8 1301.9 146.5 1304.5 147.2C1307.1 147.9 1309.7 148.7 1312.3 149.5C1314.9 150.3 1317.5 151.2 1320 152.1C1322.5 153 1325.1 154 1327.6 155C1330.1 156 1332.6 157.1 1335.1 158.2C1337.6 159.2 1340 160.4 1342.5 161.5C1344.9 162.7 1347.4 163.9 1349.8 165.1C1352.2 166.3 1354.6 167.6 1357 168.9C1359.4 170.1 1361.8 171.4 1364.2 172.8C1366.5 174.1 1368.9 175.4 1371.3 176.8C1373.6 178.1 1376 179.5 1378.3 180.9C1380.6 182.3 1383 183.7 1385.3 185.1C1387.6 186.5 1389.9 187.9 1392.2 189.3C1394.5 190.7 1398 192.9 1399.1 193.6M1424.1 216.1C1425.5 217.5 1430 222 1432.8 224.8C1435.6 227.6 1439.5 231.5 1440.8 232.8M1108.7 69.2L1109.2 72.5M1124.2 95.7C1125.3 96.3 1128.9 98 1131.2 99.2C1133.6 100.4 1136 101.7 1138.4 102.9C1140.9 104.2 1143.3 105.5 1145.8 106.7C1148.3 107.9 1150.8 109 1153.3 110.1C1155.9 111.1 1158.4 112 1161 112.8C1163.6 113.6 1166.2 114.2 1168.8 114.6C1171.4 115 1174 115.2 1176.7 115.2C1179.3 115.3 1182 115.1 1184.7 114.9C1187.4 114.7 1190.1 114.3 1192.8 114C1195.5 113.6 1198.2 113.2 1200.9 112.8C1203.6 112.4 1206.3 112 1209 111.7C1211.7 111.4 1214.4 111.1 1217 111.1C1219.7 111 1222.4 111 1225 111.3C1227.6 111.6 1230.1 112.1 1232.7 112.9C1235.2 113.7 1237.7 114.8 1240.2 115.9C1242.7 116.9 1245.2 118.1 1247.7 119.2C1250.1 120.3 1252.6 121.4 1255.1 122.4C1257.6 123.4 1260.1 124.4 1262.7 125.4C1265.2 126.3 1267.7 127.2 1270.2 128.1C1272.8 129 1275.3 129.9 1277.9 130.7C1280.4 131.5 1283 132.2 1285.6 133C1288.1 133.7 1290.7 134.4 1293.3 135.1C1295.9 135.8 1298.6 136.4 1301.2 137C1303.8 137.6 1306.5 138.1 1309.1 138.6C1311.8 139.1 1314.4 139.6 1317.1 140C1319.8 140.4 1322.5 140.8 1325.1 141.2C1327.8 141.5 1330.5 141.8 1333.2 142C1335.9 142.3 1338.6 142.5 1341.3 142.6C1344 142.7 1346.7 142.8 1349.4 142.9C1352.2 142.9 1354.9 142.9 1357.6 142.8C1360.3 142.7 1363 142.6 1365.7 142.4C1368.4 142.2 1371.1 141.9 1373.7 141.5C1376.3 141.1 1378.9 140.6 1381.5 139.8C1384 139.1 1386.5 138.3 1388.9 137.3C1391.2 136.2 1393.6 135 1395.8 133.5C1398 132 1400 130.2 1402.1 128.4C1404.2 126.6 1406.1 124.6 1408.1 122.7C1410.1 120.7 1412.1 118.7 1414.1 116.9C1416.2 115.1 1418.3 113.4 1420.6 111.9C1422.8 110.4 1425.1 109.1 1427.5 107.9C1429.9 106.8 1432.4 105.8 1435 105C1437.5 104.2 1440.2 103.6 1442.8 103.1C1445.5 102.6 1448.2 102.2 1450.9 101.9C1453.6 101.6 1456.3 101.5 1459 101.3C1461.7 101.2 1465.7 101.2 1467 101.2M1145.7 69.2C1146 70.8 1146.3 75.8 1147.5 78.8C1148.6 81.7 1150.6 84.4 1152.7 86.9C1154.7 89.3 1157.4 91.5 1160 93.5C1162.6 95.5 1166.8 97.8 1168.1 98.7M1198.1 100C1199.5 99.7 1203.5 98.7 1206.1 98.3C1208.8 98 1211.5 97.7 1214.2 97.7C1216.9 97.7 1219.6 97.9 1222.2 98.2C1224.8 98.6 1227.4 99.2 1230 99.9C1232.6 100.6 1235.1 101.6 1237.6 102.6C1240.1 103.6 1242.6 104.8 1245.1 105.9C1247.5 107 1250 108.3 1252.5 109.4C1255 110.5 1257.4 111.7 1260 112.7C1262.5 113.7 1265 114.6 1267.5 115.4C1270.1 116.3 1272.6 117 1275.2 117.7C1277.8 118.4 1280.4 119 1283 119.6C1285.6 120.2 1288.2 120.7 1290.8 121.1C1293.4 121.5 1296.1 121.9 1298.7 122.3C1301.4 122.6 1304.1 122.9 1306.7 123.2C1309.4 123.4 1312.1 123.6 1314.8 123.8C1317.5 124 1320.2 124.2 1323 124.3C1325.7 124.4 1328.4 124.5 1331.2 124.6C1333.9 124.6 1336.6 124.6 1339.4 124.6C1342.1 124.5 1344.8 124.4 1347.5 124.2C1350.2 124 1352.9 123.7 1355.6 123.4C1358.2 123 1360.9 122.5 1363.5 121.9C1366.1 121.3 1368.6 120.6 1371.1 119.8C1373.7 119 1376.2 118 1378.6 116.9C1381 115.8 1383.4 114.6 1385.7 113.3C1388 111.9 1390.3 110.5 1392.5 108.9C1394.7 107.4 1396.8 105.7 1398.8 104C1400.9 102.2 1402.9 100.4 1404.8 98.5C1406.8 96.7 1408.7 94.7 1410.5 92.7C1412.4 90.8 1414.3 88.8 1416.1 86.8C1418 84.8 1419.8 82.7 1421.6 80.7C1423.5 78.8 1425.3 76.8 1427.2 74.9C1429 72.9 1431.9 70.2 1432.8 69.2M1245.6 69.2C1245.9 70.5 1247 74.3 1247.5 77C1248.1 79.6 1248.2 82.6 1248.9 85.3C1249.6 88 1250.5 90.8 1251.7 93.2C1253 95.6 1254.6 97.8 1256.5 99.6C1258.3 101.5 1260.4 103 1262.7 104.3C1264.9 105.6 1267.4 106.6 1269.9 107.5C1272.5 108.4 1275.2 109 1278 109.6C1280.7 110.1 1283.6 110.5 1286.4 110.8C1289.2 111.1 1292 111.3 1294.8 111.5C1297.6 111.6 1300.3 111.7 1303.1 111.7C1305.8 111.7 1308.6 111.6 1311.3 111.5C1314 111.4 1316.7 111.2 1319.4 110.9C1322.1 110.6 1324.8 110.3 1327.4 109.9C1330.1 109.5 1332.8 109 1335.4 108.4C1338.1 107.9 1340.7 107.3 1343.3 106.6C1345.9 105.9 1348.5 105.2 1351.1 104.4C1353.7 103.5 1356.3 102.7 1358.9 101.7C1361.5 100.8 1365.4 99.2 1366.7 98.7M1389.1 77.5L1389.9 69.2M1276.8 69.2C1275.8 70.4 1272 73.4 1270.9 75.9C1269.7 78.4 1269.3 81.6 1269.8 84.2C1270.3 86.8 1271.8 89.6 1273.8 91.5C1275.8 93.3 1280.4 94.8 1281.8 95.5M1314.2 95C1315.5 94.4 1319.6 93.1 1321.6 91.4C1323.7 89.8 1325.3 87.5 1326.4 85.1C1327.4 82.7 1328.1 79.9 1328.1 77.3C1328.2 74.6 1326.9 70.6 1326.7 69.2" fill="none" stroke="#160c04" stroke-opacity="0.78" stroke-width="0.85" stroke-linejoin="round"/><g font-weight="700" font-size="14.7" text-anchor="middle" fill="#0c0c0c"><text transform="translate(1111.2,85.7) scale(0.925,1) rotate(60)" y="5.2">0.3</text><text transform="translate(1182.3,100.7) scale(0.925,1) rotate(3)" y="5.2">0.4</text><text transform="translate(1168.4,207) scale(0.925,1) rotate(0)" y="5.2">0.1</text><text transform="translate(1298,98) scale(0.925,1) rotate(0)" y="5.2">0.6</text><text transform="translate(1379.9,90.5) scale(0.925,1) rotate(-30)" y="5.2">0.5</text><text transform="translate(1412.3,205.3) scale(0.925,1) rotate(38)" y="5.2">0.2</text></g></g>
<polygon fill="#383838" points="860.1,305.7 870.2,305.7 946.6,264.4 1031.5,174.4 1064.4,283.5 1125,307.2 1183.3,193.9 1224.3,296.9 1287.5,287.8 1371.8,307.2 1452.2,218 1466.4,218 1466.4,307.8 860.1,307.8"/>
<path d="M860.1 69.3H1466.4V307.2H860.1Z" fill="none" stroke="#000" stroke-opacity="0.74" stroke-width="1.35"/>
<path d="M854.5 69.35H860.1M854.5 148.65H860.1M854.5 227.95H860.1M854.5 307.25H860.1M900.19 307.2V313.1M1013.43 307.2V313.1M1126.67 307.2V313.1M1239.92 307.2V313.1M1353.16 307.2V313.1M1466.4 307.2V313.1" fill="none" stroke="#000" stroke-opacity="0.72" stroke-width="1.25"/>
<path d="M856.8 109H860.1M856.8 188.3H860.1M856.8 267.6H860.1M956.81 307.2V310.6M1070.05 307.2V310.6M1183.29 307.2V310.6M1296.54 307.2V310.6M1409.78 307.2V310.6" fill="none" stroke="#000" stroke-opacity="0.5" stroke-width="1.15"/>
<g font-weight="700" font-size="21"><text transform="translate(848.5,75.6) scale(0.925,1)" text-anchor="end">0</text><text transform="translate(848.5,155) scale(0.925,1)" text-anchor="end">20</text><text transform="translate(848.5,234.3) scale(0.925,1)" text-anchor="end">40</text><text transform="translate(848.5,313.6) scale(0.925,1)" text-anchor="end">60</text><text transform="translate(900.5,335.9) scale(0.925,1)" text-anchor="middle">27°N</text><text transform="translate(1013.7,335.9) scale(0.925,1)" text-anchor="middle">28°N</text><text transform="translate(1127,335.9) scale(0.925,1)" text-anchor="middle">29°N</text><text transform="translate(1240.2,335.9) scale(0.925,1)" text-anchor="middle">30°N</text><text transform="translate(1353.5,335.9) scale(0.925,1)" text-anchor="middle">31°N</text><text transform="translate(1466.7,335.9) scale(0.925,1)" text-anchor="middle">32°N</text></g>
<text transform="translate(808.5,187.8) rotate(-90)" text-anchor="middle" font-size="26">Depth (m)</text>
<text x="1469.9" y="55.8" text-anchor="end" font-size="25.9">CDW (%)</text>
<text x="777.9" y="73.4" font-weight="700" font-size="29">D</text>
<rect x="1482" y="69.3" width="21.4" height="237.9" fill="url(#cb)"/>
<path d="M1482 69.9V69.2L1485.6 68.4L1492.7 65.4L1499.8 68.4L1503.4 69.2V69.9Z" fill="#b80000"/>
<path d="M1482 306.9V307.9L1485.6 308.6L1492.7 312.1L1499.8 308.6L1503.4 307.9V306.9Z" fill="#fffffc"/>
<path d="M1482 307.9V69.2M1503.4 69.2V307.9" stroke="#222" stroke-opacity="0.5" stroke-width="1.2" fill="none"/>
<path d="M1485.6 68.4L1492.7 65.4L1499.8 68.4M1485.6 308.6L1492.7 312.1L1499.8 308.6" stroke="#222" stroke-opacity="0.5" stroke-width="1.1" fill="none" stroke-linejoin="round"/>
<path d="M1481.6 69.2L1485.6 68.4M1503.8 69.2L1499.8 68.4M1481.6 307.9L1485.6 308.6M1503.8 307.9L1499.8 308.6" stroke="#111" stroke-opacity="0.85" stroke-width="1.4" fill="none"/>
<path d="M1482 259.67h4.8M1503.4 259.67h-4.8M1482 212.09h4.8M1503.4 212.09h-4.8M1482 164.51h4.8M1503.4 164.51h-4.8M1482 116.93h4.8M1503.4 116.93h-4.8" stroke="#000" stroke-opacity="0.8" stroke-width="1.3" fill="none"/>
<g font-weight="700" font-size="20.2"><text transform="translate(1508.8,313.2) scale(0.935,1)">0</text><text transform="translate(1508.8,265.7) scale(0.935,1)">0.2</text><text transform="translate(1508.8,218.1) scale(0.935,1)">0.4</text><text transform="translate(1508.8,170.5) scale(0.935,1)">0.6</text><text transform="translate(1508.8,122.9) scale(0.935,1)">0.8</text><text transform="translate(1508.8,75.3) scale(0.935,1)">1</text></g>
<text transform="translate(1483.4,304.9) rotate(-90)" font-weight="700" font-size="12.6" fill="#111" textLength="95.5" lengthAdjust="spacingAndGlyphs">Ocean Data View</text>
</g>
<g id="panelE">
<clipPath id="clipE"><rect x="860.4" y="406.7" width="607.8" height="238.4"/></clipPath>
<g clip-path="url(#clipE)"><g filter="url(#bl)"><rect x="831.4" y="377.7" width="665.8" height="296.4" fill="#fffff6"/><path fill="#ffffec" fill-rule="evenodd" d="M1332.8 400.7L1336.9 397.7L1478.4 397.7L1478.4 655.7L851.4 655.7L851.4 427.9L872.4 424.5L893.4 424.4L908.4 423.4L950.4 417.3L962.4 417.9L974.4 419.5L1001.4 424.6L1049.4 418.2L1058.4 417.7L1082.4 418.4L1115.4 421.8L1124.4 421.4L1139.4 419.6L1148.4 419.2L1157.4 420.3L1175.4 423.9L1187.4 424.7L1217.4 422.8L1226.4 421.6L1244.4 417.9L1250.4 417.3L1256.4 418.1L1277.4 422.4L1286.4 423.3L1292.4 423.2L1301.4 421.8L1308.7 418.7L1313.4 415.5L1324.1 406.7Z"/><path fill="#fffedd" fill-rule="evenodd" d="M1351.2 400.7L1359.1 397.7L1478.4 397.7L1478.4 655.7L851.4 655.7L851.4 436L875.4 432.3L915 427.7L944.4 423.2L956.4 422.3L974.4 423.2L1001.4 427L1052.4 424.1L1073.4 423.5L1088.4 424.4L1109.4 428.1L1118.4 428.9L1148.4 426.1L1157.4 426.8L1178.4 429.9L1190.4 430.1L1217.4 428.3L1247.4 425.1L1256.4 425.6L1280.4 429L1295.4 429.4L1304.4 428.2L1313.4 425L1319.4 421.1L1334.4 408.5L1340.4 405Z"/><path fill="#fffdcf" fill-rule="evenodd" d="M1384.5 400.7L1394.4 397.7L1478.4 397.7L1478.4 655.7L851.4 655.7L851.4 442.6L860.4 441.7L881.4 437.4L917.4 431.8L947.4 427.8L962.4 426.9L980.4 427.2L1001.4 429.1L1037.4 430L1049.4 429.9L1073.4 428.7L1082.4 428.9L1091.4 430L1112.4 434.9L1121.4 435.8L1127.4 435.4L1148.4 432.5L1157.4 432.7L1175.4 434.3L1187.4 434.7L1244.4 431L1256.4 431.4L1286.4 434.4L1301.4 434.2L1313.4 431.8L1322.4 427.9L1327 424.7L1337.4 415.3L1346.4 410.6Z"/><path fill="#fffac1" fill-rule="evenodd" d="M1417.8 403.7L1433.4 403.7L1460.4 405L1478.4 403.9L1478.4 655.7L851.4 655.7L851.4 448L860.4 447L887.4 440.8L920.4 435.3L950.4 432L975.7 430.7L989.4 430.7L1007.4 431.7L1034.4 434.5L1043.4 435L1073.4 433.3L1082.4 433.5L1091.4 434.9L1112.4 440.9L1121.4 442.2L1130.4 441.8L1145.4 439L1154.4 438L1190.4 438.4L1238.4 435.6L1253.4 435.9L1286.4 438.5L1301.4 438.4L1314.1 436.7L1324.2 433.7L1331.4 430.1L1343.4 420.8L1349.4 418.5L1370.4 413.7L1397.4 406L1406.4 404.5Z"/><path fill="#fff7b3" fill-rule="evenodd" d="M1405.8 412.7L1415.4 411.5L1427.4 410.8L1460.4 411.9L1478.4 410.8L1478.4 655.7L851.4 655.7L851.4 452.7L860.4 451.3L893.4 443.5L920.4 438.9L944.4 436.5L992.4 433.8L1004.4 434.4L1028.4 438.5L1040.4 439.7L1049.4 439.5L1070.4 437.7L1082.4 437.9L1091.4 439.5L1112.4 446.2L1124.4 447.9L1133.4 447.3L1151.4 443.4L1160.4 442.2L1193.4 441.4L1229.4 439.6L1250.4 439.6L1289.4 442.1L1304.4 441.7L1319.4 439.7L1328.4 437.4L1338.5 433.7L1349.4 428.7L1373.4 422.7L1397.4 414.6Z"/><path fill="#fff2a5" fill-rule="evenodd" d="M1421 418.7L1433.4 417.8L1460.4 418.2L1478.4 417.4L1478.4 655.7L851.4 655.7L851.4 457L860.4 455.3L893.4 447L920.4 442.2L938.4 440.4L974.4 439.3L995.4 437.6L1004.4 438.3L1025.4 443L1037.4 444.3L1046.4 444.1L1067.4 441.9L1082.4 442L1091.4 443.8L1112.4 450.8L1118.4 452L1124.4 452.5L1135.3 451.7L1157.4 446.4L1169.4 445L1235.4 442.8L1250.4 443.1L1286.4 445.1L1304.4 444.7L1325.4 442.3L1367.4 433.2L1379.4 430.2L1403.4 422.1L1412.4 420Z"/><path fill="#ffeb98" fill-rule="evenodd" d="M1435.1 424.7L1478.4 423.9L1478.4 655.7L851.4 655.7L851.4 461.3L884.4 452.5L905.4 447.9L926.4 444.7L944.4 443.5L980.4 444L998.4 443.4L1004.4 444.2L1022.4 448.2L1034.4 449.4L1043.4 449L1064.4 446L1079.4 445.7L1088.4 447.1L1112.4 454.9L1124.4 456.2L1136.4 455L1157.4 449.6L1172.4 447.6L1229.4 445.9L1286.4 447.7L1310.4 447L1328.4 445.4L1371.3 439.7L1384.8 436.7L1415.4 427.5L1424.4 425.8Z"/><path fill="#ffe38b" fill-rule="evenodd" d="M1464.5 430.7L1478.4 430.7L1478.4 655.7L851.4 655.7L851.4 465.6L878.4 457.6L899.4 452.3L920.4 448.7L938.4 446.9L953.4 446.7L965.4 447.4L1010.4 454.1L1025.4 455.3L1040.4 454.5L1061.4 450.2L1070.4 449.6L1079.4 449.7L1088.4 451.2L1109.4 457.9L1118.4 459.2L1124.4 459.2L1136.4 457.8L1163.4 451.2L1175.4 450L1226.4 448.9L1274.4 450L1295.4 450L1325.7 448.7L1364.4 446.2L1376.4 444.8L1388.3 442.7L1415.4 435.3L1427.4 432.7L1439.4 431.4Z"/><path fill="#ffda7c" fill-rule="evenodd" d="M1430.4 439.7L1445.4 438.4L1478.4 438L1478.4 655.7L851.4 655.7L851.4 470.1L880.2 460.7L899.4 455.7L922.1 451.7L941.4 449.9L956.4 450L968.4 451.5L980.6 454.7L1001.4 462L1010.4 463.6L1019.4 463.6L1028.4 462.7L1040.4 460.3L1058.4 455.1L1073.4 453.7L1085.4 454.6L1109.4 461.2L1121.4 462.1L1133.8 460.7L1163.4 453.6L1175.4 452.3L1217.4 451.8L1274.4 452.4L1355.4 451L1373.4 450.2L1394.4 447.5Z"/><path fill="#ffd06f" fill-rule="evenodd" d="M1475 445.7L1478.4 445.6L1478.4 655.7L851.4 655.7L851.4 474.9L873.7 466.7L893.2 460.7L908.4 457.3L932.4 453.8L944.4 452.9L953.4 452.9L962.4 453.9L971.4 456.2L981.8 460.7L1001.4 471.7L1007.4 473.6L1016.4 474.2L1028.4 471.7L1058.4 460.3L1070.4 458.3L1082.4 458.5L1106.4 463.8L1118.4 464.9L1130.4 463.6L1160.4 456.5L1175.4 454.6L1253.4 455.2L1313.4 453.6L1358.4 454.7L1376.4 454.6L1397.4 452.8L1424.4 448L1436.4 446.5L1448.4 445.9Z"/><path fill="#fec763" fill-rule="evenodd" d="M1428.4 454.7L1445.4 453.3L1478.4 452.9L1478.4 655.7L851.4 655.7L851.4 480.3L881.4 468.3L902.4 462.1L923.4 458.4L944.4 456.1L956.4 456.3L965.4 458.2L971.7 460.7L977.2 463.7L985.1 469.7L995.4 478.9L1001.4 483L1007.4 485.5L1010.4 486.2L1016.4 486.6L1022.4 485.6L1028.4 483.5L1034.4 480.3L1051.1 469.7L1057.2 466.7L1064.4 464.3L1073.4 463L1082.4 463.1L1106.4 466.9L1118.4 467.4L1130.4 465.9L1160.4 458.8L1175.4 456.9L1187.4 456.8L1241.4 458.4L1289.4 455.8L1310.4 455.5L1328.4 456.2L1364.4 458.6L1382.4 459.1L1400.4 458.3Z"/><path fill="#febf57" fill-rule="evenodd" d="M1284.8 457.7L1301.4 457.1L1316.4 457.5L1331.4 458.6L1373.4 463.3L1394.4 464.3L1412.4 463.5L1451.4 459.9L1478.4 459.5L1478.4 655.7L851.4 655.7L851.4 486.7L863.4 480.6L887.4 470.7L905.4 465.3L935.4 460.4L947.4 459.4L956.4 459.8L965.4 462.4L974.4 467.7L979.9 472.7L992.4 487.4L1001.4 495.2L1010.4 499.6L1013.4 500.4L1019.4 500.9L1028.4 499L1034.4 496L1040.4 491.3L1052.6 478.7L1056.1 475.7L1060.8 472.7L1064.4 471.2L1073.4 468.9L1082.4 468.3L1109.4 470L1121.4 469.6L1133.4 467.6L1160.4 461.2L1175.4 459.4L1187.4 459.4L1217.4 462.1L1232.4 462.5L1247.4 461.5Z"/><path fill="#feb64c" fill-rule="evenodd" d="M1272.1 460.7L1295.4 458.7L1316.4 459.3L1334.4 461.3L1379.4 468.6L1403.4 470.6L1427.4 469.6L1460.4 465.1L1466.4 464.9L1478.4 465.6L1478.4 655.7L851.4 655.7L851.4 494.7L863.4 487.3L880.6 478.7L895.3 472.7L911.4 468.3L926.4 465.5L939.7 463.7L950.4 463.3L956.4 464L964 466.7L968.8 469.7L972.2 472.7L977.5 478.7L992.4 498.9L1001.4 508L1010.4 514L1016.4 516L1022.4 516.5L1031.4 514.8L1040.4 510.1L1045.9 505.7L1049.4 502L1059.9 487.7L1065.4 481.7L1070.4 478.3L1079.4 475.1L1091.4 473.4L1115.4 472.5L1124.4 471.6L1157.4 464.2L1172.4 462.1L1181.4 461.9L1190.4 462.5L1199.4 463.9L1217.4 468.2L1223.4 468.8L1232.4 468Z"/><path fill="#fead42" fill-rule="evenodd" d="M1286.6 460.7L1304.4 460.2L1325.4 462.1L1343.4 465.4L1385.4 474.9L1397.4 476.8L1409.4 477.9L1424.4 478L1436.4 476.9L1463.4 470.6L1469.4 470.8L1478.4 472.2L1478.4 655.7L851.4 655.7L851.4 505.1L871.6 490.7L882 484.7L894.3 478.7L901.8 475.7L911.4 472.8L929.4 469.2L938.4 468.2L947.4 467.8L953.4 468.5L957.7 469.7L962.4 472L965.4 474.2L971.4 480.4L976.6 487.7L992.4 512.9L998.4 520.6L1001.4 523.6L1005.6 526.7L1010.4 528.9L1013.5 529.7L1019.4 530.1L1025.4 529.5L1034.4 527L1040.4 524.2L1046 520.7L1052.4 515.5L1058.4 509.5L1072.7 490.7L1076.4 486.8L1083.7 481.7L1094.4 477.8L1103.4 476.1L1130.4 473.1L1163.4 465.9L1178.4 464.6L1190.4 465.6L1199.4 467.9L1203.8 469.7L1209.1 472.7L1217.4 478.8L1220.4 480L1223.4 480.4L1226.4 479.8L1229.4 478.5L1239.2 472.7L1245.7 469.7L1254.3 466.7L1268.4 463.3Z"/><path fill="#fda438" fill-rule="evenodd" d="M1276.1 463.7L1286.4 462.3L1298.4 461.8L1310.4 462.2L1323 463.7L1343.4 468.2L1391.4 482.4L1403.4 484.9L1415.4 486.5L1427.4 487L1439.4 486.3L1448.4 484.4L1460.4 480.2L1466.4 479L1478.4 480.6L1478.4 655.7L851.4 655.7L851.4 519L878 496.7L891.2 487.7L902.5 481.7L910 478.7L917.4 476.5L932.4 473.6L941.4 473.1L947.4 473.5L956.4 476.1L960.6 478.7L964 481.7L971.1 490.7L977.6 502.7L987.1 523.7L992.4 532.8L995.4 536.3L998.4 538.9L1001.4 540.4L1004.4 541.3L1010.4 541.7L1019.4 540.7L1031.4 537.8L1040.4 534.2L1048.2 529.7L1056.1 523.7L1064.4 515.6L1070.4 508.4L1081 493.7L1086.8 487.7L1094.4 482.7L1103.4 479.4L1112.4 477.6L1133.4 475.1L1163.4 468.6L1172.4 467.6L1181.4 467.5L1190.4 468.7L1199.4 471.9L1205.4 475.9L1217.4 487.1L1220.4 488.6L1223.4 489.3L1226.4 489.2L1229.4 488.3L1232.4 486.5L1244.7 475.7L1250.4 472L1255.1 469.7L1263.4 466.7Z"/><path fill="#fd9c30" fill-rule="evenodd" d="M1289.6 463.7L1307.7 463.7L1319.4 465.1L1328.4 466.9L1347.9 472.7L1394.4 490.4L1409.4 494.6L1421.4 496.8L1436.4 498.2L1448.4 498L1454.4 496.9L1466.4 492.8L1472.4 492.1L1478.4 492.4L1478.4 655.7L851.4 655.7L851.4 538.4L890.3 499.7L901.6 490.7L912.4 484.7L920.4 481.7L926.4 480.4L932.4 479.5L938.4 479.4L944.4 480.2L950.4 481.9L955.6 484.7L959.3 487.7L964.3 493.7L969.1 502.7L972.2 511.7L977.6 532.7L981.1 541.7L984.8 547.7L987.4 550.7L991.4 553.7L995.4 554.5L1004.4 553L1033.5 544.7L1041.1 541.7L1051.6 535.7L1061.4 528L1068.6 520.7L1073.5 514.7L1085.9 496.7L1091.1 490.7L1099.3 484.7L1106.4 481.7L1115.4 479.7L1133.4 477.7L1166.4 470.9L1175.4 470.1L1184.4 470.5L1193.4 472.6L1199.4 475.6L1205.4 480.4L1214.4 490.2L1217.4 492.7L1220.4 494.4L1223.4 495.3L1226.4 495.5L1232.4 493.8L1235.4 491.7L1248.1 478.7L1256.4 472.6L1262.5 469.7L1271.6 466.7Z"/><path fill="#fd942a" fill-rule="evenodd" d="M1281.2 466.7L1292.4 465.4L1304.4 465.4L1316.5 466.7L1329.8 469.7L1339.1 472.7L1353.7 478.7L1385.4 494.2L1400.4 500.9L1415.4 506.6L1427.4 509.9L1436.4 511.2L1445.4 511.1L1469.4 507L1478.4 506.9L1478.4 655.7L851.4 655.7L851.4 578.4L860.4 562.7L866.3 553.7L898.5 508.7L903.6 502.7L910.2 496.7L914.4 493.7L920.1 490.7L929.4 488.1L938.4 488.3L944.4 490L947.4 491.4L950.8 493.7L953.9 496.7L956.4 500L959.2 505.7L960.8 511.7L961.6 517.7L961.6 529.7L959.2 553.7L959.5 556.7L960.6 559.7L963.4 562.7L968.4 564.7L975.4 565.7L986.4 565.7L992.4 564.9L998.4 563.4L1034.4 550.6L1046.4 545.5L1055.4 540.1L1064.8 532.7L1073.2 523.7L1079.4 515L1089.2 499.7L1093.9 493.7L1101 487.7L1109.4 483.8L1115.4 482.3L1136.4 479.8L1166.4 473.5L1175.4 472.6L1184.4 473L1193.4 475.4L1199.3 478.7L1205.4 484.2L1214.4 494.8L1217.4 497.5L1220.4 499.4L1223.4 500.6L1226.4 500.9L1232.4 499.6L1236.8 496.7L1241.4 492.4L1250.7 481.7L1253.8 478.7L1259.4 474.6L1269.8 469.7Z"/><path fill="#fc8c24" fill-rule="evenodd" d="M1278.6 469.7L1292.4 467.5L1304.4 467.5L1319.9 469.7L1334.4 474L1351.5 481.7L1412.4 517.1L1421.4 521.9L1430.4 525.5L1436.4 526.9L1442.4 527L1463.4 522.4L1469.4 522.5L1478.4 524.2L1478.4 655.7L851.4 655.7L851.4 647.4L866.4 645.3L878.4 642.5L890.4 638.2L902.4 631.9L911.4 624.7L932.4 602.7L938.4 597.9L947.4 592.3L974.4 579.5L995.4 571.7L1019.4 561.5L1043.4 552.4L1057.6 544.7L1067.4 537.1L1076.4 527.4L1082.4 518.5L1091.8 502.7L1096.2 496.7L1102.5 490.7L1109.4 486.9L1117.9 484.7L1139.4 481.9L1168.5 475.7L1178.4 474.9L1184.4 475.4L1193.4 478.1L1199.4 481.8L1205.3 487.7L1214.4 499.5L1217.4 502.4L1220.4 504.4L1223.4 505.6L1229.4 505.8L1235.4 503.6L1238.4 501.4L1244.4 495.2L1253 484.7L1259.5 478.7L1268.4 473.3ZM924.1 508.7L929.4 506.3L932.4 506.2L935.4 507.2L937.4 508.7L939.3 511.7L940 514.7L939.9 517.7L938.4 523L935.4 527.5L932.4 530.3L929.4 532L926.4 533L923.4 533.1L920.4 532.2L917.9 529.7L916.8 526.7L916.6 523.7L917.4 518.7L919.1 514.7L921.1 511.7Z"/><path fill="#fc841e" fill-rule="evenodd" d="M1296.9 469.7L1310.4 470.5L1322.4 473L1337.4 478.5L1349.2 484.7L1363 493.7L1396.7 517.7L1445.6 556.7L1451.4 560.6L1457.4 563.1L1463.4 563.8L1469.4 563.3L1478.4 561.2L1478.4 655.7L887.7 655.7L902.4 647.2L911.9 640.7L920.4 633.6L938.4 616.2L947.4 608.2L955.9 601.7L969.4 592.7L985 583.7L1015 568.7L1051 553.7L1058.4 549.5L1065.5 544.7L1073.4 537.8L1079.4 530.9L1085.4 521.6L1094.2 505.7L1098.2 499.7L1103.4 494.1L1109.4 490.2L1117.4 487.7L1142.4 484.1L1169.4 478.1L1178.4 477.3L1184.4 477.8L1193.4 480.7L1199.4 484.7L1204.8 490.7L1214.4 504.5L1217.4 507.4L1223.4 510.5L1229.4 511L1235.4 509.4L1241.4 505L1256.4 486.7L1261.6 481.7L1265.6 478.7L1271.4 475.4L1280.4 472.1L1289.4 470.3Z"/><path fill="#fc7d19" fill-rule="evenodd" d="M1291.8 472.7L1304.4 472.5L1316.4 474.3L1328.4 478L1340.4 483.7L1349.4 489.3L1359.4 496.7L1392.2 523.7L1405.6 535.7L1433.8 562.7L1442.4 570.1L1448.4 573.4L1457.4 576.2L1466.4 577.3L1478.4 577.1L1478.4 655.7L910.3 655.7L926.4 641.8L955.6 613.7L966.5 604.7L980.4 594.5L995.4 584.9L1013.3 574.7L1028.4 567.4L1046.4 560.3L1054.2 556.7L1064.4 550.7L1070.4 546.2L1078.5 538.7L1083.3 532.7L1088.4 524.5L1097.4 507.4L1102.7 499.7L1106.4 496L1112.4 492.4L1118.4 490.6L1145.4 486.6L1169.4 480.7L1178.4 479.9L1184.4 480.4L1189.4 481.7L1193.4 483.5L1199.4 488L1204 493.7L1211.4 505.8L1214.4 509.6L1217.4 512.3L1223.4 515.4L1226.4 516.1L1232.4 516.1L1238.4 514.1L1244.4 509.2L1258.3 490.7L1262.4 486.3L1267.9 481.7L1272.6 478.7L1279.1 475.7L1286.4 473.6Z"/><path fill="#fb7716" fill-rule="evenodd" d="M1290.4 475.7L1301.4 474.9L1313.4 476.4L1325.4 480L1337.4 485.8L1348.9 493.7L1359.6 502.7L1392.2 532.7L1428.8 568.7L1439.4 577.6L1448.4 582.3L1457.4 585.1L1466.4 586.8L1478.4 587.7L1478.4 655.7L925.2 655.7L964 616.7L977.7 604.7L993.3 592.7L1006.8 583.7L1019.4 576.2L1031.4 570.3L1056.8 559.7L1067 553.7L1074.9 547.7L1082.4 540.4L1088.2 532.7L1103.4 504.7L1107.7 499.7L1112.4 496.3L1121.4 493.4L1148.4 489.7L1165.3 484.7L1172.4 483.2L1178.4 482.6L1184.4 483.2L1190.4 485.1L1194.9 487.7L1198.3 490.7L1202.4 496L1211.4 511L1217.4 517.2L1223.4 520.4L1226.4 521.3L1232.4 521.7L1237.5 520.7L1241.4 519L1246.8 514.7L1251.6 508.7L1261.6 493.7L1266.9 487.7L1270.2 484.7L1274.4 481.7L1280.1 478.7Z"/><path fill="#fb7113" fill-rule="evenodd" d="M1289.1 478.7L1298.4 477.5L1310.4 478.5L1322.4 481.9L1334.4 487.8L1343.4 494L1356.8 505.7L1421.4 570.3L1433.4 581.2L1442.4 587L1454.4 591.9L1466.4 595L1478.4 596.6L1478.4 655.7L937.4 655.7L939.7 652.7L973.9 616.7L987 604.7L1001.9 592.7L1014.9 583.7L1028.4 575.8L1037.4 571.5L1055.4 564.4L1064.4 559.8L1073.4 553.9L1079.4 549.1L1086.6 541.7L1091.4 535.3L1096.4 526.7L1103.8 511.7L1107.6 505.7L1110.2 502.7L1115.4 499.1L1124.4 496.6L1142.4 495.3L1148.4 494.4L1172.4 486.5L1178.4 485.9L1184.4 486.5L1190.4 488.7L1196.4 493.2L1201.3 499.7L1211.4 516.2L1217.4 522.3L1220.4 524.3L1226.4 526.5L1229.4 527L1235.4 526.9L1238.4 526.2L1244.1 523.7L1250.4 518.2L1256.4 510L1264.7 496.7L1272.2 487.7L1280.4 481.9Z"/><path fill="#fa6b10" fill-rule="evenodd" d="M1288.1 481.7L1292.4 480.6L1298.4 479.9L1304.4 480.1L1310.4 481L1322.4 484.8L1333.4 490.7L1341.7 496.7L1351.7 505.7L1409.4 566L1424.4 581L1430.4 586.2L1439.4 592.2L1451.4 597.8L1463.4 601.7L1478.4 604.7L1478.4 655.7L948.1 655.7L950.1 652.7L965.9 634.7L982.6 616.7L995.1 604.7L1009.4 592.7L1022.1 583.7L1032.4 577.7L1043.4 572.6L1058.4 566.8L1066.8 562.7L1076.3 556.7L1083.7 550.7L1089.7 544.7L1096.4 535.7L1101.4 526.7L1107.2 514.7L1110.8 508.7L1113.5 505.7L1117.9 502.7L1121.4 501.5L1127.4 500.6L1142.4 501.2L1148.4 500.6L1154.4 498.8L1166.4 492.8L1172.4 490.5L1178.4 489.7L1184.4 490.4L1190.4 493.2L1196.4 498.4L1199.7 502.7L1211.4 521.8L1217.4 527.9L1220.4 529.8L1226.4 531.8L1235.4 532.1L1241.4 530.5L1244.4 529L1250.4 524.3L1256.4 516.8L1266.6 499.7L1273.6 490.7L1280.4 485.2Z"/><path fill="#f9650d" fill-rule="evenodd" d="M1287 484.7L1295.4 482.6L1301.4 482.3L1307.4 482.9L1319.4 486.3L1331.4 492.6L1340.8 499.7L1350.4 508.7L1406.4 570L1421.4 585.4L1427.4 590.7L1439.4 598.6L1451.4 604.4L1466.4 609.6L1478.4 612.4L1478.4 655.7L957.7 655.7L959.6 652.7L972 637.7L990.4 616.7L1002.3 604.7L1016.2 592.7L1028.4 584L1037.4 578.9L1046.4 574.8L1062.5 568.7L1073.4 563.3L1082.4 557.4L1088.4 552.6L1096 544.7L1100.4 538.7L1105.7 529.7L1113.3 514.7L1115.4 511.5L1118.4 508.7L1121.4 507.1L1127.4 506.1L1142.4 508.5L1148.4 508.1L1151.4 507.3L1157.4 504.5L1166.4 498.5L1172.4 495.3L1178.4 494.1L1181.4 494.3L1187.4 496.3L1193.4 500.6L1196.4 503.6L1200.1 508.7L1210.4 526.7L1215.9 532.7L1220.4 535.5L1223.4 536.5L1229.4 537.5L1235.4 537.1L1241.4 535.4L1244.4 533.9L1250.4 529.5L1256.4 522.3L1271.9 496.7L1277.3 490.7L1280.4 488.2Z"/><path fill="#f6600c" fill-rule="evenodd" d="M1297.6 484.7L1307.4 485.2L1313.4 486.7L1319.4 488.9L1331.4 495.7L1340.2 502.7L1357.6 520.7L1406.4 576.9L1418.7 589.7L1427.4 597.1L1439.4 604.8L1451.4 610.9L1466.4 616.7L1478.4 619.9L1478.4 655.7L966.5 655.7L972.9 646.7L992.2 622.7L1003 610.7L1015.4 598.7L1026.5 589.7L1037.4 582.6L1047.3 577.7L1073.4 567.7L1083 562.7L1091.8 556.7L1098.7 550.7L1104 544.7L1110.1 535.7L1118.4 521L1121.4 517.4L1124.4 515.6L1127.4 514.8L1130.4 514.9L1142.4 516.4L1148.4 515.6L1154.4 513.3L1157.4 511.5L1172.4 500.7L1178.4 498.9L1184.4 499.7L1190.4 502.9L1196.4 508.6L1200.2 514.7L1208.4 531.2L1211.4 535.2L1214.4 538L1217.4 540.1L1223.4 542.3L1226.4 542.8L1232.4 542.6L1238.4 541.2L1244.4 538.5L1250.4 534.1L1253.4 531L1259.4 522.7L1270.4 502.7L1277.4 493.7L1281 490.7L1286.4 487.5L1292.4 485.5Z"/><path fill="#f45a0a" fill-rule="evenodd" d="M1293 487.7L1301.4 486.9L1310.4 488.2L1316.4 490.1L1322.4 492.9L1331.4 498.7L1340.4 506.3L1351.2 517.7L1369.1 538.7L1400.4 577L1409.4 587.1L1418.4 596.1L1430.4 605.3L1445.4 614.3L1463.4 622.6L1478.4 627.4L1478.4 655.7L974.8 655.7L976.5 652.7L987.5 637.7L1004.1 616.7L1018.3 601.7L1031.4 590.6L1040.4 584.6L1048 580.7L1082 568.7L1088.8 565.7L1097.4 561L1103.7 556.7L1110.7 550.7L1124.4 534.2L1127.4 531.5L1133.4 528.5L1145.4 525.6L1151.4 523.1L1157.4 519.3L1169.5 508.7L1173.7 505.7L1178.4 503.9L1181.4 503.7L1187.4 505.4L1190.4 507.3L1193.4 510.2L1196.6 514.7L1205.4 535L1210.3 541.7L1214.4 545.2L1220 547.7L1223.4 548.4L1229.4 548.4L1235.4 547.2L1241.4 544.8L1247.4 541.1L1250.4 538.7L1255.8 532.7L1259.4 527.5L1271 505.7L1277.4 496.7L1283.4 491.7L1289.4 488.7Z"/><path fill="#f15509" fill-rule="evenodd" d="M1290.8 490.7L1295.4 489.6L1301.4 489.2L1310.9 490.7L1316.4 492.7L1322.4 495.7L1328.7 499.7L1334.4 504.3L1342.1 511.7L1352.7 523.7L1367.4 541.7L1397.4 580.5L1406.4 590.9L1414.1 598.7L1427.4 609.2L1445.4 620.7L1463.4 629.6L1478.4 634.9L1478.4 655.7L982.7 655.7L984.3 652.7L996.7 634.7L1010.5 616.7L1021.2 604.7L1034.5 592.7L1043.3 586.7L1052.4 582.1L1061.4 579.1L1088.4 572.3L1097.4 569.6L1114.9 562.7L1124.4 557.7L1134.6 550.7L1148.4 539.1L1157.4 530.5L1171.1 514.7L1174.3 511.7L1178.4 509.2L1181.4 508.5L1184.4 508.8L1189.6 511.7L1192.3 514.7L1195.5 520.7L1201.3 538.7L1204.7 544.7L1208.4 548.8L1211.4 551L1217.4 553.7L1223.4 554.5L1229.4 554L1235.4 552.4L1241.4 549.7L1247.4 545.9L1253.4 540.3L1261 529.7L1271.6 508.7L1277.4 499.7L1283.4 494.3Z"/><path fill="#ee4f07" fill-rule="evenodd" d="M1289.4 493.7L1298.4 491.7L1304.4 491.9L1310.4 493.2L1319.4 496.9L1325.4 500.7L1331.9 505.7L1341 514.7L1353.6 529.7L1367.6 547.7L1391.4 580.5L1404.3 595.7L1418.4 608.4L1430.4 617.5L1442.4 625.6L1460.4 635.4L1472.4 640.6L1478.4 642.6L1478.4 655.7L990.3 655.7L991.8 652.7L1003.5 634.7L1016.5 616.7L1029.9 601.7L1040.4 592.7L1049.4 586.9L1058.4 583.3L1070.4 580.5L1096.1 577.7L1111.5 574.7L1123.1 571.7L1132.1 568.7L1144.8 562.7L1153.1 556.7L1158.9 550.7L1163.4 543.9L1171.7 526.7L1175.2 520.7L1178.4 517L1181.4 515L1184.4 514.8L1187.4 516.6L1190.3 520.7L1192 526.7L1194.7 541.7L1197.5 547.7L1202.4 553.5L1208.4 557.5L1214.4 559.6L1220.4 560.3L1229.4 559.4L1235.4 557.5L1241.4 554.7L1247.4 550.8L1253.4 545.3L1258.6 538.7L1262.4 532.5L1273.9 508.7L1277.4 503L1283.4 497Z"/><path fill="#eb4906" fill-rule="evenodd" d="M1288.9 496.7L1292.4 495.5L1298.4 494.5L1307.4 495.3L1312 496.7L1318.3 499.7L1327 505.7L1336.5 514.7L1349.1 529.7L1364.4 550.2L1387.5 583.7L1394.7 592.7L1400.4 598.7L1409.4 606.9L1424.4 619.3L1442.4 632.5L1460.4 642.8L1472.4 648.3L1478.4 650.4L1478.4 655.7L997.7 655.7L1000.8 649.7L1012 631.7L1020.2 619.7L1027.3 610.7L1035.6 601.7L1042.4 595.7L1049.4 590.8L1055.4 587.8L1064.4 585.3L1073.4 584.1L1094.4 584.9L1103.4 584.5L1130.4 578.2L1142.5 574.7L1151.4 571.2L1161.9 565.7L1175.4 557L1178.4 555.6L1181.4 555L1184.4 555.3L1187.4 556.4L1202.4 563.2L1208.4 564.9L1214.4 565.8L1223.4 565.6L1229.4 564.5L1235.4 562.6L1241.4 559.8L1250.4 553.5L1256.4 547.1L1263.7 535.7L1277.4 507L1280.4 502.9L1283.4 500Z"/><path fill="#e84304" fill-rule="evenodd" d="M1289.3 499.7L1292.4 498.6L1298.4 497.7L1307.4 498.8L1316.1 502.7L1325.4 509.6L1334.4 518.4L1346.4 533.2L1358.9 550.7L1380.6 583.7L1387.4 592.7L1392.8 598.7L1424.4 626.1L1436.4 635.6L1448.4 643.8L1469.3 655.7L1005 655.7L1007.9 649.7L1018.4 631.7L1026.2 619.7L1033.1 610.7L1040.4 602.7L1046.4 597.4L1052.4 593.3L1058.4 590.5L1064.4 589L1073.4 588.4L1079.4 588.9L1094.4 591.6L1103.4 591.7L1151.4 580.9L1172.4 573.3L1181.4 570.8L1190.4 570.3L1208.4 571.5L1220.4 571.1L1232.4 568.7L1241.4 565.1L1250.4 559.1L1255.9 553.7L1259.4 549.2L1265.4 538.9L1274.7 517.7L1279.3 508.7L1283.4 503.7Z"/><path fill="#e53d03" fill-rule="evenodd" d="M1291.7 502.7L1298.4 501.7L1304.4 502.5L1307.4 503.7L1315.3 508.7L1325.4 517.4L1334.4 527.2L1343.4 538.8L1352.4 551.9L1372.6 583.7L1384.3 598.7L1391.4 605.5L1406.2 616.7L1430.4 638.8L1453.5 655.7L1012.4 655.7L1015.1 649.7L1024.8 631.7L1036.7 613.7L1041.6 607.7L1047.6 601.7L1052.4 598L1058.4 594.8L1064.4 593.1L1070.4 592.6L1076.4 593.3L1097.4 597.8L1106.4 597.5L1130.4 592.4L1154.4 589.1L1178.4 582.1L1187.4 580.1L1214.4 577.2L1226.4 575.2L1235.4 572.8L1244.4 569L1253.4 562.6L1261.1 553.7L1267.7 541.7L1277.4 518.4L1280.4 512.6L1283.4 508.3L1286.1 505.7Z"/><path fill="#e13602" fill-rule="evenodd" d="M1290 508.7L1295.4 507.2L1298.4 507.3L1302.6 508.7L1306.4 511.7L1311.2 517.7L1322.4 527.2L1330.3 535.7L1337.4 544.8L1362.3 583.7L1373.9 598.7L1379.7 604.7L1385.4 609.5L1400.4 619.2L1403.4 621.7L1421.4 639.5L1440.3 655.7L1019.9 655.7L1029.9 634.7L1040.8 616.7L1045.5 610.7L1051.3 604.7L1055.4 601.5L1061.4 598.5L1067.4 597.4L1070.4 597.4L1091.4 601.7L1103.4 602.7L1112.4 602.3L1136.4 599.2L1154.4 598.3L1163.4 596.3L1190.4 588.1L1232.4 579.2L1241.4 576.2L1247.4 573.4L1253.4 569.5L1257.8 565.7L1264.9 556.7L1269.5 547.7L1280.4 520.1L1283.4 514.8L1286 511.7Z"/><path fill="#dc2f01" fill-rule="evenodd" d="M1289.1 517.7L1292.4 516.1L1295.4 516.1L1298.4 517.5L1314.5 535.7L1323.7 547.7L1331.4 559.1L1346.9 586.7L1354.5 595.7L1372.3 610.7L1381.2 616.7L1397.4 626.2L1428.1 655.7L1027.7 655.7L1035.5 637.7L1043.7 622.7L1052.4 611.3L1056.4 607.7L1061.4 604.7L1064.4 603.7L1070.4 603.1L1088.4 605.8L1103.4 606.9L1121.4 609.6L1151.4 608.6L1163.4 606L1201.7 592.7L1214.4 589.1L1238.4 583.5L1250.4 578.8L1256.4 575.1L1260.6 571.7L1265.4 566.8L1268.4 562.7L1273.2 553.7L1280.4 532.2L1283.4 525.2L1286.4 520.4Z"/><path fill="#d72701" fill-rule="evenodd" d="M1290.6 538.7L1292.4 537.1L1295.6 538.7L1298.2 544.7L1299.1 556.7L1300.7 559.7L1310.4 567.2L1317.7 574.7L1323.3 583.7L1329.8 598.7L1334.4 604.2L1340.4 608.6L1346.4 612L1382.4 628.6L1391.4 633.6L1400.4 640.7L1413.2 652.7L1415.7 655.7L1036.3 655.7L1043.4 638.2L1050 625.7L1057 616.7L1061.4 613.1L1064.4 611.5L1067.4 610.5L1073.4 610L1100.4 610.9L1106.9 613.7L1115.4 621.2L1118.4 623.1L1124.4 624.9L1130.4 625L1136.4 624.1L1157.4 618.8L1169.4 614.4L1205.5 598.7L1220.4 594.2L1244.4 589L1253.4 585.7L1259.4 582.5L1269.8 574.7L1275.9 568.7L1280.8 562.7L1284.7 556.7L1289.4 540.3Z"/><path fill="#d22000" fill-rule="evenodd" d="M1279.4 583.7L1286.4 581.5L1292.4 581.4L1298.4 582.8L1304.4 585.8L1309.3 589.7L1313.4 594.3L1328.4 618.2L1334.4 624.5L1337.4 626.5L1343.4 629.3L1370.4 637.3L1382.4 642.1L1394.4 649.5L1401.2 655.7L1046.2 655.7L1052.4 640L1058.4 629.3L1064.4 622.8L1070.4 619.6L1076.4 618.4L1085.4 618L1094.4 618.2L1097.4 619.1L1100.4 621.9L1106.4 632.9L1112.4 639.2L1115.4 641.1L1121.4 643.1L1124.4 643.3L1130.4 642.6L1142.4 638.8L1160.4 630.7L1175.4 623.2L1203.7 607.7L1211.4 604.2L1223.4 600.7L1247.4 597.2L1256.4 595.1L1262.4 592.7Z"/><path fill="#cd1900" fill-rule="evenodd" d="M1285.9 598.7L1292.4 598.5L1298.4 599.8L1304.4 603.2L1307.4 606.2L1310.5 610.7L1313 616.7L1314.2 622.7L1315 631.7L1316.4 634.7L1319.3 637.7L1322.4 639.8L1328.4 642.7L1334.4 644.8L1364.4 651.1L1370.2 652.7L1376.7 655.7L1139.3 655.7L1154.4 648.5L1166.4 642L1206.6 616.7L1217.4 611.2L1226.4 609.1L1253.4 608.2L1262.4 607.3L1268.4 605.5L1277.4 600.9ZM1075 634.7L1079.4 633.4L1082.4 633.5L1086.3 634.7L1091.4 638.8L1100.4 648.4L1111 655.7L1059.7 655.7L1062.2 649.7L1067.4 641L1070.4 637.7Z"/><path fill="#c71200" fill-rule="evenodd" d="M1275.3 619.7L1280.4 618.7L1286.4 618.4L1289.4 619L1292.4 620.7L1295.4 624.4L1300.2 637.7L1303.6 643.7L1309.3 649.7L1317.3 655.7L1170.9 655.7L1174.7 652.7L1205.4 632.9L1214.4 627.9L1220.4 625.6L1232.4 623.7L1262.4 622Z"/><path fill="#c10a00" fill-rule="evenodd" d="M1229.3 643.7L1250.4 641.1L1259.4 640.7L1268.4 641.3L1274.4 642.8L1280.4 646L1286.4 650.8L1291 655.7L1200.1 655.7L1204.3 652.7L1214.4 647.9L1220.4 645.8Z"/></g></g>
<polygon fill="#383838" points="860.4,643.5 870.5,643.5 947.1,602.2 1032.3,512 1065.2,621.3 1125.9,645.1 1184.4,531.5 1225.5,634.8 1288.8,625.6 1373.4,645.1 1454,555.7 1468.2,555.7 1468.2,645.6 860.4,645.6"/>
<g fill="#2b2f36" fill-opacity="0.88"><circle cx="870.55" cy="418.76" r="2.25"/><circle cx="947.18" cy="418.76" r="2.25"/><circle cx="1032.32" cy="418.76" r="2.25"/><circle cx="1065.24" cy="418.76" r="2.25"/><circle cx="1125.98" cy="418.76" r="2.25"/><circle cx="1184.44" cy="418.76" r="2.25"/><circle cx="1225.54" cy="418.76" r="2.25"/><circle cx="1288.88" cy="418.76" r="2.25"/><circle cx="1373.46" cy="418.76" r="2.25"/><circle cx="1454.06" cy="418.76" r="2.25"/><circle cx="1184.44" cy="426.74" r="2.25"/><circle cx="1288.88" cy="426.74" r="2.25"/><circle cx="1125.98" cy="450.66" r="2.25"/><circle cx="1454.06" cy="454.65" r="2.25"/><circle cx="1032.32" cy="470.6" r="2.25"/><circle cx="1225.54" cy="486.54" r="2.25"/><circle cx="1065.24" cy="498.51" r="2.25"/><circle cx="1032.32" cy="502.49" r="2.25"/><circle cx="947.18" cy="506.48" r="2.25"/><circle cx="1125.98" cy="514.46" r="2.25"/><circle cx="1184.44" cy="518.44" r="2.25"/><circle cx="1288.88" cy="526.42" r="2.25"/><circle cx="1454.06" cy="546.35" r="2.25"/><circle cx="1065.24" cy="610.15" r="2.25"/><circle cx="1125.98" cy="642.05" r="2.25"/><circle cx="1225.54" cy="626.1" r="2.25"/><circle cx="1288.88" cy="618.12" r="2.25"/><circle cx="1373.46" cy="638.06" r="2.25"/></g>
<g clip-path="url(#clipE)"><path d="M860.7 447.2C862 446.9 865.9 445.8 868.5 445.2C871.1 444.6 873.7 444 876.3 443.4C878.9 442.8 881.5 442.2 884.1 441.7C886.8 441.1 889.4 440.6 892 440.1C894.6 439.6 897.2 439.1 899.9 438.6C902.5 438.2 905.1 437.7 907.8 437.3C910.4 436.9 913 436.5 915.7 436.1C918.3 435.7 921 435.3 923.6 435C926.3 434.6 928.9 434.3 931.6 434C934.2 433.7 936.9 433.4 939.5 433.1C942.2 432.8 944.9 432.6 947.5 432.4C950.2 432.1 952.8 431.9 955.5 431.7C958.2 431.5 960.8 431.3 963.5 431.2C966.2 431 968.8 430.9 971.5 430.8C974.2 430.7 976.8 430.6 979.5 430.5C982.2 430.5 984.8 430.5 987.5 430.5C990.2 430.5 992.8 430.6 995.5 430.7C998.2 430.8 1000.8 431 1003.5 431.1C1006.1 431.3 1008.8 431.6 1011.4 431.8C1014.1 432.1 1016.7 432.5 1019.4 432.8C1022 433.1 1024.7 433.5 1027.3 433.8C1030 434.1 1032.7 434.4 1035.3 434.6C1038 434.9 1040.6 435.1 1043.3 435.1C1046 435.2 1048.7 435.1 1051.3 435C1054 434.9 1056.7 434.6 1059.4 434.4C1062.1 434.2 1064.8 433.9 1067.5 433.7C1070.2 433.5 1072.8 433.3 1075.5 433.3C1078.2 433.3 1080.8 433.4 1083.4 433.6C1086.1 433.9 1088.7 434.3 1091.3 434.9C1093.9 435.4 1096.4 436.2 1099 437C1101.5 437.8 1104.1 438.8 1106.7 439.5C1109.2 440.2 1111.8 441 1114.4 441.5C1117 441.9 1119.6 442.3 1122.2 442.4C1124.8 442.4 1127.5 442.2 1130.1 441.9C1132.7 441.6 1135.3 440.9 1138 440.4C1140.6 439.9 1143.2 439.3 1145.9 438.9C1148.5 438.5 1151.2 438.2 1153.8 438C1156.5 437.9 1159.1 437.9 1161.8 438C1164.5 438 1167.2 438.1 1169.8 438.3C1172.5 438.4 1175.2 438.5 1177.8 438.6C1180.5 438.7 1183.2 438.7 1185.9 438.7C1188.5 438.7 1191.2 438.6 1193.9 438.5C1196.5 438.4 1199.2 438.2 1201.8 438.1C1204.5 437.9 1207.2 437.7 1209.8 437.5C1212.5 437.3 1215.2 437.1 1217.8 436.9C1220.5 436.7 1223.2 436.5 1225.9 436.3C1228.5 436.2 1231.2 436 1233.9 435.9C1236.5 435.8 1239.2 435.7 1241.9 435.7C1244.5 435.7 1247.2 435.7 1249.8 435.8C1252.5 435.9 1255.2 436.1 1257.8 436.3C1260.5 436.5 1263.1 436.8 1265.8 437C1268.5 437.3 1271.1 437.5 1273.8 437.8C1276.4 438 1279.1 438.2 1281.7 438.4C1284.4 438.6 1287.1 438.7 1289.7 438.8C1292.4 438.8 1295.1 438.9 1297.7 438.8C1300.4 438.7 1303.1 438.5 1305.8 438.2C1308.4 437.9 1311.1 437.5 1313.8 437C1316.4 436.4 1319.1 435.7 1321.6 434.9C1324.1 434 1326.6 433 1328.9 431.7C1331.3 430.5 1333.5 429.1 1335.5 427.4C1337.6 425.7 1340.2 422.7 1341.2 421.7M860.7 462.9C862 462.5 865.9 461.2 868.6 460.4C871.2 459.6 873.8 458.9 876.5 458.1C879.1 457.3 881.8 456.6 884.4 455.9C887.1 455.2 889.8 454.5 892.4 453.9C895.1 453.3 897.8 452.6 900.5 452.1C903.2 451.5 905.9 451 908.6 450.5C911.3 450 914 449.5 916.7 449.1C919.5 448.7 922.2 448.4 924.9 448.1C927.6 447.7 930.4 447.5 933.1 447.3C935.8 447.1 938.6 446.9 941.3 446.8C944.1 446.7 946.8 446.7 949.5 446.7C952.3 446.7 955 446.8 957.7 446.9C960.5 447 963.2 447.3 966 447.5C968.7 447.8 971.4 448.1 974.2 448.5C976.9 448.9 979.6 449.3 982.3 449.7C985.1 450.2 987.8 450.6 990.5 451.1C993.2 451.5 996 452 998.7 452.4C1001.4 452.9 1004.1 453.3 1006.8 453.7C1009.5 454 1012.3 454.3 1015 454.6C1017.7 454.9 1020.4 455.1 1023.1 455.2C1025.8 455.3 1028.5 455.3 1031.2 455.2C1033.9 455.1 1036.6 454.9 1039.3 454.6C1042 454.3 1044.7 453.8 1047.4 453.2C1050.1 452.6 1054.2 451.3 1055.5 450.9M1088 450.9C1089.2 451.4 1093 452.7 1095.6 453.6C1098.1 454.4 1100.7 455.4 1103.3 456.2C1105.9 457 1108.4 457.8 1111 458.4C1113.6 458.9 1116.2 459.2 1118.8 459.4C1121.4 459.6 1124 459.5 1126.6 459.4C1129.2 459.2 1131.8 458.8 1134.4 458.4C1137 457.9 1139.6 457.3 1142.2 456.7C1144.8 456 1147.4 455.2 1150 454.5C1152.6 453.8 1155.2 453.1 1157.8 452.5C1160.4 451.8 1163.1 451.3 1165.7 450.9C1168.3 450.5 1171 450.3 1173.6 450.2C1176.3 450 1179 449.9 1181.6 449.8C1184.3 449.7 1187 449.7 1189.6 449.6C1192.3 449.5 1195 449.4 1197.6 449.3C1200.3 449.3 1203 449.2 1205.7 449.1C1208.3 449.1 1211 449 1213.7 449C1216.3 448.9 1219 448.9 1221.7 448.9C1224.4 448.9 1227 448.9 1229.7 448.9C1232.4 448.9 1235.1 448.9 1237.7 449C1240.4 449 1243.1 449.1 1245.7 449.2C1248.4 449.3 1251.1 449.4 1253.8 449.5C1256.4 449.6 1259.1 449.7 1261.8 449.8C1264.4 449.9 1267.1 449.9 1269.8 450C1272.4 450.1 1275.1 450.2 1277.8 450.2C1280.4 450.3 1283.1 450.3 1285.8 450.3C1288.4 450.3 1291.1 450.2 1293.8 450.2C1296.4 450.2 1299.1 450.1 1301.8 450C1304.4 449.9 1307.1 449.8 1309.8 449.7C1312.4 449.5 1315.1 449.4 1317.8 449.3C1320.5 449.1 1323.1 449 1325.8 448.8C1328.5 448.7 1331.1 448.5 1333.8 448.3C1336.5 448.2 1339.1 448 1341.8 447.9C1344.5 447.7 1347.2 447.6 1349.8 447.4C1352.5 447.3 1355.2 447.1 1357.8 446.9C1360.5 446.7 1363.2 446.5 1365.8 446.2C1368.5 446 1371.1 445.7 1373.8 445.3C1376.4 445 1379 444.6 1381.7 444.1C1384.3 443.7 1386.9 443.1 1389.5 442.5C1392.1 441.9 1394.7 441.2 1397.2 440.5C1399.8 439.8 1402.4 439.1 1405 438.3C1407.5 437.6 1410.1 436.8 1412.7 436.1C1415.3 435.4 1417.8 434.7 1420.4 434.1C1423 433.5 1425.6 433 1428.3 432.5C1430.9 432.1 1433.5 431.8 1436.2 431.6C1438.9 431.4 1441.5 431.3 1444.2 431.2C1446.9 431.1 1449.6 431 1452.3 431C1454.9 430.9 1457.6 430.9 1460.3 430.8C1463 430.7 1466.9 430.5 1468.3 430.5M860.7 481.6C862 481.1 865.8 479.4 868.3 478.3C870.9 477.2 873.4 476.1 876 475C878.5 473.9 881.1 472.9 883.7 471.9C886.3 470.9 888.9 470 891.5 469.1C894.1 468.2 896.7 467.4 899.4 466.7C902.1 466 904.8 465.3 907.5 464.8C910.2 464.2 914.3 463.6 915.7 463.4M948.1 459.2C949.5 459.2 953.8 459.2 956.5 459.6C959.2 460 961.8 460.7 964.3 461.7C966.7 462.6 969.1 463.9 971.3 465.3C973.5 466.7 975.5 468.4 977.5 470.2C979.4 472 981.1 474.1 982.9 476.1C984.6 478.2 986.2 480.4 988 482.5C989.7 484.6 991.4 486.7 993.4 488.7C995.3 490.6 997.4 492.5 999.6 494.1C1001.8 495.7 1004.1 497.1 1006.5 498.2C1008.9 499.3 1011.4 500.2 1013.9 500.6C1016.4 501.1 1019 501.1 1021.6 500.8C1024.1 500.5 1026.8 499.7 1029.2 498.7C1031.7 497.7 1034.1 496.3 1036.4 494.7C1038.6 493.1 1040.6 491.1 1042.6 489.2C1044.5 487.3 1046.3 485.1 1048.1 483.1C1050 481.2 1051.8 479.1 1053.8 477.4C1055.8 475.6 1057.8 474.1 1060.1 472.8C1062.3 471.6 1064.7 470.6 1067.2 469.9C1069.7 469.2 1072.3 468.7 1075 468.4C1077.6 468.1 1080.3 468.1 1083 468.1C1085.7 468.1 1088.4 468.3 1091.2 468.5C1093.9 468.7 1096.7 469.1 1099.4 469.3C1102.1 469.6 1104.9 469.9 1107.6 470C1110.3 470.1 1113.1 470.3 1115.7 470.2C1118.4 470.1 1121.1 469.8 1123.7 469.4C1126.3 469 1128.9 468.5 1131.5 467.9C1134.1 467.3 1136.7 466.6 1139.3 466C1141.9 465.3 1144.5 464.6 1147.1 463.9C1149.7 463.3 1152.3 462.7 1155 462.1C1157.6 461.5 1160.3 461 1162.9 460.6C1165.6 460.1 1168.2 459.8 1170.9 459.5C1173.6 459.3 1176.2 459.1 1178.9 459.1C1181.6 459 1184.3 459.1 1187 459.2C1189.6 459.4 1192.3 459.6 1195 459.9C1197.7 460.1 1200.4 460.4 1203.1 460.6C1205.8 460.8 1208.4 461.1 1211.1 461.3C1213.8 461.5 1216.5 461.7 1219.2 461.9C1221.8 462 1224.5 462.1 1227.2 462.2C1229.9 462.2 1232.5 462.2 1235.2 462.2C1237.9 462.1 1240.6 461.9 1243.3 461.8C1245.9 461.6 1248.6 461.4 1251.3 461.1C1254 460.9 1256.6 460.6 1259.3 460.3C1262 460 1264.7 459.7 1267.3 459.4C1270 459.1 1272.7 458.8 1275.4 458.6C1278.1 458.3 1280.7 458.1 1283.4 457.9C1286.1 457.7 1288.8 457.6 1291.5 457.4C1294.1 457.3 1296.8 457.3 1299.5 457.2C1302.2 457.2 1304.9 457.2 1307.6 457.3C1310.3 457.3 1312.9 457.4 1315.6 457.5C1318.3 457.7 1321 457.9 1323.7 458.1C1326.3 458.3 1329 458.5 1331.7 458.8C1334.4 459 1337.1 459.3 1339.7 459.6C1342.4 459.9 1345.1 460.2 1347.8 460.5C1350.4 460.8 1353.1 461.2 1355.8 461.5C1358.5 461.8 1361.1 462.1 1363.8 462.4C1366.5 462.6 1369.2 462.9 1371.8 463.1C1374.5 463.4 1377.2 463.6 1379.9 463.8C1382.5 463.9 1385.2 464.1 1387.9 464.2C1390.6 464.3 1393.2 464.3 1395.9 464.3C1398.6 464.3 1401.3 464.2 1403.9 464.1C1406.6 464 1409.3 463.8 1412 463.6C1414.6 463.3 1417.3 463.1 1420 462.8C1422.7 462.6 1425.4 462.3 1428 462C1430.7 461.7 1433.4 461.4 1436.1 461.2C1438.8 460.9 1441.4 460.7 1444.1 460.4C1446.8 460.2 1449.5 460 1452.2 459.9C1454.9 459.8 1457.5 459.7 1460.2 459.7C1462.9 459.7 1466.9 459.9 1468.3 459.9M860.7 529.1C861.7 528.2 864.7 525.5 866.6 523.6C868.6 521.7 870.4 519.8 872.3 517.8C874.2 515.9 876.1 513.9 878 511.9C879.8 510 881.7 508 883.6 506.1C885.5 504.2 887.4 502.3 889.4 500.4C891.4 498.6 893.4 496.8 895.5 495.1C897.6 493.4 899.7 491.8 902 490.3C904.2 488.8 906.5 487.4 908.9 486.2C911.4 484.9 913.9 483.8 916.5 482.8C919.1 481.9 921.8 481.1 924.5 480.5C927.2 479.9 930 479.4 932.7 479.3C935.5 479.1 938.2 479.1 940.8 479.4C943.4 479.7 946 480.2 948.5 481C950.9 481.8 953.2 482.9 955.4 484.3C957.5 485.7 959.5 487.5 961.2 489.4C963 491.4 964.6 493.6 966 496C967.4 498.3 968.6 500.8 969.6 503.4C970.6 506 971.4 508.7 972.2 511.3C973 514 973.6 516.7 974.2 519.4C974.9 522.1 975.4 524.8 976.1 527.4C976.8 530 977.5 532.6 978.4 535C979.3 537.5 980.2 539.9 981.5 542.2C982.7 544.6 984.1 546.8 985.8 548.9C987.5 551 990.8 553.8 991.8 554.8M1041.8 541.6C1043 540.9 1046.6 539 1048.9 537.6C1051.2 536.2 1053.4 534.6 1055.6 533C1057.7 531.4 1059.7 529.7 1061.7 527.9C1063.7 526.1 1065.5 524.2 1067.4 522.2C1069.2 520.3 1070.9 518.2 1072.6 516.1C1074.3 514 1075.9 511.7 1077.4 509.5C1079 507.2 1080.4 504.9 1082 502.6C1083.5 500.3 1085 498 1086.7 495.9C1088.4 493.8 1090.1 491.7 1092 490C1094 488.2 1096.1 486.6 1098.4 485.3C1100.6 483.9 1103.1 482.8 1105.6 481.9C1108.1 481 1110.8 480.3 1113.5 479.9C1116.2 479.4 1119 479.3 1121.7 479C1124.5 478.7 1127.2 478.6 1129.9 478.3C1132.5 477.9 1135.1 477.4 1137.6 476.9C1140.2 476.4 1142.7 475.8 1145.3 475.3C1147.9 474.7 1150.5 474 1153.1 473.4C1155.8 472.9 1158.5 472.3 1161.3 471.8C1164 471.3 1166.8 470.9 1169.5 470.6C1172.3 470.3 1175.1 470.1 1177.8 470.2C1180.5 470.2 1183.2 470.3 1185.8 470.8C1188.4 471.2 1190.9 471.8 1193.3 472.7C1195.7 473.6 1198.1 474.7 1200.2 476.2C1202.4 477.7 1204.4 479.7 1206.3 481.7C1208.2 483.7 1209.9 486.2 1211.9 488.2C1213.8 490.2 1215.8 492.3 1218 493.6C1220.2 494.9 1222.8 495.8 1225.2 495.9C1227.5 496 1230 495.3 1232.3 494.2C1234.5 493 1236.6 490.9 1238.7 489C1240.7 487.1 1242.5 484.7 1244.5 482.7C1246.4 480.6 1248.2 478.5 1250.2 476.8C1252.3 475.1 1254.5 473.6 1256.8 472.3C1259 471 1261.5 469.9 1264 468.9C1266.4 468 1269 467.2 1271.6 466.5C1274.2 465.8 1276.8 465.2 1279.4 464.7C1282.1 464.3 1284.7 463.9 1287.4 463.6C1290.1 463.4 1292.8 463.2 1295.5 463.1C1298.2 463.1 1300.9 463.1 1303.6 463.2C1306.4 463.4 1309.1 463.6 1311.8 463.9C1314.5 464.2 1317.2 464.5 1319.9 465C1322.5 465.5 1325.2 466 1327.8 466.6C1330.5 467.2 1333.1 467.9 1335.7 468.7C1338.2 469.4 1340.8 470.3 1343.4 471.1C1345.9 472 1348.4 472.9 1351 473.8C1353.5 474.7 1356 475.7 1358.5 476.7C1361 477.6 1363.5 478.6 1366 479.6C1368.5 480.6 1371 481.6 1373.5 482.6C1376 483.6 1378.5 484.6 1381 485.6C1383.5 486.5 1386 487.5 1388.6 488.4C1391.1 489.3 1393.6 490.1 1396.2 490.9C1398.8 491.7 1401.3 492.5 1403.9 493.2C1406.5 493.9 1409.2 494.5 1411.8 495.1C1414.4 495.6 1417.1 496.1 1419.8 496.6C1422.4 497 1425.1 497.3 1427.8 497.6C1430.5 497.9 1433.2 498.1 1435.9 498.2C1438.5 498.3 1441.2 498.3 1443.9 498.3C1446.6 498.2 1450.7 497.9 1452 497.9M1048 559.8C1049.2 559.2 1052.8 557.5 1055.2 556.3C1057.6 555 1060 553.6 1062.2 552.2C1064.5 550.7 1066.8 549.2 1068.9 547.5C1071.1 545.9 1073.2 544.1 1075.1 542.2C1077.1 540.4 1079 538.4 1080.7 536.3C1082.4 534.3 1083.9 532.1 1085.4 529.8C1086.8 527.5 1088.1 525.1 1089.4 522.7C1090.6 520.3 1091.8 517.9 1093 515.4C1094.3 513 1095.5 510.6 1096.8 508.2C1098.2 505.9 1099.6 503.5 1101.2 501.4C1102.8 499.3 1104.5 497.2 1106.5 495.6C1108.5 494 1110.8 492.7 1113.3 491.8C1115.7 490.9 1118.6 490.5 1121.4 490C1124.1 489.6 1126.9 489.3 1129.6 489C1132.3 488.6 1134.9 488.3 1137.6 487.9C1140.2 487.4 1142.8 487 1145.4 486.4C1148 485.9 1150.7 485.2 1153.3 484.6C1155.9 483.9 1158.6 483.1 1161.3 482.4C1163.9 481.7 1166.6 481 1169.3 480.6C1172 480.1 1174.6 479.7 1177.3 479.6C1179.9 479.6 1182.6 479.7 1185.2 480.2C1187.7 480.8 1190.4 481.7 1192.7 482.9C1195.1 484.1 1197.4 485.6 1199.3 487.5C1201.3 489.3 1202.9 491.6 1204.4 493.9C1205.9 496.1 1207.1 498.8 1208.5 501.2C1209.9 503.5 1211.1 506.1 1212.8 508.1C1214.5 510.2 1216.4 512.1 1218.6 513.5C1220.9 514.8 1223.8 515.8 1226.4 516.2C1229 516.6 1231.9 516.5 1234.4 515.8C1236.8 515.2 1239 513.9 1241 512.4C1243 510.9 1244.7 508.8 1246.5 506.7C1248.2 504.7 1249.7 502.2 1251.3 499.9C1253 497.6 1254.5 495.1 1256.3 492.9C1258 490.7 1259.9 488.5 1261.8 486.7C1263.8 484.8 1265.8 483 1268 481.5C1270.2 480 1272.4 478.6 1274.8 477.5C1277.1 476.3 1279.6 475.4 1282.1 474.6C1284.6 473.9 1287.2 473.3 1289.8 472.9C1292.4 472.5 1295.1 472.3 1297.8 472.3C1300.5 472.2 1303.2 472.3 1305.9 472.5C1308.6 472.8 1311.4 473.2 1314.1 473.7C1316.7 474.3 1319.4 474.9 1322.1 475.7C1324.7 476.5 1327.3 477.5 1329.8 478.5C1332.4 479.5 1334.8 480.7 1337.2 481.9C1339.6 483.1 1342 484.5 1344.2 485.9C1346.5 487.3 1348.7 488.8 1350.9 490.3C1353.1 491.9 1355.2 493.5 1357.3 495.1C1359.5 496.8 1361.5 498.5 1363.6 500.2C1365.7 501.9 1367.8 503.6 1369.9 505.3C1371.9 507 1374 508.7 1376.1 510.4C1378.2 512.1 1380.3 513.9 1382.4 515.6C1384.5 517.3 1386.6 519 1388.7 520.8C1390.7 522.5 1392.8 524.2 1394.8 526C1396.9 527.8 1398.9 529.6 1400.9 531.4C1402.9 533.2 1404.8 535.1 1406.8 536.9C1408.8 538.8 1410.7 540.7 1412.6 542.5C1414.6 544.4 1416.5 546.3 1418.4 548.2C1420.4 550 1422.3 551.9 1424.2 553.8C1426.2 555.7 1428.1 557.5 1430.1 559.4C1432 561.2 1434 563.1 1436 564.9C1438 566.7 1441 569.4 1442.1 570.3M1051.8 572.8C1053.1 572.3 1057 571 1059.7 570C1062.3 568.9 1064.9 567.8 1067.4 566.5C1070 565.2 1072.5 563.9 1074.9 562.4C1077.3 560.9 1079.7 559.3 1082 557.7C1084.3 556 1086.5 554.2 1088.6 552.3C1090.7 550.4 1092.7 548.4 1094.5 546.3C1096.4 544.2 1098.1 542 1099.6 539.7C1101.2 537.4 1102.6 535 1104 532.6C1105.4 530.1 1106.7 527.5 1108 524.9C1109.2 522.4 1110.3 519.5 1111.7 517C1113.1 514.5 1114.4 511.7 1116.3 509.8C1118.2 508 1120.6 506.6 1123.1 506C1125.6 505.4 1128.5 505.7 1131.3 506.1C1134.1 506.5 1137 507.9 1139.8 508.3C1142.6 508.7 1145.4 508.8 1148 508.4C1150.7 507.9 1153.4 506.8 1155.9 505.6C1158.4 504.3 1161.9 501.7 1163.2 500.9M1189.9 497.9C1190.9 498.7 1194.2 501 1196 502.9C1197.8 504.8 1199.2 507 1200.6 509.3C1202.1 511.6 1203.2 514.2 1204.6 516.6C1205.9 519.1 1207.1 521.7 1208.6 524.1C1210 526.4 1211.5 528.8 1213.4 530.6C1215.2 532.5 1217.3 534.1 1219.6 535.2C1221.9 536.3 1224.5 537 1227.1 537.4C1229.7 537.7 1232.5 537.6 1235.1 537.2C1237.7 536.9 1240.3 536.1 1242.7 535C1245 533.9 1247.2 532.5 1249.2 530.8C1251.2 529.2 1252.9 527.2 1254.6 525.1C1256.3 523 1257.8 520.7 1259.2 518.3C1260.7 516 1262.1 513.5 1263.4 511.1C1264.8 508.6 1266.1 506.1 1267.5 503.8C1269 501.4 1270.3 499.1 1271.9 497C1273.5 494.9 1275.1 492.8 1277 491.1C1278.9 489.3 1281 487.7 1283.3 486.5C1285.5 485.2 1288.1 484.2 1290.6 483.5C1293.2 482.8 1295.8 482.4 1298.5 482.3C1301.1 482.2 1303.8 482.4 1306.5 482.7C1309.1 483.1 1311.8 483.8 1314.4 484.6C1317 485.4 1319.6 486.4 1322.1 487.5C1324.5 488.7 1326.9 490 1329.2 491.4C1331.5 492.7 1333.7 494.3 1335.8 495.9C1338 497.4 1340 499.1 1342 500.9C1344 502.6 1345.9 504.5 1347.9 506.4C1349.8 508.2 1351.6 510.2 1353.5 512.1C1355.3 514 1357.1 516 1359 518C1360.8 519.9 1362.6 521.9 1364.4 523.9C1366.2 525.9 1368 527.9 1369.8 529.8C1371.6 531.8 1373.4 533.8 1375.2 535.8C1377 537.8 1378.8 539.8 1380.5 541.8C1382.3 543.8 1384.1 545.8 1385.9 547.7C1387.7 549.7 1389.5 551.7 1391.3 553.7C1393.1 555.7 1394.9 557.7 1396.7 559.6C1398.5 561.6 1400.3 563.6 1402.2 565.5C1404 567.5 1405.8 569.4 1407.7 571.4C1409.5 573.3 1411.4 575.2 1413.2 577.2C1415.1 579.1 1417 581 1418.9 582.9C1420.7 584.8 1423.6 587.6 1424.6 588.5M1055.5 584C1056.5 583.7 1059.6 582.8 1061.7 582.3C1063.9 581.7 1067.4 581 1068.5 580.8M1099.2 577.3C1100.5 577 1104.3 576.3 1106.9 575.8C1109.5 575.2 1112.2 574.7 1114.8 574C1117.5 573.4 1120.2 572.7 1122.8 571.9C1125.5 571.2 1128.1 570.3 1130.7 569.4C1133.3 568.5 1135.9 567.4 1138.3 566.3C1140.8 565.1 1143.2 563.9 1145.5 562.5C1147.7 561.1 1149.9 559.6 1152 557.9C1154 556.2 1155.9 554.4 1157.6 552.4C1159.3 550.4 1160.9 548.2 1162.3 545.9C1163.7 543.6 1164.9 541 1166.1 538.5C1167.3 536 1168.3 533.3 1169.5 530.8C1170.7 528.3 1171.9 525.7 1173.3 523.4C1174.7 521.1 1176.1 518.5 1177.9 516.9C1179.7 515.2 1182 513.2 1184 513.5C1186 513.7 1188.4 516.3 1189.7 518.3C1191.1 520.3 1191.7 523 1192.3 525.6C1192.9 528.3 1193 531.2 1193.4 534C1193.9 536.8 1194.2 539.8 1195.1 542.4C1196 545 1197.3 547.5 1198.9 549.7C1200.5 551.9 1202.6 553.9 1204.8 555.4C1206.9 557 1209.4 558.2 1211.8 559.1C1214.3 559.9 1216.9 560.3 1219.5 560.5C1222.1 560.6 1224.8 560.4 1227.5 559.9C1230.1 559.5 1232.8 558.7 1235.3 557.7C1237.9 556.7 1240.4 555.4 1242.8 554C1245.2 552.6 1247.4 550.9 1249.5 549.1C1251.5 547.4 1253.4 545.4 1255.1 543.4C1256.8 541.4 1258.4 539.2 1259.8 536.9C1261.2 534.7 1262.5 532.3 1263.8 529.9C1265 527.6 1266.1 525.1 1267.3 522.6C1268.4 520.1 1269.5 517.6 1270.7 515.1C1271.8 512.6 1272.9 510 1274.2 507.7C1275.6 505.3 1276.9 503 1278.6 501C1280.4 499 1282.4 497.2 1284.6 495.8C1286.8 494.4 1289.5 493.3 1292.1 492.6C1294.7 491.8 1297.5 491.5 1300.2 491.4C1303 491.4 1305.7 491.7 1308.3 492.3C1310.9 492.9 1313.5 493.9 1316 495C1318.4 496.1 1320.8 497.4 1323.1 498.8C1325.4 500.2 1327.5 501.8 1329.6 503.5C1331.7 505.2 1333.7 507 1335.7 508.9C1337.6 510.8 1339.5 512.7 1341.3 514.7C1343.1 516.7 1344.9 518.8 1346.6 520.9C1348.4 523 1350.1 525.1 1351.8 527.2C1353.5 529.3 1355.2 531.4 1356.9 533.5C1358.6 535.6 1360.2 537.8 1361.9 539.9C1363.5 542 1365.1 544.2 1366.7 546.3C1368.3 548.5 1369.9 550.7 1371.5 552.8C1373.1 555 1374.6 557.2 1376.2 559.4C1377.8 561.6 1379.3 563.9 1380.9 566.1C1382.4 568.3 1384 570.5 1385.6 572.7C1387.2 574.9 1388.8 577.1 1390.4 579.2C1392.1 581.4 1393.7 583.5 1395.4 585.6C1397.1 587.7 1398.9 589.7 1400.7 591.8C1402.5 593.8 1404.3 595.8 1406.2 597.7C1408.1 599.6 1411.1 602.3 1412.1 603.2M1059.2 599C1060.6 598.7 1064.5 597.2 1067.1 597C1069.8 596.9 1072.4 597.5 1075.1 598C1077.8 598.5 1080.4 599.3 1083.1 599.9C1085.8 600.6 1088.5 601.3 1091.2 601.8C1093.9 602.3 1096.7 602.7 1099.4 602.9C1102.1 603.1 1104.8 603 1107.6 602.8C1110.3 602.6 1113 602.3 1115.8 601.9C1118.5 601.5 1121.3 601 1124 600.6C1126.7 600.2 1129.5 599.7 1132.2 599.4C1135 599.1 1137.7 598.8 1140.5 598.7C1143.2 598.7 1147.3 599 1148.7 599M1205.1 585C1206.4 584.7 1210.3 583.8 1213.1 583.2C1215.8 582.6 1218.6 582.1 1221.4 581.6C1224.2 581 1227.1 580.4 1229.9 579.7C1232.7 579 1235.5 578.3 1238.1 577.4C1240.8 576.5 1243.4 575.4 1245.9 574.1C1248.4 572.9 1250.7 571.4 1252.9 569.8C1255.1 568.2 1257.2 566.4 1259 564.4C1260.8 562.4 1262.5 560.2 1264 557.9C1265.5 555.6 1266.8 553.1 1268 550.6C1269.2 548 1270.3 545.3 1271.3 542.7C1272.3 540 1273.3 537.2 1274.3 534.5C1275.3 531.9 1276.2 529.1 1277.2 526.6C1278.3 524 1280 520.3 1280.5 519.1M1310.5 517.9C1311.6 518.6 1315 520.9 1317.1 522.5C1319.2 524.2 1321.1 525.9 1323.1 527.7C1325 529.6 1326.8 531.5 1328.6 533.4C1330.3 535.4 1332 537.5 1333.6 539.5C1335.3 541.6 1336.9 543.8 1338.4 546C1339.9 548.2 1341.4 550.4 1342.9 552.6C1344.4 554.9 1345.8 557.2 1347.2 559.5C1348.6 561.7 1350 564.1 1351.4 566.4C1352.9 568.6 1354.3 571 1355.7 573.2C1357.1 575.5 1358.5 577.8 1360 580C1361.5 582.3 1363 584.5 1364.5 586.7C1366 588.8 1367.6 591 1369.2 593C1370.9 595.1 1372.5 597.1 1374.3 599.1C1376.1 601 1377.9 602.9 1379.8 604.7C1381.7 606.5 1383.7 608.2 1385.8 609.8C1387.9 611.4 1390.1 612.9 1392.4 614.3C1394.7 615.7 1398.4 617.6 1399.6 618.2M1216.3 611.2C1217.7 610.9 1221.3 609.4 1224.3 609C1227.3 608.5 1232.7 608.6 1234.3 608.5M1268 606C1269.3 605.2 1272.9 602.7 1275.6 601.5C1278.3 600.3 1281.4 599.3 1284.3 598.8C1287.2 598.3 1290.4 598.1 1293.2 598.5C1296 598.8 1298.9 599.5 1301.3 600.8C1303.7 602.1 1306 604 1307.8 606.1C1309.6 608.3 1311.1 611 1312.2 613.8C1313.3 616.5 1314.1 619.7 1314.4 622.6C1314.7 625.6 1314.2 630 1314.2 631.5" fill="none" stroke="#160c04" stroke-opacity="0.78" stroke-width="0.85" stroke-linejoin="round"/><g font-weight="700" font-size="14.7" text-anchor="middle" fill="#0c0c0c"><text transform="translate(1071.2,449.9) scale(0.925,1) rotate(0)" y="5.2">0.2</text><text transform="translate(931.9,460.9) scale(0.925,1) rotate(-3)" y="5.2">0.3</text><text transform="translate(1082.5,579.5) scale(0.925,1) rotate(-3)" y="5.2">0.7</text><text transform="translate(1175.6,494.1) scale(0.925,1) rotate(-3)" y="5.2">0.6</text><text transform="translate(1296.2,510.4) scale(0.925,1) rotate(3)" y="5.2">0.8</text><text transform="translate(1251,610.2) scale(0.925,1) rotate(0)" y="5.2">0.9</text><text transform="translate(1346.2,406.9) scale(0.925,1) rotate(-55)" y="5.2">0.1</text><text transform="translate(1466.3,499.3) scale(0.925,1) rotate(0)" y="5.2">0.4</text></g></g>
<polygon fill="#383838" points="860.4,643.5 870.5,643.5 947.1,602.2 1032.3,512 1065.2,621.3 1125.9,645.1 1184.4,531.5 1225.5,634.8 1288.8,625.6 1373.4,645.1 1454,555.7 1468.2,555.7 1468.2,645.6 860.4,645.6"/>
<path d="M860.4 406.7H1468.2V645.1H860.4Z" fill="none" stroke="#000" stroke-opacity="0.74" stroke-width="1.35"/>
<path d="M854.8 406.7H860.4M854.8 486.17H860.4M854.8 565.63H860.4M854.8 645.1H860.4M900.59 645.1V651M1014.11 645.1V651M1127.63 645.1V651M1241.15 645.1V651M1354.68 645.1V651M1468.2 645.1V651" fill="none" stroke="#000" stroke-opacity="0.72" stroke-width="1.25"/>
<path d="M857.1 446.43H860.4M857.1 525.9H860.4M857.1 605.37H860.4M957.35 645.1V648.5M1070.87 645.1V648.5M1184.39 645.1V648.5M1297.92 645.1V648.5M1411.44 645.1V648.5" fill="none" stroke="#000" stroke-opacity="0.5" stroke-width="1.15"/>
<g font-weight="700" font-size="21"><text transform="translate(848.8,413) scale(0.925,1)" text-anchor="end">0</text><text transform="translate(848.8,492.5) scale(0.925,1)" text-anchor="end">20</text><text transform="translate(848.8,571.9) scale(0.925,1)" text-anchor="end">40</text><text transform="translate(848.8,651.4) scale(0.925,1)" text-anchor="end">60</text><text transform="translate(900.9,673.7) scale(0.925,1)" text-anchor="middle">27°N</text><text transform="translate(1014.4,673.7) scale(0.925,1)" text-anchor="middle">28°N</text><text transform="translate(1127.9,673.7) scale(0.925,1)" text-anchor="middle">29°N</text><text transform="translate(1241.5,673.7) scale(0.925,1)" text-anchor="middle">30°N</text><text transform="translate(1355,673.7) scale(0.925,1)" text-anchor="middle">31°N</text><text transform="translate(1468.5,673.7) scale(0.925,1)" text-anchor="middle">32°N</text></g>
<text transform="translate(808.8,525.4) rotate(-90)" text-anchor="middle" font-size="26">Depth (m)</text>
<text x="1473.1" y="392.2" text-anchor="end" font-size="25.9">KSSW (%)</text>
<text x="778.1" y="406.3" font-weight="700" font-size="29">E</text>
<rect x="1483.8" y="406.7" width="21.4" height="238.4" fill="url(#cb)"/>
<path d="M1483.8 407.3V406.6L1487.4 405.8L1494.5 402.8L1501.6 405.8L1505.2 406.6V407.3Z" fill="#b80000"/>
<path d="M1483.8 644.8V645.7L1487.4 646.4L1494.5 649.9L1501.6 646.4L1505.2 645.7V644.8Z" fill="#fffffc"/>
<path d="M1483.8 645.7V406.6M1505.2 406.6V645.7" stroke="#222" stroke-opacity="0.5" stroke-width="1.2" fill="none"/>
<path d="M1487.4 405.8L1494.5 402.8L1501.6 405.8M1487.4 646.4L1494.5 649.9L1501.6 646.4" stroke="#222" stroke-opacity="0.5" stroke-width="1.1" fill="none" stroke-linejoin="round"/>
<path d="M1483.4 406.6L1487.4 405.8M1505.6 406.6L1501.6 405.8M1483.4 645.7L1487.4 646.4M1505.6 645.7L1501.6 646.4" stroke="#111" stroke-opacity="0.85" stroke-width="1.4" fill="none"/>
<path d="M1483.8 597.42h4.8M1505.2 597.42h-4.8M1483.8 549.74h4.8M1505.2 549.74h-4.8M1483.8 502.06h4.8M1505.2 502.06h-4.8M1483.8 454.38h4.8M1505.2 454.38h-4.8" stroke="#000" stroke-opacity="0.8" stroke-width="1.3" fill="none"/>
<g font-weight="700" font-size="20.2"><text transform="translate(1510.6,651.1) scale(0.935,1)">0</text><text transform="translate(1510.6,603.4) scale(0.935,1)">0.2</text><text transform="translate(1510.6,555.7) scale(0.935,1)">0.4</text><text transform="translate(1510.6,508.1) scale(0.935,1)">0.6</text><text transform="translate(1510.6,460.4) scale(0.935,1)">0.8</text><text transform="translate(1510.6,412.7) scale(0.935,1)">1</text></g>
<text transform="translate(1485.2,642.8) rotate(-90)" font-weight="700" font-size="12.6" fill="#111" textLength="95.5" lengthAdjust="spacingAndGlyphs">Ocean Data View</text>
</g>
<g id="panelF">
<clipPath id="clipF"><rect x="860.1" y="745.2" width="606.3" height="237.9"/></clipPath>
<g clip-path="url(#clipF)"><g filter="url(#bl)"><rect x="831.1" y="716.2" width="664.3" height="295.9" fill="#fffff6"/><path fill="#ffffec" fill-rule="evenodd" d="M851.1 736.2L1478.1 736.2L1478.1 994.2L1327.2 994.2L1327.5 985.2L1331.3 964.2L1331.5 958.2L1326.3 934.2L1322.1 906.4L1316.1 887.2L1313.3 880.2L1310.1 874.2L1307.1 870.2L1304.1 867.3L1300.9 865.2L1298.1 864.3L1295.1 864L1292.1 864.7L1289.1 867L1287.3 871.2L1287.5 877.2L1291.5 892.2L1292.6 901.2L1291.9 913.2L1289.1 925.2L1285.3 934.3L1280.1 941.9L1274.1 947.3L1268.1 949.9L1262.1 949.9L1251.9 946.2L1244.1 944.3L1238.1 944.2L1232.1 945.3L1220.1 949.9L1184.1 968.9L1169.1 975.7L1160.1 978.7L1151.1 980.9L1130.1 982.7L1124.1 984L1118.1 987.3L1110.6 994.2L851.1 994.2Z"/><path fill="#fffedd" fill-rule="evenodd" d="M851.1 736.2L1478.1 736.2L1478.1 994.2L1338.5 994.2L1338 985.2L1339.7 964.2L1339.4 955.2L1331.6 913.2L1326.9 895.2L1321 880.2L1317.9 874.2L1313.1 867.6L1307.4 862.2L1304.1 860.3L1301.1 859.1L1295.1 858.4L1292.1 859.1L1289.1 860.6L1286.1 863.4L1283.7 868.2L1283.1 871.2L1283.1 877.2L1285.5 892.2L1285.9 898.2L1285.5 904.2L1284.5 910.2L1281.5 919.2L1278.4 925.2L1274.1 930.8L1270.2 934.2L1265.1 937.1L1259.1 938.5L1238.1 938.9L1229.8 940.2L1223.1 942.1L1205.3 949.2L1169.1 966.6L1154.1 972.1L1142.1 974.2L1127.1 974.2L1121.1 975.2L1118.1 976.5L1115.1 978.6L1106.1 986.3L1094.9 994.2L851.1 994.2Z"/><path fill="#fffdcf" fill-rule="evenodd" d="M851.1 736.2L1478.1 736.2L1478.1 994.2L1349.1 994.2L1347.1 982.2L1347.2 961.3L1345.6 946.2L1339 913.2L1335.8 901.2L1331.9 889.2L1325 874.2L1321.2 868.2L1316.1 862.2L1312.8 859.2L1307.1 855.5L1304.1 854.2L1298.1 853L1292.1 853.8L1289.1 855.2L1286.1 857.3L1282.3 862.3L1281 865.2L1279.7 871.2L1279.6 877.2L1280.6 895.2L1280 901.2L1278.6 907.2L1276.2 913.2L1272.7 919.2L1268.1 924.5L1263 928.2L1259.1 930.1L1253.1 931.9L1226.1 935.7L1214.1 938.8L1193.3 946.2L1161 961.2L1148.1 965.8L1139.1 967.3L1124.1 967.4L1118.1 968.9L1112.1 972.2L1103.1 979.3L1097.1 982.8L1091.1 985.1L1073.1 990.4L1065.8 994.2L851.1 994.2Z"/><path fill="#fffac1" fill-rule="evenodd" d="M851.1 736.2L1478.1 736.2L1478.1 994.2L1361.3 994.2L1357.7 985.2L1356.3 979.2L1354.4 952.2L1350.3 928.2L1344 904.2L1336.7 883.2L1332.4 874.2L1328.9 868.2L1324.5 862.2L1319.1 856.5L1313.1 851.7L1307.1 848.6L1304.1 847.7L1298.1 847L1292.1 848.1L1289.1 849.5L1286.1 851.5L1283.1 854.5L1280.1 859L1277 868.2L1276.4 874.2L1276 892.2L1274.1 902.1L1271.1 909L1268.1 913.5L1262.6 919.2L1258.5 922.2L1253.1 925L1247.1 926.9L1241 928.2L1217.1 931.6L1193.1 937.8L1181.1 942.2L1154.1 955.2L1145.1 958.6L1136.1 960.4L1124.1 960.4L1115.1 962.9L1109.1 965.8L1100.1 971.8L1094.1 974.2L1088.1 974.9L1073.1 975.2L1067.1 976.2L1061.1 978.7L1055.1 982.7L1048.9 988.2L1044 994.2L851.1 994.2Z"/><path fill="#fff7b3" fill-rule="evenodd" d="M851.1 736.2L1478.1 736.2L1478.1 994.2L1379.8 994.2L1373.1 984.6L1369.3 976.2L1367.2 967.2L1362.4 940.2L1357.9 922.2L1348.1 892.2L1340.6 874.2L1335.6 865.2L1331.5 859.2L1322.1 848.6L1313.1 842.2L1307.1 840L1301.1 839.3L1295.1 840.1L1289.1 842.6L1283.1 847.7L1280.1 851.8L1277.1 857.7L1274.7 865.2L1271.1 892.1L1268 901.2L1264.4 907.2L1258.8 913.2L1253.1 917.3L1244.1 921.3L1235.1 923.4L1199.1 927.8L1187.1 929.9L1175.1 934.2L1151.3 946.2L1142.1 950L1136.1 951.4L1124.1 952.6L1118.1 953.7L1097.1 960L1094.1 960.4L1088.1 960L1073.1 956.4L1067.1 956.4L1064.1 957.1L1058.1 960.5L1052.1 966L1040.1 980.1L1031.5 991.2L1029.8 994.2L851.1 994.2Z"/><path fill="#fff2a5" fill-rule="evenodd" d="M851.1 736.2L1478.1 736.2L1478.1 994.2L1409.5 994.2L1394.1 978.5L1388.2 970.2L1385.1 964.4L1379.1 950.1L1353.5 883.2L1346.6 868.2L1339.8 856.2L1331.1 844.2L1325.3 838.2L1322.1 835.8L1316.1 832.5L1313.1 831.4L1304.1 830.3L1295.1 832.1L1289.1 835.1L1283.1 840.1L1280.1 844L1277.1 849.3L1274.1 857L1271.9 865.2L1267.6 886.2L1265.1 893.6L1262.7 898.2L1258.2 904.2L1253.1 909L1247.1 912.8L1241.1 915.4L1232.1 917.7L1223.1 918.7L1211.1 919L1190.1 918.2L1181.1 919.2L1172.1 922.4L1150.9 934.2L1139.1 939.6L1130.1 942.1L1109.1 945.9L1100.1 946.8L1094.1 946.5L1076.1 942.4L1070.1 941.7L1064.1 942.2L1061.1 943.1L1055.1 946.9L1046.1 956.5L1025.1 984L1018.1 994.2L851.1 994.2Z"/><path fill="#ffeb98" fill-rule="evenodd" d="M851.1 736.2L1478.1 736.2L1478.1 994.2L1442.9 994.2L1430.1 983.6L1424.1 978L1414.8 967.2L1403.9 952.2L1391.1 936.6L1385.1 927.9L1373.9 907.2L1353.2 862.2L1346.1 849.5L1340.1 840.2L1333.4 832.2L1325.7 826.2L1318.7 823.2L1310.1 821.8L1301.1 822.7L1292.1 826.1L1286.1 830.1L1280.1 836.4L1277.1 841L1274.1 847.5L1271.1 857L1265.1 880.3L1262.1 887.7L1259.6 892.2L1256.1 897.1L1250.1 902.9L1244.1 906.8L1238.1 909.5L1232.1 911.1L1226.1 912L1217.1 912.2L1211.1 911.5L1205.1 910.1L1199.1 908L1184.1 899.9L1181.1 898.6L1178.1 898.4L1175.1 899.4L1172.1 901.4L1158.3 913.2L1146 922.2L1136.1 927.7L1127 931.2L1115.1 934.4L1103.1 936.1L1094.1 936L1073.1 933.3L1067.1 933.3L1061.1 934.3L1055.1 937.1L1052.1 939.4L1042.2 949.2L1025.1 970.2L1009.2 991.2L1007.5 994.2L851.1 994.2Z"/><path fill="#ffe38b" fill-rule="evenodd" d="M851.1 736.2L1478.1 736.2L1478.1 991.5L1472.1 989.1L1460.1 982.8L1451.1 977.1L1442.1 970L1430.1 958L1415.7 940.2L1403.1 929.5L1396.2 922.2L1389.3 913.2L1381.9 901.2L1361.1 859.2L1353 844.2L1346.1 833.7L1340.1 826.5L1334.1 821.4L1326.2 817.2L1319.1 815.3L1310.1 814.6L1301.1 815.9L1292.1 819.5L1286.1 823.6L1280.1 829.6L1276.3 835.2L1272 844.2L1264.3 871.2L1262.1 877.4L1259.1 883.5L1255.2 889.2L1250.1 894.9L1244.1 899.5L1238.1 902.6L1232.1 904.5L1226.1 905.5L1217.1 905.2L1208.1 902.3L1202.1 898.2L1196.7 892.2L1193.6 886.2L1192 880.2L1190.1 863.6L1187.3 856.3L1184.1 852.9L1181.1 851.6L1178.1 851.6L1174.4 853.2L1169.2 859.2L1164.2 868.2L1156 886.2L1151.1 894.7L1143.4 904.2L1136.1 911L1128.8 916.3L1121.1 920.6L1115.1 923.2L1106.1 926L1094.1 927.7L1067.1 927.6L1061.1 928.6L1054.2 931.2L1049.8 934.2L1042.8 940.2L1031.2 952.2L1010.9 976.2L999 991.2L997.2 994.2L851.1 994.2Z"/><path fill="#ffda7c" fill-rule="evenodd" d="M851.1 736.2L1478.1 736.2L1478.1 972.2L1472.1 969.8L1463.1 965.2L1448.1 955.2L1439.1 947.8L1424.8 934.2L1409.1 920.7L1401.8 913.2L1394.1 903.4L1387 892.2L1365.5 850.2L1358.7 838.2L1352.7 829.2L1346.1 821.6L1340.1 816.5L1331.1 811.5L1322.1 809L1313.1 808.4L1304.1 809.4L1295.1 812.1L1286.1 817.4L1280.1 823.3L1274.1 832.2L1271.1 838.5L1268 847.2L1262.1 867.7L1257.8 877.2L1253.8 883.2L1250.1 887.6L1244.1 892.7L1238.1 896.1L1229.1 898.7L1223.1 899L1218.1 898.2L1214.1 897L1208.1 893.4L1202.1 886.9L1199.1 881.3L1196.8 874.2L1193.4 859.2L1190.1 852L1187.1 848.2L1184.1 845.8L1181.1 844.6L1178.1 844.2L1175.1 844.6L1169.1 847.7L1154.1 862.9L1139.1 875.7L1135.7 880.2L1126.1 898.2L1121.6 904.2L1115.5 910.2L1106.3 916.2L1098.7 919.2L1088.1 921.4L1070.1 922.6L1064.1 923.6L1055.1 926.3L1049.1 929.7L1035.6 940.2L1020.3 955.2L1001.4 976.2L989 991.2L987.1 994.2L851.1 994.2Z"/><path fill="#ffd06f" fill-rule="evenodd" d="M851.1 736.2L1478.1 736.2L1478.1 954L1472.1 951.9L1463.1 947.8L1445.1 937.4L1424.1 921.6L1415.1 913.8L1409.1 907.7L1401.3 898.2L1393.3 886.2L1386.6 874.2L1371.1 844.2L1364 832.2L1357.6 823.2L1349.1 814.3L1340.1 808L1331.1 804.2L1322.1 802.4L1313.1 802.5L1304.1 803.7L1295.1 806.4L1286.1 811.4L1280.1 817L1274.1 825.4L1270.7 832.2L1267.2 841.2L1260.6 862.2L1256.1 872.3L1252.9 877.2L1247.1 883.8L1244.1 886.4L1238.1 890L1232.1 892.1L1223.1 892.6L1217.1 891.1L1211.1 887.7L1206.6 883.2L1202.8 877.2L1200.4 871.2L1195.9 856.2L1193.1 849.8L1190.1 845.1L1187.1 842L1181.1 838.7L1175.1 838.1L1172.1 838.9L1166.1 842.2L1151.1 854L1145.1 857L1133.1 860.6L1130.1 862.1L1127.1 865L1124.1 870.5L1116.3 892.2L1110.8 901.2L1105.1 907.2L1097.1 912.5L1091.1 914.9L1082.1 916.9L1067.1 919.1L1058.1 921.5L1049.6 925.2L1040 931.3L1025 943.3L1008.9 958.2L989.2 979.2L978.8 991.2L976.9 994.2L851.1 994.2Z"/><path fill="#fec763" fill-rule="evenodd" d="M851.1 736.2L1478.1 736.2L1478.1 936.6L1460.1 931L1451.1 927.3L1442.1 922.7L1430.1 914.7L1418.1 904L1409.1 893.7L1400.1 880.7L1392.8 868.2L1376.6 838.2L1369.2 826.2L1362.4 817.2L1355.1 809.6L1346.1 802.9L1337.1 798.6L1331.1 796.7L1325.1 795.7L1316.1 795.9L1304.1 797.9L1295.1 800.5L1286.1 805.4L1280.1 810.6L1274.1 818.5L1270 826.2L1266.4 835.2L1259.1 857.1L1256.1 864.2L1253.1 869.6L1249.8 874.2L1244.1 880.2L1239.8 883.2L1235.1 885.5L1229.1 886.8L1223.1 886.5L1217.1 884.6L1211.1 880.5L1208.1 877.1L1205.1 872.4L1196.1 848.4L1193.1 842.8L1190.1 838.9L1187.1 836.2L1181.1 833.1L1175.1 832.3L1172.1 832.7L1166.1 835.3L1154.1 844.2L1148.1 847.7L1142.1 849.6L1127.9 850.2L1124.1 851.6L1121.1 854.5L1118.1 860.6L1112.7 880.2L1109.3 889.2L1104 898.2L1098.4 904.2L1091.1 909.1L1085.1 911.5L1064.1 916.3L1055.1 919.3L1042.8 925.3L1033.2 931.3L1017.2 943.2L1000.1 958.2L979.2 979.2L968.4 991.2L966.4 994.2L851.1 994.2Z"/><path fill="#febf57" fill-rule="evenodd" d="M851.1 736.2L1478.1 736.2L1478.1 918.1L1460.1 915.3L1448.1 912.2L1442.1 909.6L1433.1 903.4L1421.3 892.2L1412.1 881L1400.1 862.8L1378.6 826.2L1370.1 814.3L1362.1 805.2L1352.1 796.9L1343.1 791.9L1331.1 788.1L1325.1 787.4L1319.1 787.7L1313.1 788.7L1295.1 793.8L1286.1 798.8L1280.1 804L1274.1 811.5L1269.1 820.2L1265.4 829.2L1257.2 853.2L1253 862.2L1249.1 868.2L1244.1 874L1239.9 877.2L1235.1 879.8L1229.1 881.1L1223.1 880.6L1217.1 878.3L1214.1 876.4L1211.1 873.5L1207.4 868.2L1205.1 863.5L1197.7 844.2L1192.1 835.2L1187.1 830.7L1181.1 827.8L1175.1 826.9L1169.1 827.9L1163.1 830.9L1151.1 839.2L1145.1 842L1139.1 842.9L1127.1 842.3L1124.1 842.7L1120.3 844.2L1117.2 847.2L1114.2 853.2L1107.7 877.2L1104.4 886.2L1099.1 895.2L1093.7 901.2L1088.1 905.3L1082.1 908.1L1061.1 914.1L1047.9 919.2L1035.9 925.2L1021.4 934.2L1005 946.2L987.3 961.2L968.8 979.2L957.6 991.2L955.5 994.2L851.1 994.2Z"/><path fill="#feb64c" fill-rule="evenodd" d="M851.1 736.2L1478.1 736.2L1478.1 893.3L1457.1 892L1451.1 891.1L1442.1 887.9L1433.1 882.3L1424.1 874.4L1412.1 860.6L1403.1 848.1L1378.3 811.2L1370.1 800.9L1361.1 791.5L1352.1 784.5L1346.1 781L1340.1 778.4L1331.1 776L1325.1 775.7L1319.1 776.2L1307.1 779.4L1295.1 784.2L1289.1 787.8L1280.1 796.4L1274.1 804.2L1266.7 817.2L1263 826.2L1256.1 847.2L1250.4 859.2L1244.1 867.7L1239.9 871.3L1235.1 874L1229.1 875.4L1223.1 874.8L1217.1 872.1L1214.1 869.8L1211.1 866.4L1208.1 861.4L1199.8 841.2L1196.1 834.2L1193.1 830.4L1190.1 827.6L1187.1 825.5L1181.1 823L1178.1 822.4L1172.1 822.3L1166.1 823.7L1160.8 826.2L1148.1 834L1142.1 836L1136.1 836.6L1127.1 836.5L1121.1 837.6L1118.1 839.1L1115.4 841.2L1112.1 846L1109.1 853.8L1104.8 871.2L1101.9 880.2L1097.1 889.8L1094.1 894L1090.1 898.2L1085.1 902L1079.1 905.1L1055.3 913.2L1037.1 920.8L1022.9 928.2L1008.4 937.2L991.6 949.2L973.6 964.2L954.9 982.2L946.3 991.2L944.1 994.2L851.1 994.2Z"/><path fill="#fead42" fill-rule="evenodd" d="M851.1 736.2L1478.1 736.2L1478.1 862.2L1466.1 860.3L1448.1 859.9L1442.1 859.3L1436.1 857.7L1427.1 853.2L1418.1 846.2L1406.1 833.5L1391.1 813.7L1370.1 783.5L1364.1 776.1L1358.1 770L1352.1 765L1346.1 760.9L1337.1 756.7L1328.1 755.1L1319.1 756.3L1295.1 763.9L1289.1 767.6L1286.1 771.1L1264.1 814.2L1260.5 823.2L1253.5 844.2L1250.1 852.1L1244.1 861.2L1239.8 865.2L1235.1 868.1L1229.1 869.6L1223.1 868.8L1217.1 865.7L1214.1 862.9L1211.1 858.9L1208.1 853.4L1201.9 838.2L1196.9 829.2L1193.1 824.9L1190.1 822.4L1184.1 819.3L1178.1 817.9L1169.1 818.2L1162.3 820.2L1148.1 827.9L1142.1 830.1L1121.1 832.7L1115.1 835.6L1112.1 838.4L1109.1 842.9L1106.1 850.2L1100.7 871.2L1097.4 880.2L1092.3 889.2L1085.1 897L1079.1 901L1072.3 904.2L1039.5 916.2L1025.7 922.2L1008.7 931.2L993.9 940.2L976.8 952.3L962.2 964.2L943.1 982.2L934.3 991.2L932.1 994.2L851.1 994.2Z"/><path fill="#fda438" fill-rule="evenodd" d="M851.1 736.2L1298.9 736.2L1286.1 742.1L1280.1 745.4L1274.1 750.2L1270.8 754.2L1269 760.2L1270.7 775.2L1270.9 781.2L1270.2 787.2L1268.6 793.2L1257.8 820.2L1249.5 844.2L1244.1 854.2L1241.1 857.9L1238.1 860.5L1232.1 863.3L1226.1 863.5L1220.1 861.3L1217.1 859.2L1214.1 856.1L1211.1 851.6L1202.5 832.2L1199 826.2L1193.1 819.7L1189.6 817.2L1184.1 814.7L1175.1 813.4L1166.1 814.4L1160.1 816.4L1148.1 822.7L1142.1 825.1L1136.1 826.4L1124.1 827.6L1118.1 829.1L1112.1 832.7L1109.1 835.9L1106.1 840.7L1103.1 848.3L1097.8 868.2L1094.5 877.2L1089.5 886.2L1082.1 894.3L1076.1 898.5L1067.1 902.9L1031.1 915.9L1016.2 922.2L998 931.2L982.2 940.2L964.7 952.2L950.1 964.1L930.6 982.2L921.5 991.2L919.2 994.2L851.1 994.2ZM1360.7 736.2L1478.1 736.2L1478.1 840.2L1466.1 839.1L1448.1 838.5L1436.1 836.6L1430.1 834.6L1424.1 831.6L1415.1 825.1L1409.1 819.3L1403.1 812.5L1397.1 804.8L1391.4 796.2L1385.9 784.2L1379.5 760.3L1376.1 752L1371.2 745.2Z"/><path fill="#fd9c30" fill-rule="evenodd" d="M851.1 736.2L1271.7 736.2L1263.6 748.2L1262 751.2L1260.6 757.2L1260.7 766.2L1262.9 781.2L1263.1 787.2L1262.5 793.2L1260.3 802.2L1246.5 841.2L1241.1 850.6L1238.1 853.9L1235.1 856.1L1232.1 857.3L1226.1 857.4L1220.1 855.1L1217.1 852.8L1214.1 849.3L1211.1 844.2L1204.1 829.2L1199.1 820.9L1193.1 814.7L1190.1 812.7L1184.1 810.3L1175.1 809.2L1166.1 810.3L1157.1 813.4L1142.1 820.7L1136.1 822.2L1121.1 824L1115.1 825.8L1109.1 830.1L1106.1 833.8L1103.5 838.2L1100.1 846.8L1094.9 865.2L1091.1 875.4L1085.1 885.3L1078.3 892.2L1070.1 897.8L1063.1 901.2L1052.1 905.5L1027.6 913.2L1011.9 919.2L991.2 928.2L971.1 938.8L955.1 949.2L939.8 961.3L920.2 979.2L907.8 991.2L905.4 994.2L851.1 994.2ZM1401.5 736.2L1478.1 736.2L1478.1 821.7L1448.1 820.7L1436.1 818.9L1430.1 817.1L1424.1 814.2L1418.1 809.7L1412.1 803.8L1404 793.2L1402.3 790.2L1400.5 784.2L1400.5 775.2L1403.8 757.2L1404.2 751.2L1403.9 745.2Z"/><path fill="#fd942a" fill-rule="evenodd" d="M851.1 736.2L1261.8 736.2L1257.3 748.2L1255.5 757.2L1254.7 772.2L1256 793.2L1254.3 805.2L1249.3 823.2L1244.9 835.2L1241.1 842.5L1238.1 846.5L1235.1 849.2L1232.1 850.8L1229.1 851.5L1223.1 850.5L1220.1 848.9L1217.1 846.3L1214.1 842.4L1202.4 820.2L1199.1 815.3L1193.1 809.6L1190.1 807.8L1184.1 805.7L1175.1 804.9L1166.1 806.2L1160.1 808.1L1145.1 815.5L1139.1 817.7L1115.1 821.4L1109.1 824.7L1106.1 827.7L1103.1 831.9L1098.7 841.2L1091.1 865.2L1087.2 874.2L1081.3 883.2L1073.1 891.1L1066.9 895.2L1055.1 900.9L1022.1 911L992.1 921.4L975.3 928.2L959.1 936.5L943.7 946.2L929.1 957.6L892.7 991.2L890.1 994.2L851.1 994.2ZM1419.8 736.2L1478.1 736.2L1478.1 805.8L1457.1 805.9L1445.1 804.4L1439.1 802.8L1433.1 800.1L1427.5 796.2L1424.1 792.9L1420.3 787.2L1419 784.2L1417.7 778.2L1417.7 769.2L1419.8 748.2Z"/><path fill="#fc8c24" fill-rule="evenodd" d="M851.1 736.2L1254.8 736.2L1248.2 775.2L1248 781.2L1249.3 799.2L1247.8 814.2L1244.6 826.2L1240.4 835.2L1238.1 838.8L1235.1 842.1L1232.1 844.2L1229.1 845.2L1226.1 845.2L1223.1 844.4L1220.1 842.7L1217.1 840L1211.1 831.4L1202.7 814.2L1199.1 809.3L1193.1 804.3L1190.1 802.7L1184.1 800.9L1178.1 800.4L1169.1 801.3L1160.1 804.1L1145.1 811.7L1139.1 814.1L1133.1 815.5L1118.1 816.8L1112.1 818.2L1109.1 819.6L1106.1 821.9L1103.1 825.4L1100.1 830.2L1095.2 841.2L1088.1 862.5L1082.1 874.6L1075.2 883.2L1067.1 890L1058.1 895.2L1049.1 898.9L980.1 918.6L968.1 922.7L955 928.2L938.6 937.2L923.1 948.2L914.1 955.8L890.1 978.6L872.5 994.2L851.1 994.2ZM1437.4 736.2L1478.1 736.2L1478.1 788.1L1463.1 789.8L1454.1 788.8L1449 787.2L1445.1 785.4L1439.1 780.3L1436.1 775.6L1434.8 772.2L1433.5 763.2L1434.2 754.2Z"/><path fill="#fc841e" fill-rule="evenodd" d="M851.1 736.2L1248.7 736.2L1247.3 757.2L1242.2 775.2L1241.2 781.2L1241.3 787.2L1243.7 805.2L1243.8 811.2L1243.2 817.2L1240.4 826.2L1238.1 830.9L1235.1 834.9L1232.1 837.5L1229.1 838.8L1226.1 839.1L1223.1 838.5L1220.1 836.9L1214.1 830.7L1211.1 825.5L1205.4 811.2L1201.4 805.2L1196.1 800.3L1193.1 798.5L1187.1 796.3L1178.1 795.5L1169.1 796.8L1160.1 800L1144.5 808.2L1136.8 811.2L1130.1 812.5L1115.1 813.6L1109.1 814.9L1106.1 816.4L1103.1 819L1098.1 826.2L1092.8 838.2L1085.1 859.3L1079.1 870.9L1073.1 878.4L1063.9 886.2L1053.5 892.2L1040.1 897.2L1007.1 905.6L962.1 914.8L950.1 918.7L935.1 925.3L923.1 931.9L911.1 940.3L902.1 948.5L887.1 964.3L877.7 973.2L866.5 982.2L851.1 993.2Z"/><path fill="#fc7d19" fill-rule="evenodd" d="M851.1 736.2L1242.8 736.2L1243.7 751.2L1243.1 757.2L1235.9 778.2L1234.9 784.2L1235.5 793.2L1239 811.2L1238.8 817.2L1238.2 820.2L1235.1 826.9L1232.1 830.4L1229.3 832.2L1226.1 833L1223.1 832.6L1220.1 831.2L1217.1 828.7L1214.1 824.4L1208.8 808.2L1205.6 802.2L1203.2 799.2L1199.1 795.6L1195.2 793.2L1190.1 791.2L1184.1 790.2L1175.1 790.5L1166.1 792.7L1157.1 796.9L1142.9 805.2L1136.1 808L1127.1 809.5L1112.1 810.4L1106.1 811.8L1103.1 813.4L1100.1 815.8L1095.1 823.2L1082.1 855.6L1076.1 866.5L1072.5 871.2L1067.1 876.9L1058.1 883.6L1049.1 888.6L1040.2 892.2L1019.1 897.9L1007.1 900.2L995.1 901.8L959.1 903.4L950.1 904.4L935.1 908.2L917.1 913.9L908.1 917.3L899.7 922.2L893.1 928.5L887.1 936.1L873.8 955.2L868.5 961.2L857.5 970.2L851.1 974.3Z"/><path fill="#fb7716" fill-rule="evenodd" d="M851.1 736.2L1236.6 736.2L1238.5 751.2L1238.2 757.2L1235.7 766.2L1228.5 784.2L1227.7 790.2L1228.7 796.3L1233 808.2L1233.7 814.2L1233.4 817.2L1232.1 820.8L1229.1 824.5L1226.1 826L1223.1 826L1220.1 824.4L1217.1 820.3L1213 802.2L1209.8 796.2L1205.1 791.8L1196.1 786.6L1187.1 784.1L1178.1 783.8L1169.1 785.7L1160.1 789.8L1145.1 799.8L1136.1 804.3L1127.1 806.2L1109.1 807.4L1103.1 808.9L1098.6 811.2L1095.3 814.2L1091.2 820.2L1081.8 844.2L1076.1 856.6L1070.3 865.2L1064.1 871.9L1052.8 880.2L1040.1 886.7L1032.7 889.2L1022.1 892L1004.1 894.8L992.1 895.1L980.1 893.8L968.1 890.6L958.9 886.2L954.7 883.2L949.6 877.2L947.1 871.2L944.1 859.2L941.4 853.2L939.3 850.2L936 847.2L932.1 845.6L929.1 845.4L926.1 846L922.8 847.2L918.3 850.2L905.1 863.7L899.1 868.2L893.1 870.4L881.1 872.7L875.1 874.5L869.5 877.2L866.1 880.2L862.2 886.2L859.2 895.2L857.9 904.2L856.4 928.2L854.1 937.2L851.1 942.7Z"/><path fill="#fb7113" fill-rule="evenodd" d="M851.1 736.2L1229.4 736.2L1232.3 751.2L1232.4 757.2L1231.5 763.2L1229.1 770.5L1223.1 778.9L1220.1 782L1217.1 783.9L1214.1 784.4L1211.1 784L1196.1 778.4L1187.1 776.2L1181.1 775.8L1175.1 776.3L1169.1 777.9L1163.1 780.8L1157.1 784.9L1143.2 796.2L1136.1 800.3L1127.1 802.8L1109.1 804.1L1103.1 805L1094.8 808.2L1090.8 811.2L1086.2 817.2L1083.3 823.2L1076.1 843.2L1070.1 855L1064.8 862.2L1058.1 868.9L1046.2 877.2L1032.9 883.2L1025.1 885.5L1016.1 887.4L1007.1 888.4L1001.1 888.4L992.1 887.3L986.1 885.6L980.1 882.9L976 880.2L972.6 877.2L970.1 874.2L966.5 868.2L959.1 847.2L956.3 841.2L953.1 836.3L949.4 832.2L945.1 829.2L941.1 827.6L935.1 826.4L926.1 827.3L920.1 829.2L914 832.2L905.4 838.2L887.1 853.4L863.1 868.7L851.1 879.7Z"/><path fill="#fa6b10" fill-rule="evenodd" d="M851.1 736.2L1219.6 736.2L1223.6 751.2L1224.1 760.2L1223.1 764.4L1220.1 768.7L1217.1 770.5L1214.1 771.4L1208.1 771.3L1193.1 766.8L1184.1 764.8L1175.1 764.7L1169.1 766.2L1166.1 767.5L1160.1 771.5L1154.1 777.3L1142.8 790.2L1139.4 793.2L1134.7 796.2L1130.1 798.1L1124.1 799.5L1100.1 801.6L1094.1 803.1L1089.2 805.2L1085 808.2L1079.8 814.2L1076.6 820.2L1070.3 838.2L1066.4 847.2L1060.6 856.2L1052.1 865.1L1043.1 871.5L1030.7 877.2L1016.1 880.8L1004.1 881.4L998.1 880.4L992.1 878.1L986.4 874.2L983.1 871L977.6 862.3L968.1 838.2L964.6 832.2L959.6 826.2L956 823.2L950.1 819.9L944.1 818L938.9 817.2L932.1 817.3L923.1 818.9L914.1 822.1L906 826.2L897.1 832.2L872.1 852.1L851.1 866.6Z"/><path fill="#f9650d" fill-rule="evenodd" d="M851.1 736.2L1196.2 736.2L1194.5 739.2L1193.1 740.2L1190.1 741.2L1172.1 743.2L1166.1 745.4L1160.1 749.1L1154.8 754.2L1151.1 759.3L1148.1 764.6L1139.1 784.3L1134 790.2L1130.1 792.7L1124.1 794.9L1118.1 796L1100.1 797.1L1091.1 798.5L1085.1 800.7L1079.1 804.6L1075.2 808.2L1070.8 814.2L1067.7 820.2L1061.2 838.2L1058.4 844.2L1054.7 850.2L1049.1 857L1043.1 862.3L1032.8 868.2L1022.1 871.8L1010.1 873.2L1004.1 872.5L1001.1 871.5L996.2 868.2L993.2 865.2L987.6 856.2L978.5 835.2L974.9 829.2L969.9 823.2L962.3 817.2L956.5 814.2L950.1 812.2L944.1 811.1L932.1 811L923.1 812.5L914.1 815.1L902.2 820.2L887.9 829.2L863.1 848.7L851.1 856.5Z"/><path fill="#f6600c" fill-rule="evenodd" d="M851.1 736.2L1146.6 736.2L1139.1 747.3L1135.5 754.2L1130.1 769.2L1127.6 781.2L1126.1 784.2L1124.1 786.4L1121.1 788.3L1115.1 790.4L1097.1 791.8L1088.1 793.5L1082.1 795.7L1075.7 799.2L1068.4 805.2L1063.6 811.2L1060.3 817.2L1051 838.2L1047.3 844.2L1043.1 849.3L1037.1 854.6L1031.1 858.1L1025.1 860.4L1016.1 861.6L1010.1 860.7L1006.9 859.2L1003.2 856.2L998.1 849.4L987.4 829.2L982.9 823.2L976.7 817.2L971.1 813.5L962.1 809.4L956.1 807.6L947.1 806.1L938.1 805.8L926.1 806.9L914.1 809.7L901.4 814.2L893.1 818.2L884.4 823.2L857.1 843.5L851.1 847.1Z"/><path fill="#f45a0a" fill-rule="evenodd" d="M851.1 736.2L1129.2 736.2L1123.2 748.2L1114.2 772.3L1110.9 778.2L1106.1 781.8L1088.1 787.4L1079.1 791.1L1070.1 795.8L1064.9 799.2L1061.1 802.5L1056.2 808.2L1046.1 827.2L1040.1 835.5L1037.1 838.5L1031.1 842.7L1028.1 844L1022.1 845.1L1016.1 843.9L1010.1 839.7L994.8 820.2L989.1 815L983.5 811.3L977.6 808.2L968.1 804.9L956.1 802.3L947.1 801.5L935.1 801.7L923.1 803.2L911.1 805.9L896.1 811L888.4 814.2L878.1 819.8L854.1 836.4L851.1 838Z"/><path fill="#f15509" fill-rule="evenodd" d="M851.1 736.2L1116.5 736.2L1107.8 760.2L1104.8 766.2L1100.3 772.2L1097.1 775.2L1091.1 779.3L1062.4 793.2L1053.1 799.2L1047.8 805.2L1040.1 818.1L1037.1 821.4L1031.1 825.2L1025.1 826.1L1019.1 824.2L1003.1 811.2L995.1 806.7L986.1 803.2L977.1 800.7L965.1 798.6L953.1 797.5L944.1 797.4L932.1 798.2L920.1 799.9L908.1 802.6L893.1 807.1L876.3 814.2L851.1 829.5Z"/><path fill="#ee4f07" fill-rule="evenodd" d="M851.1 736.2L1106.9 736.2L1101 757.2L1096.1 766.2L1090.7 772.2L1085.1 776.6L1076.1 781.6L1053.9 790.2L1047.5 793.2L1038.7 799.2L1034.1 804.4L1031.1 806.8L1028.1 806.8L1015.4 802.2L1004.7 799.2L983.1 795.2L962.1 793.5L938.1 794.2L914.1 797.5L890.1 803.7L875.1 809.2L851.1 821.8Z"/><path fill="#eb4906" fill-rule="evenodd" d="M851.1 736.2L1099.4 736.2L1096 754.2L1093.6 760.2L1091.1 764.3L1086.9 769.2L1082.1 773.2L1076.1 776.8L1067.1 780.3L1034.1 789.7L1025.1 791.1L1016.1 791L986.1 789.1L968.1 789L944.1 790.3L919.4 793.2L902.1 796.5L880.8 802.2L869.1 806.6L851.1 814.9Z"/><path fill="#e84304" fill-rule="evenodd" d="M851.1 736.2L1092.7 736.2L1090.7 754.2L1088.4 760.2L1086.5 763.2L1083.9 766.2L1079.1 770.2L1073.1 773.5L1067.1 775.6L1052.1 778.7L1031.1 781.6L977.1 783.7L941.1 787.4L917.1 790.4L899.1 793.6L881.1 798L867.4 802.2L851.1 808.6Z"/><path fill="#e53d03" fill-rule="evenodd" d="M851.1 736.2L1086 736.2L1086 751.2L1084.7 757.2L1082.1 761.8L1079.1 764.9L1073.1 768.7L1064.1 771.4L1043.1 773.7L1019.1 774.1L1001.1 775.4L914.1 787.6L898.2 790.2L881.1 793.9L866.1 797.9L851.1 802.7Z"/><path fill="#e13602" fill-rule="evenodd" d="M851.1 736.2L1078.8 736.2L1079.9 754.2L1078.9 757.2L1076.1 760.8L1070.1 764.4L1064.1 765.9L1046.1 766.8L1022.1 765.9L1007.1 767.1L992.1 769.9L953.1 778.8L905.1 785.5L887.1 788.6L869.1 792.5L851.1 797.1Z"/><path fill="#dc2f01" fill-rule="evenodd" d="M851.1 736.2L1070.3 736.2L1070.9 751.2L1069.8 754.2L1067.1 756.6L1061.1 758.4L1049.1 758.8L1025.1 757.2L1010.1 758.1L995.1 761.5L968.1 771.2L953.1 775.1L893.1 783.6L851.1 791.7Z"/><path fill="#d72701" fill-rule="evenodd" d="M851.1 736.2L1057 736.2L1056.2 739.2L1054.4 742.2L1052.1 744.1L1049.5 745.2L1043.1 746.3L1016.1 747.2L1001.1 750.1L989.1 754.7L968.4 766.2L956.1 770.5L944.1 772.7L890.1 779.8L851.1 786.2Z"/><path fill="#d22000" fill-rule="evenodd" d="M851.1 736.2L1003 736.2L986.1 743.9L980.1 748.2L968.1 760.2L963.4 763.2L956.1 766.1L947.1 767.8L851.1 780.5Z"/><path fill="#cd1900" fill-rule="evenodd" d="M851.1 736.2L970.7 736.2L966.5 742.2L965.3 745.2L964.5 751.2L963.4 754.2L961 757.2L956 760.2L950.1 761.8L929.1 763.6L914.1 766.4L851.1 774Z"/><path fill="#c71200" fill-rule="evenodd" d="M851.1 736.2L954.2 736.2L950.1 747.9L947.1 750.8L944.1 751.9L938.1 752.6L923.1 753.1L910.9 757.2L899.1 759.9L851.1 766Z"/><path fill="#c10a00" fill-rule="evenodd" d="M851.1 736.2L920.6 736.2L905.1 744L896.1 747.4L890.1 748.7L869.1 751.5L851.1 755.5Z"/><path fill="#bb0300" fill-rule="evenodd" d="M851.1 736.2L874.4 736.2L851.1 743.2Z"/></g></g>
<polygon fill="#383838" points="860.1,981.5 870.2,981.5 946.6,940.3 1031.5,850.3 1064.4,959.3 1125,983.1 1183.3,869.7 1224.3,972.8 1287.5,963.7 1371.8,983.1 1452.2,893.9 1466.4,893.9 1466.4,983.6 860.1,983.6"/>
<g fill="#2b2f36" fill-opacity="0.88"><circle cx="870.23" cy="757.28" r="2.25"/><circle cx="946.67" cy="757.28" r="2.25"/><circle cx="1031.6" cy="757.28" r="2.25"/><circle cx="1064.44" cy="757.28" r="2.25"/><circle cx="1125.02" cy="757.28" r="2.25"/><circle cx="1183.34" cy="757.28" r="2.25"/><circle cx="1224.34" cy="757.28" r="2.25"/><circle cx="1287.53" cy="757.28" r="2.25"/><circle cx="1371.89" cy="757.28" r="2.25"/><circle cx="1452.29" cy="757.28" r="2.25"/><circle cx="1183.34" cy="765.24" r="2.25"/><circle cx="1287.53" cy="765.24" r="2.25"/><circle cx="1125.02" cy="789.11" r="2.25"/><circle cx="1452.29" cy="793.09" r="2.25"/><circle cx="1031.6" cy="809" r="2.25"/><circle cx="1224.34" cy="824.91" r="2.25"/><circle cx="1064.44" cy="836.84" r="2.25"/><circle cx="1031.6" cy="840.82" r="2.25"/><circle cx="946.67" cy="844.8" r="2.25"/><circle cx="1125.02" cy="852.76" r="2.25"/><circle cx="1183.34" cy="856.74" r="2.25"/><circle cx="1287.53" cy="864.69" r="2.25"/><circle cx="1452.29" cy="884.58" r="2.25"/><circle cx="1064.44" cy="948.23" r="2.25"/><circle cx="1125.02" cy="980.05" r="2.25"/><circle cx="1224.34" cy="964.14" r="2.25"/><circle cx="1287.53" cy="956.19" r="2.25"/><circle cx="1371.89" cy="976.08" r="2.25"/></g>
<g clip-path="url(#clipF)"><path d="M860.2 773.5C861.8 773.2 866.4 772.5 869.5 772.1C872.5 771.6 875.6 771.2 878.7 770.8C881.8 770.4 884.8 770 887.9 769.6C891 769.2 894.1 768.9 897.2 768.5C900.2 768.1 903.3 767.8 906.4 767.5C909.5 767.1 914.1 766.6 915.7 766.5M953.1 761.7C954.4 761.2 958.7 759.8 960.6 758.5C962.5 757.1 963.7 755.8 964.4 753.5C965.1 751.2 964.8 746.2 964.9 744.7M860.2 794.7C861.6 794.4 865.5 793.4 868.2 792.7C870.8 792.1 873.5 791.5 876.1 790.9C878.8 790.3 881.5 789.8 884.1 789.3C886.8 788.7 889.5 788.2 892.1 787.7C894.8 787.2 897.5 786.8 900.2 786.4C902.8 785.9 905.5 785.5 908.2 785.1C910.9 784.8 913.6 784.4 916.3 784C919 783.7 921.7 783.4 924.4 783C927.1 782.7 929.8 782.3 932.5 782C935.2 781.6 937.8 781.3 940.5 780.9C943.2 780.5 945.9 780.1 948.6 779.6C951.3 779.2 953.9 778.7 956.6 778.2C959.3 777.6 961.9 777.1 964.6 776.5C967.2 775.9 969.9 775.2 972.5 774.6C975.2 773.9 977.8 773.3 980.5 772.6C983.1 772 985.7 771.3 988.4 770.7C991 770.1 993.7 769.5 996.3 769C999 768.5 1001.6 768 1004.3 767.6C1007 767.1 1009.6 766.8 1012.3 766.5C1015 766.2 1017.7 766 1020.4 765.9C1023.1 765.8 1025.8 765.8 1028.5 766C1031.3 766.1 1035.4 766.6 1036.8 766.7M1070.5 764.7C1071.5 764.1 1075.1 762.6 1076.7 761C1078.4 759.3 1080.1 757.4 1080.5 754.7C1080.9 752 1079.4 746.4 1079.2 744.7M878.2 807.7C879.5 807.2 883.5 805.7 886.1 804.9C888.7 804 891.4 803.1 894 802.4C896.7 801.6 899.4 800.8 902 800.2C904.7 799.5 907.4 798.8 910.1 798.3C912.8 797.7 915.5 797.1 918.2 796.7C920.9 796.2 923.6 795.8 926.4 795.4C929.1 795 931.8 794.7 934.6 794.4C937.3 794.2 940.1 793.9 942.8 793.8C945.5 793.6 948.3 793.5 951.1 793.4C953.8 793.4 956.6 793.4 959.3 793.4C962.1 793.5 964.9 793.6 967.6 793.7C970.4 793.9 973.1 794.1 975.9 794.3C978.7 794.6 981.4 794.9 984.2 795.3C986.9 795.7 989.7 796.1 992.4 796.6C995.2 797.1 997.9 797.6 1000.6 798.2C1003.3 798.8 1006 799.5 1008.7 800.2C1011.4 800.9 1014 801.7 1016.6 802.5C1019.2 803.4 1021.9 804.2 1024.4 805.2C1026.9 806.3 1030.5 808.1 1031.8 808.7M1031.8 808.7C1032.6 807.4 1034.7 803.5 1036.6 801.4C1038.4 799.2 1040.5 797.5 1042.8 795.9C1045 794.4 1047.5 793.1 1050 791.9C1052.5 790.6 1055.2 789.7 1057.9 788.6C1060.5 787.6 1063.3 786.7 1066 785.7C1068.7 784.7 1071.5 783.7 1074.1 782.5C1076.7 781.4 1079.3 780.1 1081.7 778.7C1084.1 777.2 1086.4 775.7 1088.6 773.9C1090.7 772.2 1092.7 770.3 1094.4 768.1C1096.2 766 1097.8 763.7 1099.1 761.2C1100.4 758.8 1101.5 756.1 1102.3 753.4C1103.2 750.6 1103.9 746.2 1104.2 744.7M860.2 850.9C861.3 850 864.6 847.6 866.7 846C868.8 844.3 870.9 842.6 873 841C875 839.3 877.1 837.6 879.1 836C881.2 834.3 883.2 832.7 885.3 831.1C887.4 829.5 889.5 828 891.7 826.5C893.9 825 896.1 823.6 898.4 822.2C900.7 820.9 903.1 819.6 905.6 818.5C908 817.3 910.6 816.2 913.1 815.3C915.7 814.3 918.4 813.5 921 812.8C923.7 812.1 926.4 811.6 929 811.2C931.7 810.8 934.4 810.6 937.1 810.6C939.7 810.5 942.4 810.6 945 811C947.5 811.4 950.1 811.9 952.6 812.7C955.1 813.4 957.5 814.4 959.8 815.6C962.1 816.9 964.3 818.3 966.4 819.9C968.4 821.5 970.3 823.4 972 825.4C973.7 827.4 975.2 829.6 976.6 831.9C978 834.1 979.2 836.6 980.4 839.1C981.5 841.5 982.5 844.1 983.5 846.6C984.6 849.2 985.5 851.7 986.6 854.2C987.7 856.6 988.8 859 990.1 861.2C991.5 863.4 993 865.5 994.8 867.4C996.7 869.2 1000.2 871.3 1001.3 872.1M1038 865.8C1039.2 865 1042.7 862.9 1044.8 861.1C1046.9 859.4 1049 857.4 1050.8 855.3C1052.6 853.3 1054.3 851 1055.8 848.7C1057.4 846.4 1058.7 843.9 1059.9 841.4C1061.1 838.9 1062 836.3 1063 833.7C1063.9 831.1 1064.6 828.4 1065.6 825.8C1066.5 823.2 1067.4 820.5 1068.6 818C1069.9 815.6 1071.2 813.1 1072.9 810.9C1074.6 808.6 1076.6 806.5 1078.7 804.7C1080.8 803 1083.1 801.4 1085.5 800.3C1087.9 799.2 1090.5 798.5 1093.2 798C1095.8 797.5 1098.6 797.4 1101.4 797.2C1104.2 797 1107.1 797.1 1110 796.9C1112.9 796.7 1115.9 796.7 1118.7 796.3C1121.5 795.9 1124.3 795.4 1126.8 794.5C1129.4 793.6 1131.8 792.6 1133.8 791C1135.8 789.4 1137.5 787.3 1139 785C1140.4 782.7 1141.5 779.9 1142.7 777.3C1143.9 774.6 1144.8 771.8 1146 769.2C1147.1 766.7 1148.2 764.1 1149.6 761.8C1150.9 759.4 1152.2 757.1 1153.9 755.1C1155.6 753 1157.4 751 1159.5 749.3C1161.7 747.6 1165.7 745.5 1166.9 744.7M1044.3 890.8C1045.5 890.2 1049.2 888.7 1051.6 887.4C1054 886.2 1056.5 884.8 1058.8 883.3C1061.1 881.8 1063.3 880.1 1065.4 878.4C1067.6 876.6 1069.6 874.7 1071.4 872.7C1073.2 870.7 1074.9 868.6 1076.4 866.4C1077.9 864.2 1079.2 861.8 1080.4 859.4C1081.6 857 1082.7 854.5 1083.8 852C1084.8 849.5 1085.8 846.9 1086.8 844.3C1087.8 841.7 1088.7 839.1 1089.6 836.5C1090.6 834 1091.6 831.4 1092.7 828.8C1093.8 826.3 1094.9 823.7 1096.2 821.3C1097.6 818.9 1099.1 816.4 1101 814.7C1102.8 813 1105.1 811.8 1107.5 811C1110 810.2 1112.8 810.2 1115.6 810C1118.3 809.8 1121.2 809.9 1124 809.7C1126.8 809.6 1129.7 809.5 1132.4 809C1135 808.5 1137.6 807.7 1140 806.7C1142.5 805.8 1144.8 804.4 1147.1 803.1C1149.4 801.8 1151.7 800.2 1154 798.8C1156.4 797.5 1158.7 796 1161.2 794.8C1163.7 793.6 1166.3 792.6 1169 791.8C1171.7 791 1174.6 790.5 1177.3 790.2C1180.1 790 1182.9 789.9 1185.6 790.3C1188.2 790.6 1190.9 791.3 1193.3 792.3C1195.7 793.3 1198.1 794.7 1200.1 796.4C1202.2 798 1204 800 1205.6 802.2C1207.1 804.4 1208.4 806.9 1209.3 809.5C1210.3 812.1 1210.6 815 1211.4 817.7C1212.1 820.3 1213.4 824.1 1213.8 825.4M1234.8 827.9C1235.5 826.6 1238 822.7 1238.7 820C1239.4 817.3 1239.3 814.5 1239.2 811.7C1239 808.9 1238.2 806 1237.7 803.1C1237.1 800.2 1236.2 797.3 1235.7 794.5C1235.2 791.6 1234.6 788.8 1234.6 786C1234.7 783.2 1235.1 780.4 1235.8 777.7C1236.5 775 1237.8 772.3 1238.8 769.6C1239.9 766.9 1241.2 764.3 1242 761.6C1242.9 758.8 1243.8 756.1 1244 753.3C1244.1 750.5 1243.2 746.2 1243.1 744.7M1048 907C1049.3 906.6 1053.1 905.4 1055.6 904.5C1058.1 903.5 1060.7 902.5 1063.2 901.4C1065.8 900.2 1068.3 899 1070.6 897.6C1073 896.2 1075.3 894.8 1077.4 893.1C1079.5 891.5 1081.5 889.7 1083.2 887.7C1085 885.8 1086.5 883.7 1087.9 881.4C1089.4 879.2 1090.6 876.8 1091.7 874.4C1092.8 871.9 1093.7 869.3 1094.5 866.7C1095.4 864.1 1096.1 861.3 1096.8 858.6C1097.6 855.9 1098.2 853.1 1099 850.4C1099.7 847.8 1100.5 845.1 1101.5 842.6C1102.4 840.1 1103.5 837.7 1104.8 835.5C1106.2 833.3 1107.7 831.2 1109.5 829.5C1111.4 827.8 1113.5 826.2 1116 825.2C1118.4 824.2 1123 823.7 1124.5 823.4M1155.7 813.9C1156.9 813.4 1160.3 811.8 1162.8 811C1165.4 810.3 1168.2 809.7 1171 809.4C1173.7 809.1 1176.7 809 1179.3 809.3C1182 809.6 1184.7 810.2 1187.1 811.1C1189.5 812.1 1191.7 813.4 1193.6 815C1195.6 816.6 1197.4 818.5 1199 820.6C1200.6 822.7 1202.1 825 1203.4 827.4C1204.7 829.8 1205.8 832.5 1207 835C1208.1 837.5 1209.1 840.3 1210.2 842.7C1211.4 845.1 1212.6 847.6 1214.1 849.6C1215.6 851.7 1217.3 853.6 1219.5 855C1221.6 856.3 1224.3 857.4 1226.9 857.7C1229.4 858 1232.4 857.8 1234.7 856.7C1237 855.6 1239 853.4 1240.8 851.3C1242.5 849.2 1243.9 846.6 1245.1 844.2C1246.4 841.9 1247.4 839.4 1248.4 836.9C1249.3 834.5 1250.1 831.9 1251 829.4C1251.8 826.9 1252.5 824.4 1253.4 821.9C1254.3 819.3 1255.2 816.8 1256.1 814.3C1257 811.7 1258.1 809.2 1258.9 806.7C1259.8 804.2 1260.7 801.6 1261.4 799.1C1262 796.5 1262.6 793.9 1262.9 791.3C1263.2 788.7 1263.3 786.1 1263.1 783.4C1263 780.8 1262.4 778.1 1262 775.4C1261.6 772.8 1260.9 770.1 1260.6 767.4C1260.3 764.8 1259.9 762.1 1260 759.5C1260.1 757 1260.4 754.4 1261.3 751.9C1262.2 749.5 1264.8 745.9 1265.5 744.7M1404.1 744.7C1404.2 746.2 1404.6 750.6 1404.4 753.6C1404.2 756.6 1403.5 759.7 1402.9 762.7C1402.4 765.7 1401.5 768.8 1401 771.8C1400.6 774.8 1400 777.8 1400.1 780.7C1400.2 783.7 1400.4 786.5 1401.5 789.3C1402.6 792 1405.8 795.9 1406.6 797.2M1427.8 816.4C1429.7 816.9 1435.1 818.9 1439.1 819.6C1443 820.4 1446.9 820.7 1451.5 820.9C1456.2 821.1 1464.4 820.9 1467 820.9M1053 917C1054.2 916.5 1057.9 914.9 1060.4 914.1C1063 913.3 1065.8 912.7 1068.5 911.9C1071.2 911.2 1073.9 910.7 1076.6 909.9C1079.2 909.1 1081.9 908.3 1084.4 907.2C1086.8 906.1 1089.2 904.8 1091.3 903.2C1093.5 901.6 1095.4 899.7 1097.2 897.6C1099 895.6 1100.5 893.3 1101.9 890.9C1103.3 888.6 1104.4 886.1 1105.4 883.6C1106.4 881.1 1107.2 878.6 1107.9 876C1108.7 873.4 1109.3 870.8 1109.9 868.1C1110.6 865.4 1111.1 862.7 1111.9 859.9C1112.6 857.2 1113.3 854.2 1114.4 851.7C1115.5 849.2 1116.8 846.4 1118.5 844.7C1120.3 843.1 1122.6 842.4 1125.1 842C1127.6 841.7 1130.6 842.5 1133.3 842.6C1136.1 842.8 1139 843.3 1141.6 842.9C1144.2 842.6 1146.6 841.6 1149 840.5C1151.4 839.3 1153.5 837.6 1155.8 836C1158.1 834.4 1160.4 832.4 1162.7 831C1165.1 829.5 1167.5 828 1170.1 827.3C1172.7 826.7 1175.5 826.5 1178.1 826.9C1180.7 827.3 1183.5 828.4 1185.8 829.7C1188.1 831 1190.2 832.8 1191.9 834.7C1193.7 836.7 1195.1 838.9 1196.4 841.3C1197.7 843.7 1198.7 846.3 1199.7 848.9C1200.7 851.5 1201.5 854.2 1202.5 856.9C1203.5 859.5 1204.4 862.3 1205.5 864.7C1206.7 867.2 1207.9 869.7 1209.5 871.8C1211.1 873.9 1212.9 875.8 1215.1 877.3C1217.3 878.8 1220 880 1222.6 880.6C1225.2 881.3 1228.1 881.5 1230.7 881.1C1233.3 880.8 1235.9 879.8 1238.3 878.5C1240.6 877.2 1242.8 875.3 1244.8 873.4C1246.8 871.5 1248.6 869.2 1250.2 867C1251.8 864.7 1253.1 862.4 1254.3 860C1255.6 857.5 1256.6 855 1257.6 852.5C1258.6 850 1259.5 847.4 1260.4 844.8C1261.2 842.2 1262 839.6 1262.9 837C1263.7 834.4 1264.5 831.8 1265.4 829.3C1266.3 826.7 1267.3 824.1 1268.4 821.7C1269.5 819.2 1270.7 816.8 1272.1 814.5C1273.5 812.1 1275 809.9 1276.7 807.8C1278.5 805.7 1280.3 803.6 1282.4 801.8C1284.4 800 1286.5 798.4 1288.9 797C1291.2 795.6 1293.6 794.3 1296.2 793.4C1298.7 792.5 1302.9 791.8 1304.2 791.4M1335.4 789.2C1336.8 789.7 1340.8 790.9 1343.4 792.1C1345.9 793.2 1348.2 794.5 1350.5 795.9C1352.8 797.3 1354.9 798.9 1357 800.6C1359 802.3 1361 804.1 1362.8 806C1364.7 807.9 1366.5 809.9 1368.2 811.9C1369.9 814 1371.6 816.1 1373.2 818.3C1374.7 820.5 1376.3 822.7 1377.8 825C1379.3 827.3 1380.7 829.6 1382.2 831.9C1383.6 834.3 1385 836.6 1386.4 839C1387.7 841.4 1389.1 843.8 1390.5 846.2C1391.8 848.6 1393.2 851 1394.5 853.4C1395.9 855.8 1397.3 858.1 1398.7 860.5C1400.1 862.9 1401.5 865.2 1402.9 867.5C1404.4 869.8 1405.8 872.1 1407.3 874.4C1408.8 876.6 1410.4 878.8 1412 881C1413.6 883.2 1415.2 885.3 1416.9 887.4C1418.6 889.5 1420.4 891.5 1422.2 893.4C1424 895.4 1425.9 897.3 1427.9 899.1C1429.9 901 1432 902.8 1434.1 904.4C1436.2 906.1 1439.7 908.5 1440.8 909.3M1056.8 929.5C1058.1 929.2 1062 928 1064.7 927.6C1067.3 927.2 1070 927.1 1072.7 927.1C1075.3 927 1078 927.2 1080.7 927.3C1083.4 927.4 1086.1 927.6 1088.8 927.7C1091.5 927.7 1094.2 927.7 1096.9 927.5C1099.5 927.3 1102.2 926.9 1104.9 926.3C1107.5 925.8 1110.1 925 1112.7 924.1C1115.3 923.3 1117.8 922.2 1120.3 921C1122.7 919.9 1125.2 918.5 1127.5 917.1C1129.8 915.7 1132.1 914.2 1134.2 912.5C1136.4 910.9 1138.5 909.2 1140.4 907.3C1142.4 905.5 1144.3 903.5 1146 901.5C1147.8 899.5 1149.4 897.3 1150.9 895.1C1152.4 892.9 1153.8 890.6 1155 888.3C1156.3 885.9 1157.4 883.5 1158.5 881C1159.7 878.6 1160.7 876 1161.8 873.6C1162.9 871.1 1164 868.5 1165.3 866.1C1166.5 863.6 1167.8 861 1169.4 858.7C1171 856.5 1172.6 853.7 1174.7 852.4C1176.8 851.1 1179.8 850.4 1182 851C1184.2 851.6 1186.4 853.9 1187.8 856C1189.3 858 1189.9 860.6 1190.5 863.2C1191.1 865.8 1191.1 868.7 1191.4 871.5C1191.7 874.3 1191.7 877.2 1192.2 880C1192.7 882.7 1193.4 885.5 1194.4 887.9C1195.5 890.4 1197 892.7 1198.7 894.8C1200.4 896.8 1202.4 898.7 1204.6 900.2C1206.7 901.7 1209.1 903 1211.6 903.9C1214.1 904.8 1216.8 905.3 1219.5 905.6C1222.2 905.8 1225 905.7 1227.7 905.4C1230.4 905 1233.2 904.4 1235.8 903.5C1238.4 902.6 1240.9 901.4 1243.2 900.1C1245.5 898.7 1247.7 897.1 1249.7 895.3C1251.6 893.6 1253.5 891.6 1255.1 889.5C1256.7 887.4 1258.2 885.1 1259.5 882.7C1260.9 880.4 1262 877.9 1263 875.4C1264 872.9 1264.8 870.2 1265.6 867.6C1266.3 865 1266.9 862.3 1267.6 859.6C1268.2 856.9 1268.8 854.3 1269.5 851.6C1270.3 849 1271 846.4 1271.9 843.9C1272.9 841.4 1273.9 838.9 1275.2 836.6C1276.5 834.2 1278 832 1279.7 829.9C1281.3 827.8 1283.2 825.9 1285.2 824.1C1287.3 822.4 1289.5 820.8 1291.8 819.5C1294.1 818.2 1296.6 817.1 1299.2 816.3C1301.8 815.5 1304.6 814.9 1307.3 814.7C1310.1 814.4 1312.9 814.4 1315.7 814.6C1318.4 814.9 1321.2 815.4 1323.8 816.2C1326.4 817 1328.9 818.1 1331.2 819.4C1333.5 820.7 1335.6 822.3 1337.6 824C1339.6 825.7 1341.4 827.7 1343.2 829.8C1344.9 831.8 1346.5 834 1348 836.3C1349.6 838.5 1351 840.9 1352.4 843.2C1353.8 845.5 1355.1 847.9 1356.4 850.3C1357.7 852.6 1359 855 1360.2 857.4C1361.4 859.8 1362.6 862.2 1363.8 864.7C1365 867.1 1366.1 869.5 1367.3 872C1368.4 874.4 1369.6 876.8 1370.8 879.3C1371.9 881.7 1373.1 884.2 1374.3 886.7C1375.5 889.1 1376.7 891.5 1378 894C1379.2 896.4 1380.5 898.8 1381.8 901.1C1383.2 903.5 1384.5 905.8 1386 908.1C1387.4 910.4 1388.9 912.6 1390.5 914.8C1392 917 1393.7 919.1 1395.4 921.2C1397.1 923.2 1398.9 925.2 1400.8 927.1C1402.7 929 1404.6 930.9 1406.7 932.6C1408.8 934.3 1412.2 936.7 1413.3 937.5M1208.8 933.8C1210.1 933.4 1213.8 932.3 1216.4 931.7C1219 931.2 1221.7 930.8 1224.4 930.5C1227.1 930.1 1229.9 929.9 1232.6 929.5C1235.3 929.2 1238.1 928.9 1240.8 928.4C1243.5 927.9 1246.1 927.4 1248.7 926.6C1251.2 925.8 1253.7 925 1256 923.7C1258.3 922.5 1260.6 921.1 1262.6 919.4C1264.6 917.7 1266.5 915.7 1268.1 913.6C1269.7 911.6 1271.2 909.2 1272.3 906.8C1273.5 904.4 1274.4 901.9 1275 899.3C1275.7 896.7 1275.9 893.9 1276.1 891.2C1276.3 888.5 1276.2 885.7 1276.2 882.9C1276.3 880.2 1276.1 877.4 1276.3 874.7C1276.4 872 1276.6 869.2 1277.2 866.7C1277.8 864.1 1278.6 861.5 1279.8 859.2C1281 856.8 1282.7 854.5 1284.5 852.8C1286.4 851 1288.7 849.4 1291.1 848.4C1293.5 847.5 1296.3 847 1298.8 847C1301.4 847 1304 847.6 1306.5 848.4C1308.9 849.3 1311.3 850.6 1313.5 852.1C1315.8 853.5 1317.9 855.4 1319.9 857.3C1321.9 859.2 1323.8 861.4 1325.5 863.6C1327.2 865.7 1328.7 868 1330.1 870.3C1331.5 872.6 1332.8 874.9 1334 877.3C1335.1 879.7 1336.2 882.1 1337.2 884.6C1338.2 887.1 1339.1 889.6 1340 892.1C1340.9 894.6 1341.7 897.1 1342.5 899.7C1343.3 902.2 1344.1 904.8 1344.9 907.3C1345.6 909.9 1346.4 912.5 1347.1 915.1C1347.7 917.7 1348.4 920.3 1349 922.9C1349.7 925.5 1350.2 928.1 1350.8 930.8C1351.3 933.4 1351.8 936 1352.3 938.7C1352.8 941.3 1353.2 944 1353.6 946.6C1354 949.3 1354.3 951.9 1354.6 954.6C1354.9 957.3 1355.2 959.9 1355.3 962.6C1355.5 965.3 1355.7 968 1355.8 970.6C1355.9 973.3 1355.9 977.4 1355.9 978.7M1099.5 972.7C1100.8 971.7 1104.6 968.6 1107.4 966.9C1110.2 965.2 1113.3 963.6 1116.3 962.5C1119.4 961.4 1122.6 960.5 1125.9 960.2C1129.1 959.9 1134.1 960.6 1135.7 960.7" fill="none" stroke="#160c04" stroke-opacity="0.78" stroke-width="0.85" stroke-linejoin="round"/><g font-weight="700" font-size="14.7" text-anchor="middle" fill="#0c0c0c"><text transform="translate(934.9,765.2) scale(0.925,1) rotate(-3)" y="5.2">0.9</text><text transform="translate(1053.8,767.2) scale(0.925,1) rotate(3)" y="5.2">0.8</text><text transform="translate(862.5,809.7) scale(0.925,1) rotate(-5)" y="5.2">0.7</text><text transform="translate(1013,873.3) scale(0.925,1) rotate(10)" y="5.2">0.6</text><text transform="translate(1140.4,819.6) scale(0.925,1) rotate(-12)" y="5.2">0.4</text><text transform="translate(1224.8,837.1) scale(0.925,1) rotate(3)" y="5.2">0.5</text><text transform="translate(1319.2,787.7) scale(0.925,1) rotate(0)" y="5.2">0.3</text><text transform="translate(1414.8,808.4) scale(0.925,1) rotate(35)" y="5.2">0.4</text></g></g>
<polygon fill="#383838" points="860.1,981.5 870.2,981.5 946.6,940.3 1031.5,850.3 1064.4,959.3 1125,983.1 1183.3,869.7 1224.3,972.8 1287.5,963.7 1371.8,983.1 1452.2,893.9 1466.4,893.9 1466.4,983.6 860.1,983.6"/>
<path d="M860.1 745.2H1466.4V983.1H860.1Z" fill="none" stroke="#000" stroke-opacity="0.74" stroke-width="1.35"/>
<path d="M854.5 745.25H860.1M854.5 824.53H860.1M854.5 903.82H860.1M854.5 983.1H860.1M900.19 983.1V989M1013.43 983.1V989M1126.67 983.1V989M1239.92 983.1V989M1353.16 983.1V989M1466.4 983.1V989" fill="none" stroke="#000" stroke-opacity="0.72" stroke-width="1.25"/>
<path d="M856.8 784.89H860.1M856.8 864.17H860.1M856.8 943.46H860.1M956.81 983.1V986.5M1070.05 983.1V986.5M1183.29 983.1V986.5M1296.54 983.1V986.5M1409.78 983.1V986.5" fill="none" stroke="#000" stroke-opacity="0.5" stroke-width="1.15"/>
<g font-weight="700" font-size="21"><text transform="translate(848.5,751.5) scale(0.925,1)" text-anchor="end">0</text><text transform="translate(848.5,830.8) scale(0.925,1)" text-anchor="end">20</text><text transform="translate(848.5,910.1) scale(0.925,1)" text-anchor="end">40</text><text transform="translate(848.5,989.4) scale(0.925,1)" text-anchor="end">60</text><text transform="translate(900.5,1011.7) scale(0.925,1)" text-anchor="middle">27°N</text><text transform="translate(1013.7,1011.7) scale(0.925,1)" text-anchor="middle">28°N</text><text transform="translate(1127,1011.7) scale(0.925,1)" text-anchor="middle">29°N</text><text transform="translate(1240.2,1011.7) scale(0.925,1)" text-anchor="middle">30°N</text><text transform="translate(1353.5,1011.7) scale(0.925,1)" text-anchor="middle">31°N</text><text transform="translate(1466.7,1011.7) scale(0.925,1)" text-anchor="middle">32°N</text></g>
<text transform="translate(808.5,863.7) rotate(-90)" text-anchor="middle" font-size="26">Depth (m)</text>
<text x="1469.9" y="731.8" text-anchor="end" font-size="25.9">TSW (%)</text>
<text x="778.1" y="736" font-weight="700" font-size="29">F</text>
<rect x="1482" y="745.2" width="21.4" height="237.9" fill="url(#cb)"/>
<path d="M1482 745.9V745.1L1485.6 744.4L1492.7 741.4L1499.8 744.4L1503.4 745.1V745.9Z" fill="#b80000"/>
<path d="M1482 982.8V983.7L1485.6 984.4L1492.7 987.9L1499.8 984.4L1503.4 983.7V982.8Z" fill="#fffffc"/>
<path d="M1482 983.7V745.1M1503.4 745.1V983.7" stroke="#222" stroke-opacity="0.5" stroke-width="1.2" fill="none"/>
<path d="M1485.6 744.4L1492.7 741.4L1499.8 744.4M1485.6 984.4L1492.7 987.9L1499.8 984.4" stroke="#222" stroke-opacity="0.5" stroke-width="1.1" fill="none" stroke-linejoin="round"/>
<path d="M1481.6 745.1L1485.6 744.4M1503.8 745.1L1499.8 744.4M1481.6 983.7L1485.6 984.4M1503.8 983.7L1499.8 984.4" stroke="#111" stroke-opacity="0.85" stroke-width="1.4" fill="none"/>
<path d="M1482 935.53h4.8M1503.4 935.53h-4.8M1482 887.96h4.8M1503.4 887.96h-4.8M1482 840.39h4.8M1503.4 840.39h-4.8M1482 792.82h4.8M1503.4 792.82h-4.8" stroke="#000" stroke-opacity="0.8" stroke-width="1.3" fill="none"/>
<g font-weight="700" font-size="20.2"><text transform="translate(1508.8,989.1) scale(0.935,1)">0</text><text transform="translate(1508.8,941.5) scale(0.935,1)">0.2</text><text transform="translate(1508.8,894) scale(0.935,1)">0.4</text><text transform="translate(1508.8,846.4) scale(0.935,1)">0.6</text><text transform="translate(1508.8,798.8) scale(0.935,1)">0.8</text><text transform="translate(1508.8,751.2) scale(0.935,1)">1</text></g>
<text transform="translate(1483.4,980.8) rotate(-90)" font-weight="700" font-size="12.6" fill="#111" textLength="95.5" lengthAdjust="spacingAndGlyphs">Ocean Data View</text>
</g>
</svg>
</body></html>
